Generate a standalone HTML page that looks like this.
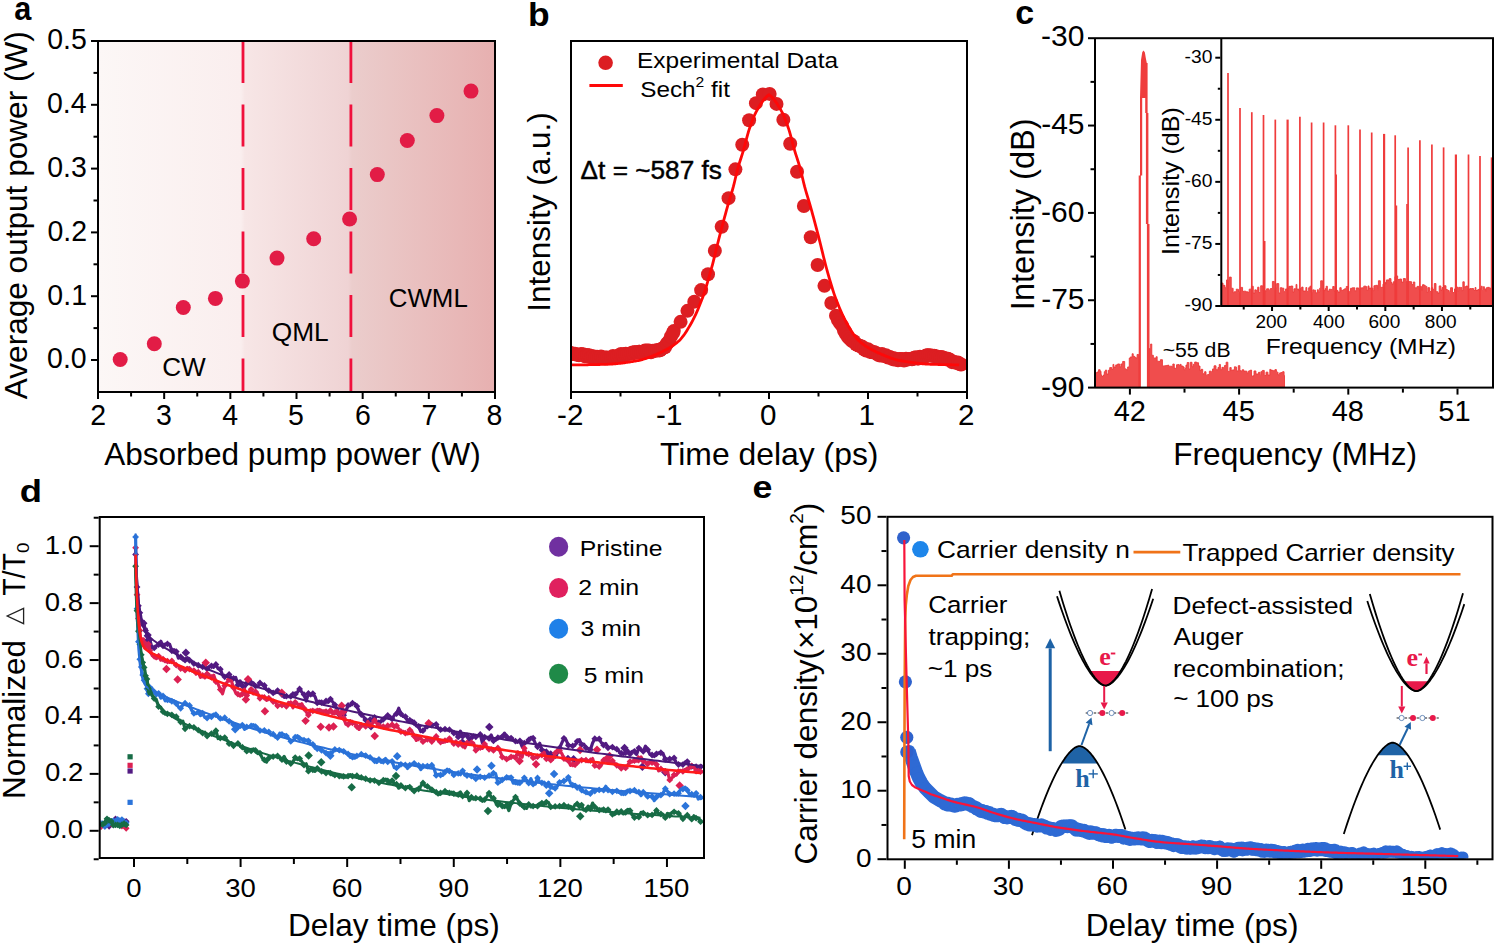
<!DOCTYPE html>
<html><head><meta charset="utf-8"><title>Figure</title>
<style>html,body{margin:0;padding:0;background:#fff;}svg{display:block;}</style></head>
<body><svg width="1495" height="943" viewBox="0 0 1495 943">
<rect width="1495" height="943" fill="#fff"/>
<defs><linearGradient id="ga" x1="98" y1="0" x2="495" y2="0" gradientUnits="userSpaceOnUse"><stop offset="0" stop-color="#fcf7f6"/><stop offset="0.36" stop-color="#faeeee"/><stop offset="0.37" stop-color="#f7e6e6"/><stop offset="0.63" stop-color="#efd3d4"/><stop offset="0.64" stop-color="#ebcdcc"/><stop offset="1" stop-color="#e7b0b0"/></linearGradient></defs>
<rect x="98" y="41" width="397" height="351" fill="url(#ga)"/>
<line x1="243" y1="41" x2="243" y2="392" stroke="#f0103c" stroke-width="2.8" stroke-dasharray="42 21.5"/>
<line x1="350.9" y1="41" x2="350.9" y2="392" stroke="#f0103c" stroke-width="2.8" stroke-dasharray="42 21.5"/>
<circle cx="120.2" cy="359.5" r="7.5" fill="#e21c46"/>
<circle cx="154.3" cy="343.7" r="7.5" fill="#e21c46"/>
<circle cx="183.3" cy="307.5" r="7.5" fill="#e21c46"/>
<circle cx="215.4" cy="298.4" r="7.5" fill="#e21c46"/>
<circle cx="242.4" cy="281.1" r="7.5" fill="#e21c46"/>
<circle cx="277" cy="258.1" r="7.5" fill="#e21c46"/>
<circle cx="313.7" cy="238.8" r="7.5" fill="#e21c46"/>
<circle cx="349.6" cy="219" r="7.5" fill="#e21c46"/>
<circle cx="377.3" cy="174.6" r="7.5" fill="#e21c46"/>
<circle cx="407.3" cy="140.5" r="7.5" fill="#e21c46"/>
<circle cx="436.9" cy="115.6" r="7.5" fill="#e21c46"/>
<circle cx="471" cy="91.1" r="7.5" fill="#e21c46"/>
<rect x="98" y="41" width="397" height="351" fill="none" stroke="#000" stroke-width="2"/>
<line x1="97" y1="360" x2="91" y2="360" stroke="#000" stroke-width="2" />
<line x1="97" y1="296.2" x2="91" y2="296.2" stroke="#000" stroke-width="2" />
<line x1="97" y1="232.4" x2="91" y2="232.4" stroke="#000" stroke-width="2" />
<line x1="97" y1="168.6" x2="91" y2="168.6" stroke="#000" stroke-width="2" />
<line x1="97" y1="104.8" x2="91" y2="104.8" stroke="#000" stroke-width="2" />
<line x1="97" y1="41" x2="91" y2="41" stroke="#000" stroke-width="2" />
<line x1="97" y1="328.1" x2="93.5" y2="328.1" stroke="#000" stroke-width="2" />
<line x1="97" y1="264.3" x2="93.5" y2="264.3" stroke="#000" stroke-width="2" />
<line x1="97" y1="200.5" x2="93.5" y2="200.5" stroke="#000" stroke-width="2" />
<line x1="97" y1="136.7" x2="93.5" y2="136.7" stroke="#000" stroke-width="2" />
<line x1="97" y1="72.9" x2="93.5" y2="72.9" stroke="#000" stroke-width="2" />
<line x1="98" y1="393" x2="98" y2="399" stroke="#000" stroke-width="2" />
<line x1="164.17" y1="393" x2="164.17" y2="399" stroke="#000" stroke-width="2" />
<line x1="230.33" y1="393" x2="230.33" y2="399" stroke="#000" stroke-width="2" />
<line x1="296.5" y1="393" x2="296.5" y2="399" stroke="#000" stroke-width="2" />
<line x1="362.67" y1="393" x2="362.67" y2="399" stroke="#000" stroke-width="2" />
<line x1="428.83" y1="393" x2="428.83" y2="399" stroke="#000" stroke-width="2" />
<line x1="495" y1="393" x2="495" y2="399" stroke="#000" stroke-width="2" />
<line x1="131.08" y1="393" x2="131.08" y2="396.5" stroke="#000" stroke-width="2" />
<line x1="197.25" y1="393" x2="197.25" y2="396.5" stroke="#000" stroke-width="2" />
<line x1="263.42" y1="393" x2="263.42" y2="396.5" stroke="#000" stroke-width="2" />
<line x1="329.58" y1="393" x2="329.58" y2="396.5" stroke="#000" stroke-width="2" />
<line x1="395.75" y1="393" x2="395.75" y2="396.5" stroke="#000" stroke-width="2" />
<line x1="461.92" y1="393" x2="461.92" y2="396.5" stroke="#000" stroke-width="2" />
<text transform="translate(14.28,19.6) scale(0.9432,1)" font-family="Liberation Sans, sans-serif" font-size="32.5" font-weight="bold" fill="#000" >a</text>
<text transform="translate(47.08,368.2) scale(0.9500,1)" font-family="Liberation Sans, sans-serif" font-size="30" fill="#000" >0.0</text>
<text transform="translate(47.37,304.9) scale(0.9500,1)" font-family="Liberation Sans, sans-serif" font-size="30" fill="#000" >0.1</text>
<text transform="translate(47.51,241) scale(0.9500,1)" font-family="Liberation Sans, sans-serif" font-size="30" fill="#000" >0.2</text>
<text transform="translate(47.23,177.1) scale(0.9500,1)" font-family="Liberation Sans, sans-serif" font-size="30" fill="#000" >0.3</text>
<text transform="translate(46.94,113.2) scale(0.9500,1)" font-family="Liberation Sans, sans-serif" font-size="30" fill="#000" >0.4</text>
<text transform="translate(47.23,48.8) scale(0.9500,1)" font-family="Liberation Sans, sans-serif" font-size="30" fill="#000" >0.5</text>
<text transform="translate(90.29,424.6) scale(0.9500,1)" font-family="Liberation Sans, sans-serif" font-size="30" fill="#000" >2</text>
<text transform="translate(156.09,424.6) scale(0.9500,1)" font-family="Liberation Sans, sans-serif" font-size="30" fill="#000" >3</text>
<text transform="translate(222.13,424.6) scale(0.9500,1)" font-family="Liberation Sans, sans-serif" font-size="30" fill="#000" >4</text>
<text transform="translate(287.99,424.6) scale(0.9500,1)" font-family="Liberation Sans, sans-serif" font-size="30" fill="#000" >5</text>
<text transform="translate(354.95,424.6) scale(0.9500,1)" font-family="Liberation Sans, sans-serif" font-size="30" fill="#000" >6</text>
<text transform="translate(421.39,424.6) scale(0.9500,1)" font-family="Liberation Sans, sans-serif" font-size="30" fill="#000" >7</text>
<text transform="translate(486.52,424.6) scale(0.9500,1)" font-family="Liberation Sans, sans-serif" font-size="30" fill="#000" >8</text>
<text transform="translate(104.2,464.6) scale(1.0011,1)" font-family="Liberation Sans, sans-serif" font-size="31.5" fill="#000" >Absorbed pump power (W)</text>
<text transform="translate(27.3,399.2) rotate(-90) scale(1.0028,1)" font-family="Liberation Sans, sans-serif" font-size="31.5" fill="#000" >Average output power (W)</text>
<text transform="translate(162.19,376.3) scale(0.9891,1)" font-family="Liberation Sans, sans-serif" font-size="26.5" fill="#000" >CW</text>
<text transform="translate(271.72,341) scale(0.9930,1)" font-family="Liberation Sans, sans-serif" font-size="26.5" fill="#000" >QML</text>
<text transform="translate(388.71,307.4) scale(0.9767,1)" font-family="Liberation Sans, sans-serif" font-size="26.5" fill="#000" >CWML</text>
<clipPath id="cb"><rect x="572" y="42" width="394" height="349"/></clipPath><g clip-path="url(#cb)">
<circle cx="571" cy="353.5" r="7" fill="#dc1e22"/>
<circle cx="577.85" cy="354.64" r="7" fill="#dc1e22"/>
<circle cx="584.7" cy="355.47" r="7" fill="#dc1e22"/>
<circle cx="591.55" cy="356.19" r="7" fill="#dc1e22"/>
<circle cx="598.4" cy="357.01" r="7" fill="#dc1e22"/>
<circle cx="605.25" cy="357.41" r="7" fill="#dc1e22"/>
<circle cx="612.1" cy="357.18" r="7" fill="#dc1e22"/>
<circle cx="618.95" cy="355.73" r="7" fill="#dc1e22"/>
<circle cx="625.8" cy="353.83" r="7" fill="#dc1e22"/>
<circle cx="632.65" cy="352.44" r="7" fill="#dc1e22"/>
<circle cx="639.5" cy="351.84" r="7" fill="#dc1e22"/>
<circle cx="646.35" cy="351.42" r="7" fill="#dc1e22"/>
<circle cx="653.2" cy="350.91" r="7" fill="#dc1e22"/>
<circle cx="660.05" cy="350.27" r="7" fill="#dc1e22"/>
<circle cx="666.9" cy="343.67" r="7" fill="#dc1e22"/>
<circle cx="673.75" cy="331.12" r="7" fill="#dc1e22"/>
<circle cx="680.6" cy="321.83" r="7" fill="#dc1e22"/>
<circle cx="687.45" cy="310.86" r="7" fill="#dc1e22"/>
<circle cx="694.3" cy="301.65" r="7" fill="#dc1e22"/>
<circle cx="701.15" cy="290.08" r="7" fill="#dc1e22"/>
<circle cx="708" cy="274.25" r="7" fill="#dc1e22"/>
<circle cx="714.85" cy="250.68" r="7" fill="#dc1e22"/>
<circle cx="721.7" cy="226.79" r="7" fill="#dc1e22"/>
<circle cx="728.55" cy="198.17" r="7" fill="#dc1e22"/>
<circle cx="735.4" cy="169.36" r="7" fill="#dc1e22"/>
<circle cx="742.25" cy="144.73" r="7" fill="#dc1e22"/>
<circle cx="749.1" cy="120.31" r="7" fill="#dc1e22"/>
<circle cx="755.95" cy="103.13" r="7" fill="#dc1e22"/>
<circle cx="762.8" cy="94.43" r="7" fill="#dc1e22"/>
<circle cx="769.65" cy="93.9" r="7" fill="#dc1e22"/>
<circle cx="776.5" cy="103.88" r="7" fill="#dc1e22"/>
<circle cx="783.35" cy="119.77" r="7" fill="#dc1e22"/>
<circle cx="790.2" cy="143.81" r="7" fill="#dc1e22"/>
<circle cx="797.05" cy="171.68" r="7" fill="#dc1e22"/>
<circle cx="803.9" cy="206.06" r="7" fill="#dc1e22"/>
<circle cx="810.75" cy="237.32" r="7" fill="#dc1e22"/>
<circle cx="817.6" cy="264.94" r="7" fill="#dc1e22"/>
<circle cx="824.45" cy="285.83" r="7" fill="#dc1e22"/>
<circle cx="831.3" cy="302.99" r="7" fill="#dc1e22"/>
<circle cx="838.15" cy="319.08" r="7" fill="#dc1e22"/>
<circle cx="845" cy="331.5" r="7" fill="#dc1e22"/>
<circle cx="851.85" cy="340.39" r="7" fill="#dc1e22"/>
<circle cx="858.7" cy="345.53" r="7" fill="#dc1e22"/>
<circle cx="865.55" cy="349.09" r="7" fill="#dc1e22"/>
<circle cx="872.4" cy="352.28" r="7" fill="#dc1e22"/>
<circle cx="879.25" cy="354.41" r="7" fill="#dc1e22"/>
<circle cx="886.1" cy="356.38" r="7" fill="#dc1e22"/>
<circle cx="892.95" cy="358.1" r="7" fill="#dc1e22"/>
<circle cx="899.8" cy="359.5" r="7" fill="#dc1e22"/>
<circle cx="906.65" cy="359.83" r="7" fill="#dc1e22"/>
<circle cx="913.5" cy="358.74" r="7" fill="#dc1e22"/>
<circle cx="920.35" cy="357.19" r="7" fill="#dc1e22"/>
<circle cx="927.2" cy="355.51" r="7" fill="#dc1e22"/>
<circle cx="934.05" cy="355.87" r="7" fill="#dc1e22"/>
<circle cx="940.9" cy="357.12" r="7" fill="#dc1e22"/>
<circle cx="947.75" cy="359.35" r="7" fill="#dc1e22"/>
<circle cx="954.6" cy="362.14" r="7" fill="#dc1e22"/>
<circle cx="961.45" cy="364.5" r="7" fill="#dc1e22"/>
<circle cx="571" cy="352.87" r="7" fill="#dc1e22"/>
<circle cx="573" cy="353.94" r="7" fill="#dc1e22"/>
<circle cx="575" cy="353.85" r="7" fill="#dc1e22"/>
<circle cx="577" cy="354.75" r="7" fill="#dc1e22"/>
<circle cx="579" cy="355.14" r="7" fill="#dc1e22"/>
<circle cx="581" cy="354.06" r="7" fill="#dc1e22"/>
<circle cx="583" cy="354.13" r="7" fill="#dc1e22"/>
<circle cx="585" cy="356.31" r="7" fill="#dc1e22"/>
<circle cx="587" cy="355.12" r="7" fill="#dc1e22"/>
<circle cx="589" cy="355.26" r="7" fill="#dc1e22"/>
<circle cx="591" cy="357.31" r="7" fill="#dc1e22"/>
<circle cx="593" cy="356.29" r="7" fill="#dc1e22"/>
<circle cx="595" cy="357.41" r="7" fill="#dc1e22"/>
<circle cx="597" cy="356.78" r="7" fill="#dc1e22"/>
<circle cx="599" cy="357.41" r="7" fill="#dc1e22"/>
<circle cx="601" cy="356.4" r="7" fill="#dc1e22"/>
<circle cx="603" cy="357.64" r="7" fill="#dc1e22"/>
<circle cx="605" cy="358.28" r="7" fill="#dc1e22"/>
<circle cx="607" cy="357.54" r="7" fill="#dc1e22"/>
<circle cx="609" cy="358.14" r="7" fill="#dc1e22"/>
<circle cx="611" cy="357.81" r="7" fill="#dc1e22"/>
<circle cx="613" cy="355.95" r="7" fill="#dc1e22"/>
<circle cx="615" cy="357.22" r="7" fill="#dc1e22"/>
<circle cx="617" cy="356.42" r="7" fill="#dc1e22"/>
<circle cx="619" cy="355.24" r="7" fill="#dc1e22"/>
<circle cx="621" cy="354.02" r="7" fill="#dc1e22"/>
<circle cx="623" cy="355.45" r="7" fill="#dc1e22"/>
<circle cx="625" cy="353.93" r="7" fill="#dc1e22"/>
<circle cx="627" cy="354.1" r="7" fill="#dc1e22"/>
<circle cx="629" cy="354.05" r="7" fill="#dc1e22"/>
<circle cx="631" cy="353.23" r="7" fill="#dc1e22"/>
<circle cx="633" cy="353.42" r="7" fill="#dc1e22"/>
<circle cx="635" cy="351.99" r="7" fill="#dc1e22"/>
<circle cx="637" cy="352.78" r="7" fill="#dc1e22"/>
<circle cx="639" cy="351.75" r="7" fill="#dc1e22"/>
<circle cx="641" cy="352.79" r="7" fill="#dc1e22"/>
<circle cx="643" cy="352.53" r="7" fill="#dc1e22"/>
<circle cx="645" cy="350.53" r="7" fill="#dc1e22"/>
<circle cx="647" cy="350.51" r="7" fill="#dc1e22"/>
<circle cx="649" cy="350.58" r="7" fill="#dc1e22"/>
<circle cx="651" cy="352.23" r="7" fill="#dc1e22"/>
<circle cx="653" cy="350.78" r="7" fill="#dc1e22"/>
<circle cx="655" cy="351.05" r="7" fill="#dc1e22"/>
<circle cx="657" cy="350.09" r="7" fill="#dc1e22"/>
<circle cx="659" cy="350.41" r="7" fill="#dc1e22"/>
<circle cx="661" cy="349.37" r="7" fill="#dc1e22"/>
<circle cx="663" cy="347.96" r="7" fill="#dc1e22"/>
<circle cx="665" cy="347.2" r="7" fill="#dc1e22"/>
<circle cx="667" cy="343.7" r="7" fill="#dc1e22"/>
<circle cx="669" cy="340.97" r="7" fill="#dc1e22"/>
<circle cx="671" cy="336.44" r="7" fill="#dc1e22"/>
<circle cx="673" cy="333.03" r="7" fill="#dc1e22"/>
<circle cx="836" cy="315.76" r="7" fill="#dc1e22"/>
<circle cx="838" cy="319.96" r="7" fill="#dc1e22"/>
<circle cx="840" cy="323.08" r="7" fill="#dc1e22"/>
<circle cx="842" cy="325.75" r="7" fill="#dc1e22"/>
<circle cx="844" cy="330.87" r="7" fill="#dc1e22"/>
<circle cx="846" cy="334.12" r="7" fill="#dc1e22"/>
<circle cx="848" cy="336.97" r="7" fill="#dc1e22"/>
<circle cx="850" cy="339.17" r="7" fill="#dc1e22"/>
<circle cx="852" cy="341.01" r="7" fill="#dc1e22"/>
<circle cx="854" cy="341.31" r="7" fill="#dc1e22"/>
<circle cx="856" cy="344.3" r="7" fill="#dc1e22"/>
<circle cx="858" cy="345.18" r="7" fill="#dc1e22"/>
<circle cx="860" cy="345.98" r="7" fill="#dc1e22"/>
<circle cx="862" cy="346.38" r="7" fill="#dc1e22"/>
<circle cx="864" cy="349.21" r="7" fill="#dc1e22"/>
<circle cx="866" cy="350.47" r="7" fill="#dc1e22"/>
<circle cx="868" cy="349.24" r="7" fill="#dc1e22"/>
<circle cx="870" cy="351.88" r="7" fill="#dc1e22"/>
<circle cx="872" cy="351.88" r="7" fill="#dc1e22"/>
<circle cx="874" cy="352.06" r="7" fill="#dc1e22"/>
<circle cx="876" cy="352.98" r="7" fill="#dc1e22"/>
<circle cx="878" cy="354.7" r="7" fill="#dc1e22"/>
<circle cx="880" cy="355.52" r="7" fill="#dc1e22"/>
<circle cx="882" cy="354.11" r="7" fill="#dc1e22"/>
<circle cx="884" cy="356.05" r="7" fill="#dc1e22"/>
<circle cx="886" cy="355.26" r="7" fill="#dc1e22"/>
<circle cx="888" cy="357.45" r="7" fill="#dc1e22"/>
<circle cx="890" cy="357.09" r="7" fill="#dc1e22"/>
<circle cx="892" cy="358.82" r="7" fill="#dc1e22"/>
<circle cx="894" cy="359.47" r="7" fill="#dc1e22"/>
<circle cx="896" cy="358.74" r="7" fill="#dc1e22"/>
<circle cx="898" cy="360.33" r="7" fill="#dc1e22"/>
<circle cx="900" cy="359.09" r="7" fill="#dc1e22"/>
<circle cx="902" cy="358.94" r="7" fill="#dc1e22"/>
<circle cx="904" cy="360.49" r="7" fill="#dc1e22"/>
<circle cx="906" cy="358.81" r="7" fill="#dc1e22"/>
<circle cx="908" cy="358.89" r="7" fill="#dc1e22"/>
<circle cx="910" cy="359.08" r="7" fill="#dc1e22"/>
<circle cx="912" cy="359.24" r="7" fill="#dc1e22"/>
<circle cx="914" cy="357.83" r="7" fill="#dc1e22"/>
<circle cx="916" cy="357.16" r="7" fill="#dc1e22"/>
<circle cx="918" cy="358.65" r="7" fill="#dc1e22"/>
<circle cx="920" cy="356.83" r="7" fill="#dc1e22"/>
<circle cx="922" cy="357.89" r="7" fill="#dc1e22"/>
<circle cx="924" cy="357.25" r="7" fill="#dc1e22"/>
<circle cx="926" cy="355.51" r="7" fill="#dc1e22"/>
<circle cx="928" cy="355.22" r="7" fill="#dc1e22"/>
<circle cx="930" cy="355.18" r="7" fill="#dc1e22"/>
<circle cx="932" cy="355.84" r="7" fill="#dc1e22"/>
<circle cx="934" cy="356.09" r="7" fill="#dc1e22"/>
<circle cx="936" cy="356.36" r="7" fill="#dc1e22"/>
<circle cx="938" cy="356.88" r="7" fill="#dc1e22"/>
<circle cx="940" cy="358.01" r="7" fill="#dc1e22"/>
<circle cx="942" cy="357.33" r="7" fill="#dc1e22"/>
<circle cx="944" cy="357.72" r="7" fill="#dc1e22"/>
<circle cx="946" cy="359.2" r="7" fill="#dc1e22"/>
<circle cx="948" cy="358.81" r="7" fill="#dc1e22"/>
<circle cx="950" cy="359.74" r="7" fill="#dc1e22"/>
<circle cx="952" cy="362.15" r="7" fill="#dc1e22"/>
<circle cx="954" cy="361.93" r="7" fill="#dc1e22"/>
<circle cx="956" cy="362.87" r="7" fill="#dc1e22"/>
<circle cx="958" cy="362.45" r="7" fill="#dc1e22"/>
<circle cx="960" cy="364.3" r="7" fill="#dc1e22"/>
<path d="M571,364.96 L571.99,364.96 L572.98,364.95 L573.97,364.94 L574.96,364.93 L575.95,364.92 L576.94,364.91 L577.93,364.89 L578.92,364.88 L579.91,364.87 L580.9,364.86 L581.89,364.84 L582.88,364.83 L583.87,364.81 L584.86,364.79 L585.85,364.78 L586.84,364.76 L587.83,364.74 L588.82,364.72 L589.81,364.7 L590.8,364.68 L591.79,364.66 L592.78,364.64 L593.77,364.62 L594.76,364.6 L595.75,364.58 L596.74,364.55 L597.73,364.53 L598.72,364.5 L599.71,364.48 L600.7,364.45 L601.69,364.43 L602.68,364.4 L603.67,364.38 L604.66,364.35 L605.65,364.32 L606.64,364.29 L607.63,364.26 L608.62,364.22 L609.61,364.17 L610.6,364.12 L611.59,364.06 L612.58,363.99 L613.57,363.92 L614.56,363.84 L615.55,363.76 L616.54,363.66 L617.53,363.57 L618.52,363.47 L619.51,363.36 L620.5,363.25 L621.49,363.13 L622.48,363.01 L623.47,362.89 L624.46,362.76 L625.45,362.62 L626.44,362.48 L627.43,362.34 L628.42,362.19 L629.41,362.04 L630.4,361.89 L631.39,361.73 L632.38,361.57 L633.37,361.41 L634.36,361.24 L635.35,361.07 L636.34,360.9 L637.33,360.72 L638.32,360.53 L639.31,360.31 L640.3,360.08 L641.29,359.83 L642.28,359.57 L643.27,359.28 L644.26,358.98 L645.25,358.67 L646.24,358.34 L647.23,358 L648.22,357.65 L649.21,357.29 L650.2,356.91 L651.19,356.52 L652.18,356.13 L653.17,355.72 L654.16,355.31 L655.15,354.89 L656.14,354.46 L657.13,354.03 L658.12,353.59 L659.11,353.15 L660.1,352.71 L661.09,352.25 L662.08,351.79 L663.07,351.32 L664.06,350.83 L665.05,350.33 L666.04,349.82 L667.03,349.28 L668.02,348.73 L669.01,348.15 L670,347.56 L670.99,346.94 L671.98,346.29 L672.97,345.62 L673.96,344.91 L674.95,344.18 L675.94,343.42 L676.93,342.62 L677.92,341.79 L678.91,340.92 L679.9,339.96 L680.89,338.89 L681.88,337.72 L682.87,336.46 L683.86,335.1 L684.85,333.68 L685.84,332.18 L686.83,330.63 L687.82,329.02 L688.81,327.38 L689.8,325.7 L690.79,324 L691.78,322.22 L692.77,320.36 L693.76,318.41 L694.75,316.38 L695.74,314.28 L696.73,312.09 L697.72,309.83 L698.71,307.49 L699.7,305.07 L700.69,302.59 L701.68,300.03 L702.67,297.39 L703.66,294.57 L704.65,291.61 L705.64,288.5 L706.63,285.27 L707.62,281.94 L708.61,278.53 L709.6,275.06 L710.59,271.54 L711.58,267.99 L712.57,264.29 L713.56,260.44 L714.55,256.46 L715.54,252.41 L716.53,248.33 L717.52,244.27 L718.51,240.28 L719.5,236.39 L720.49,232.59 L721.48,228.82 L722.47,225.08 L723.46,221.37 L724.45,217.7 L725.44,214.06 L726.43,210.47 L727.42,206.93 L728.41,203.51 L729.4,200.2 L730.39,196.94 L731.38,193.65 L732.37,190.25 L733.36,186.67 L734.35,182.74 L735.34,178.53 L736.33,174.31 L737.32,170.33 L738.31,166.76 L739.3,163.45 L740.29,160.29 L741.28,157.2 L742.27,154.07 L743.26,150.81 L744.25,147.32 L745.24,143.59 L746.23,139.78 L747.22,136.04 L748.21,132.54 L749.2,129.41 L750.19,126.49 L751.18,123.67 L752.17,120.96 L753.16,118.4 L754.15,116.01 L755.14,113.83 L756.13,111.87 L757.12,110.11 L758.11,108.39 L759.1,106.72 L760.09,105.1 L761.08,103.55 L762.07,102.07 L763.06,100.68 L764.05,99.39 L765.04,98.21 L766.03,97.15 L767.02,96.22 L768.01,95.43 L769,94.8 L769.99,95.43 L770.98,96.22 L771.97,97.15 L772.96,98.21 L773.95,99.39 L774.94,100.68 L775.93,102.07 L776.92,103.55 L777.91,105.1 L778.9,106.72 L779.89,108.39 L780.88,110.11 L781.87,111.87 L782.86,113.83 L783.85,116.01 L784.84,118.4 L785.83,120.96 L786.82,123.67 L787.81,126.49 L788.8,129.41 L789.79,132.54 L790.78,136.04 L791.77,139.78 L792.76,143.59 L793.75,147.32 L794.74,150.81 L795.73,154.07 L796.72,157.2 L797.71,160.29 L798.7,163.45 L799.69,166.76 L800.68,170.33 L801.67,174.31 L802.66,178.53 L803.65,182.74 L804.64,186.67 L805.63,190.25 L806.62,193.65 L807.61,196.94 L808.6,200.2 L809.59,203.51 L810.58,206.93 L811.57,210.47 L812.56,214.06 L813.55,217.7 L814.54,221.37 L815.53,225.08 L816.52,228.82 L817.51,232.59 L818.5,236.39 L819.49,240.28 L820.48,244.27 L821.47,248.33 L822.46,252.41 L823.45,256.46 L824.44,260.44 L825.43,264.29 L826.42,267.99 L827.41,271.54 L828.4,275.06 L829.39,278.53 L830.38,281.94 L831.37,285.27 L832.36,288.5 L833.35,291.61 L834.34,294.57 L835.33,297.39 L836.32,300.03 L837.31,302.59 L838.3,305.07 L839.29,307.49 L840.28,309.83 L841.27,312.09 L842.26,314.28 L843.25,316.38 L844.24,318.41 L845.23,320.36 L846.22,322.22 L847.21,324 L848.2,325.7 L849.19,327.38 L850.18,329.02 L851.17,330.63 L852.16,332.18 L853.15,333.68 L854.14,335.1 L855.13,336.46 L856.12,337.72 L857.11,338.89 L858.1,339.96 L859.09,340.92 L860.08,341.79 L861.07,342.62 L862.06,343.42 L863.05,344.18 L864.04,344.91 L865.03,345.62 L866.02,346.29 L867.01,346.94 L868,347.56 L868.99,348.15 L869.98,348.73 L870.97,349.28 L871.96,349.82 L872.95,350.33 L873.94,350.83 L874.93,351.32 L875.92,351.79 L876.91,352.25 L877.9,352.71 L878.89,353.15 L879.88,353.59 L880.87,354.03 L881.86,354.46 L882.85,354.89 L883.84,355.31 L884.83,355.72 L885.82,356.13 L886.81,356.52 L887.8,356.91 L888.79,357.29 L889.78,357.65 L890.77,358 L891.76,358.34 L892.75,358.67 L893.74,358.98 L894.73,359.28 L895.72,359.57 L896.71,359.83 L897.7,360.08 L898.69,360.31 L899.68,360.53 L900.67,360.72 L901.66,360.9 L902.65,361.07 L903.64,361.24 L904.63,361.41 L905.62,361.57 L906.61,361.73 L907.6,361.89 L908.59,362.04 L909.58,362.19 L910.57,362.34 L911.56,362.48 L912.55,362.62 L913.54,362.76 L914.53,362.89 L915.52,363.01 L916.51,363.13 L917.5,363.25 L918.49,363.36 L919.48,363.47 L920.47,363.57 L921.46,363.66 L922.45,363.76 L923.44,363.84 L924.43,363.92 L925.42,363.99 L926.41,364.06 L927.4,364.12 L928.39,364.17 L929.38,364.22 L930.37,364.26 L931.36,364.29 L932.35,364.32 L933.34,364.35 L934.33,364.38 L935.32,364.4 L936.31,364.43 L937.3,364.45 L938.29,364.48 L939.28,364.5 L940.27,364.53 L941.26,364.55 L942.25,364.58 L943.24,364.6 L944.23,364.62 L945.22,364.64 L946.21,364.66 L947.2,364.68 L948.19,364.7 L949.18,364.72 L950.17,364.74 L951.16,364.76 L952.15,364.78 L953.14,364.79 L954.13,364.81 L955.12,364.83 L956.11,364.84 L957.1,364.86 L958.09,364.87 L959.08,364.88" stroke="#fe0808" stroke-width="2.8" fill="none" stroke-linejoin="round" />
</g>
<rect x="571" y="41" width="396" height="351" fill="none" stroke="#000" stroke-width="2"/>
<line x1="571" y1="393" x2="571" y2="399" stroke="#000" stroke-width="2" />
<line x1="670" y1="393" x2="670" y2="399" stroke="#000" stroke-width="2" />
<line x1="769" y1="393" x2="769" y2="399" stroke="#000" stroke-width="2" />
<line x1="868" y1="393" x2="868" y2="399" stroke="#000" stroke-width="2" />
<line x1="967" y1="393" x2="967" y2="399" stroke="#000" stroke-width="2" />
<line x1="620.5" y1="393" x2="620.5" y2="396.5" stroke="#000" stroke-width="2" />
<line x1="719.5" y1="393" x2="719.5" y2="396.5" stroke="#000" stroke-width="2" />
<line x1="818.5" y1="393" x2="818.5" y2="396.5" stroke="#000" stroke-width="2" />
<line x1="917.5" y1="393" x2="917.5" y2="396.5" stroke="#000" stroke-width="2" />
<circle cx="605.6" cy="62.8" r="7.3" fill="#dc1e22"/>
<text transform="translate(637.04,68.2) scale(1.0870,1)" font-family="Liberation Sans, sans-serif" font-size="22.5" fill="#000" >Experimental Data</text>
<line x1="589.4" y1="85.5" x2="622.8" y2="85.5" stroke="#fe0808" stroke-width="3" />
<text transform="translate(640.2,97.1) scale(1.08,1)" font-family="Liberation Sans, sans-serif" font-size="22.5" fill="#000">Sech<tspan font-size="14.5" dy="-10.5">2</tspan><tspan dy="10.5"> fit</tspan></text>
<text transform="translate(580.61,178.9) scale(1.0198,1)" font-family="Liberation Sans, sans-serif" font-size="25.7" fill="#000" stroke="#000" stroke-width="0.45">Δt = ~587 fs</text>
<text transform="translate(528,25.6) scale(1.0906,1)" font-family="Liberation Sans, sans-serif" font-size="32.5" font-weight="bold" fill="#000" >b</text>
<text transform="translate(557.1,424.8) scale(1.0000,1)" font-family="Liberation Sans, sans-serif" font-size="29.6" fill="#000" >-2</text>
<text transform="translate(656.03,424.8) scale(1.0000,1)" font-family="Liberation Sans, sans-serif" font-size="29.6" fill="#000" >-1</text>
<text transform="translate(759.91,424.8) scale(1.0000,1)" font-family="Liberation Sans, sans-serif" font-size="29.6" fill="#000" >0</text>
<text transform="translate(858.54,424.8) scale(1.0000,1)" font-family="Liberation Sans, sans-serif" font-size="29.6" fill="#000" >1</text>
<text transform="translate(957.99,424.8) scale(1.0000,1)" font-family="Liberation Sans, sans-serif" font-size="29.6" fill="#000" >2</text>
<text transform="translate(659.96,464.6) scale(1.0124,1)" font-family="Liberation Sans, sans-serif" font-size="31.5" fill="#000" >Time delay (ps)</text>
<text transform="translate(549.5,311.83) rotate(-90) scale(0.9999,1)" font-family="Liberation Sans, sans-serif" font-size="31.5" fill="#000" >Intensity (a.u.)</text>
<path d="M1095,387.6 L1095,372.8 L1096.98,372.8 L1096.98,372.06 L1098.53,372.06 L1098.53,369.74 L1100.12,369.74 L1100.12,371.3 L1101.02,371.3 L1101.02,374.99 L1101.86,374.99 L1101.86,376.51 L1103.49,376.51 L1103.49,374.98 L1104.29,374.98 L1104.29,371.69 L1105.38,371.69 L1105.38,370.14 L1106.73,370.14 L1106.73,374.02 L1108.35,374.02 L1108.35,370.26 L1109.72,370.26 L1109.72,367.62 L1111.79,367.62 L1111.79,369.37 L1112.98,369.37 L1112.98,364.41 L1113.86,364.41 L1113.86,367.07 L1115.74,367.07 L1115.74,364.91 L1117.62,364.91 L1117.62,363.99 L1119.58,363.99 L1119.58,366.87 L1120.88,366.87 L1120.88,363.96 L1122.67,363.96 L1122.67,361.47 L1124.7,361.47 L1124.7,368.72 L1125.61,368.72 L1125.61,369.26 L1126.63,369.26 L1126.63,369.76 L1127.65,369.76 L1127.65,366.97 L1129.27,366.97 L1129.27,358.11 L1130.33,358.11 L1130.33,356.97 L1132.15,356.97 L1132.15,353.75 L1133.21,353.75 L1133.21,356.36 L1134.82,356.36 L1134.82,357.59 L1135.88,357.59 L1135.88,357.95 L1137.08,357.95 L1137.08,354.48 L1138.62,354.48 L1138.62,354.73 L1139.2,354.73 L1139.2,387.6 Z" stroke="#ec3838" stroke-width="0.9" fill="#f04d4d" stroke-linejoin="round" />
<path d="M1149,387.6 L1149,348.69 L1150.65,348.69 L1150.65,344.06 L1151.78,344.06 L1151.78,355.28 L1153.34,355.28 L1153.34,358.16 L1154.31,358.16 L1154.31,357.97 L1156.27,357.97 L1156.27,356.67 L1157.15,356.67 L1157.15,361.2 L1158.45,361.2 L1158.45,361.37 L1160.42,361.37 L1160.42,359.69 L1162.43,359.69 L1162.43,365.77 L1163.39,365.77 L1163.39,366.51 L1164.38,366.51 L1164.38,365.76 L1166.22,365.76 L1166.22,365.47 L1167.78,365.47 L1167.78,365.07 L1168.6,365.07 L1168.6,366.21 L1170.65,366.21 L1170.65,366.23 L1171.9,366.23 L1171.9,366.72 L1172.83,366.72 L1172.83,364.04 L1174.27,364.04 L1174.27,368.08 L1175.09,368.08 L1175.09,368.32 L1176.54,368.32 L1176.54,364.77 L1177.83,364.77 L1177.83,364.48 L1178.84,364.48 L1178.84,365.22 L1180.07,365.22 L1180.07,364.4 L1181.12,364.4 L1181.12,366.07 L1183.14,366.07 L1183.14,367.01 L1184.14,367.01 L1184.14,369.65 L1185.17,369.65 L1185.17,368.32 L1185.96,368.32 L1185.96,365.09 L1187.18,365.09 L1187.18,362.52 L1188.77,362.52 L1188.77,369.01 L1190.2,369.01 L1190.2,362.3 L1192,362.3 L1192,366.76 L1193.08,366.76 L1193.08,364.39 L1194.68,364.39 L1194.68,362.07 L1196.62,362.07 L1196.62,362.74 L1198.54,362.74 L1198.54,366 L1199.98,366 L1199.98,370.58 L1201.04,370.58 L1201.04,369.34 L1202.71,369.34 L1202.71,373.71 L1204.64,373.71 L1204.64,371.73 L1205.99,371.73 L1205.99,375.16 L1207.58,375.16 L1207.58,374.6 L1209.35,374.6 L1209.35,371.18 L1211.3,371.18 L1211.3,372.41 L1212.53,372.41 L1212.53,368.98 L1214.05,368.98 L1214.05,365.82 L1216,365.82 L1216,369.65 L1217.96,369.65 L1217.96,367.47 L1219.24,367.47 L1219.24,364.46 L1220.42,364.46 L1220.42,369.62 L1221.91,369.62 L1221.91,367.37 L1223.38,367.37 L1223.38,367.63 L1224.48,367.63 L1224.48,365.57 L1226.15,365.57 L1226.15,362.2 L1227.84,362.2 L1227.84,371.43 L1229.83,371.43 L1229.83,367.57 L1231.19,367.57 L1231.19,370.5 L1232.41,370.5 L1232.41,369.9 L1234.42,369.9 L1234.42,366.81 L1235.56,366.81 L1235.56,367.14 L1236.63,367.14 L1236.63,370.88 L1238.32,370.88 L1238.32,365.67 L1239.89,365.67 L1239.89,370.65 L1241.26,370.65 L1241.26,371.28 L1242.34,371.28 L1242.34,369.68 L1243.63,369.68 L1243.63,371.06 L1245.68,371.06 L1245.68,371.18 L1246.91,371.18 L1246.91,372.89 L1248.34,372.89 L1248.34,371.17 L1249.3,371.17 L1249.3,370.74 L1250.41,370.74 L1250.41,370.09 L1251.56,370.09 L1251.56,376.29 L1252.84,376.29 L1252.84,375.81 L1254.04,375.81 L1254.04,370.96 L1255.92,370.96 L1255.92,373.95 L1257.23,373.95 L1257.23,373.93 L1258.54,373.93 L1258.54,372.33 L1259.84,372.33 L1259.84,375.14 L1260.89,375.14 L1260.89,371.66 L1262.35,371.66 L1262.35,370.45 L1264.26,370.45 L1264.26,375.48 L1266,375.48 L1266,372.15 L1267.9,372.15 L1267.9,375.04 L1269.83,375.04 L1269.83,369.37 L1270.62,369.37 L1270.62,370.1 L1272.33,370.1 L1272.33,370.47 L1273.35,370.47 L1273.35,370.65 L1274.92,370.65 L1274.92,369.62 L1276.4,369.62 L1276.4,372.13 L1278.03,372.13 L1278.03,374.71 L1279.63,374.71 L1279.63,372.89 L1280.92,372.89 L1280.92,372.56 L1282.63,372.56 L1282.63,371.68 L1284.05,371.68 L1284.05,375.38 L1284.5,375.38 L1284.5,387.6 Z" stroke="#ec3838" stroke-width="0.9" fill="#f04d4d" stroke-linejoin="round" />
<path d="M1138.7,387.6 L1138.7,175.5 L1140,175.5 L1140,97 L1142.2,97 L1142.2,175.5 L1140.9,175.5 L1140.9,387.6 Z" stroke="none" stroke-width="0" fill="#ef3d3d" stroke-linejoin="round" />
<path d="M1146.9,387.6 L1146.9,224 L1145.9,224 L1145.9,113 L1145.2,113 L1145.2,63 L1147.6,63 L1147.6,113 L1148.4,113 L1148.4,224 L1149.5,224 L1149.5,387.6 Z" stroke="none" stroke-width="0" fill="#ef3d3d" stroke-linejoin="round" />
<path d="M1140,98 L1141,60 L1142.3,52 L1143.6,50.4 L1144.9,52.5 L1145.8,58 L1146.8,63 L1146.4,98 Z" stroke="none" stroke-width="0" fill="#ef3d3d" stroke-linejoin="round" />
<path d="M1221.3,306 L1221.3,283.09 L1223.03,283.09 L1223.03,285.35 L1224.98,285.35 L1224.98,287.72 L1226.53,287.72 L1226.53,279.94 L1228.19,279.94 L1228.19,282.4 L1229.35,282.4 L1229.35,277.11 L1231.22,277.11 L1231.22,288.2 L1232.11,288.2 L1232.11,288.27 L1233.11,288.27 L1233.11,292.75 L1234.17,292.75 L1234.17,291.79 L1236.31,291.79 L1236.31,289.16 L1237.63,289.16 L1237.63,289.39 L1238.52,289.39 L1238.52,292.13 L1240.45,292.13 L1240.45,287.4 L1242.55,287.4 L1242.55,291.33 L1244.2,291.33 L1244.2,291.15 L1245.71,291.15 L1245.71,291.85 L1247.84,291.85 L1247.84,292.29 L1249.19,292.29 L1249.19,289.15 L1251.42,289.15 L1251.42,286.27 L1253.27,286.27 L1253.27,293.05 L1254.8,293.05 L1254.8,289.86 L1255.95,289.86 L1255.95,290.28 L1257.66,290.28 L1257.66,287.2 L1258.99,287.2 L1258.99,292.57 L1260.66,292.57 L1260.66,285.81 L1262.64,285.81 L1262.64,291.49 L1264.44,291.49 L1264.44,290.77 L1266.62,290.77 L1266.62,288.83 L1268.81,288.83 L1268.81,290.15 L1270.33,290.15 L1270.33,288.6 L1272.4,288.6 L1272.4,281.46 L1274.32,281.46 L1274.32,289.38 L1275.24,289.38 L1275.24,287.76 L1276.66,287.76 L1276.66,283.61 L1278.76,283.61 L1278.76,292.98 L1280.27,292.98 L1280.27,287.72 L1281.85,287.72 L1281.85,288.2 L1283.86,288.2 L1283.86,291.63 L1285.54,291.63 L1285.54,288.97 L1287.57,288.97 L1287.57,288.12 L1288.8,288.12 L1288.8,286.36 L1290.98,286.36 L1290.98,286.07 L1292.72,286.07 L1292.72,292.03 L1293.92,292.03 L1293.92,288.82 L1296.02,288.82 L1296.02,284.44 L1296.9,284.44 L1296.9,289.12 L1298.95,289.12 L1298.95,290.62 L1300.55,290.62 L1300.55,288.23 L1301.7,288.23 L1301.7,287.1 L1303.06,287.1 L1303.06,291.01 L1303.97,291.01 L1303.97,291.02 L1305.89,291.02 L1305.89,287.52 L1306.82,287.52 L1306.82,291.4 L1308.66,291.4 L1308.66,287.72 L1309.94,287.72 L1309.94,286.2 L1311.21,286.2 L1311.21,292.39 L1312.76,292.39 L1312.76,289.86 L1313.73,289.86 L1313.73,290.23 L1315.6,290.23 L1315.6,292.86 L1317.42,292.86 L1317.42,289.69 L1318.35,289.69 L1318.35,291.77 L1319.69,291.77 L1319.69,288.19 L1320.68,288.19 L1320.68,280.8 L1322.58,280.8 L1322.58,289.13 L1323.45,289.13 L1323.45,290.54 L1325.01,290.54 L1325.01,288.7 L1326.17,288.7 L1326.17,286.25 L1327.36,286.25 L1327.36,290.97 L1329.21,290.97 L1329.21,289.18 L1330.59,289.18 L1330.59,289.4 L1332.78,289.4 L1332.78,286.51 L1334.31,286.51 L1334.31,291.06 L1336.24,291.06 L1336.24,290.41 L1338.01,290.41 L1338.01,292.08 L1339.81,292.08 L1339.81,287.67 L1341.19,287.67 L1341.19,290.33 L1343.38,290.33 L1343.38,289.62 L1344.65,289.62 L1344.65,288.72 L1346.27,288.72 L1346.27,286.47 L1348.43,286.47 L1348.43,291.24 L1349.42,291.24 L1349.42,292.78 L1350.55,292.78 L1350.55,288.31 L1352.34,288.31 L1352.34,287.78 L1353.63,287.78 L1353.63,287.73 L1354.69,287.73 L1354.69,290.8 L1356.37,290.8 L1356.37,287.9 L1358.52,287.9 L1358.52,289.26 L1360.23,289.26 L1360.23,287.92 L1361.61,287.92 L1361.61,287.86 L1363.79,287.86 L1363.79,286.15 L1365.94,286.15 L1365.94,286.73 L1366.83,286.73 L1366.83,290.28 L1368.01,290.28 L1368.01,285.95 L1368.98,285.95 L1368.98,288.12 L1371.08,288.12 L1371.08,288.14 L1373.02,288.14 L1373.02,290.63 L1373.93,290.63 L1373.93,285.71 L1375.55,285.71 L1375.55,285.34 L1377.57,285.34 L1377.57,289.59 L1378.43,289.59 L1378.43,280.75 L1380.32,280.75 L1380.32,287.31 L1381.24,287.31 L1381.24,287.35 L1382.95,287.35 L1382.95,284.21 L1384.26,284.21 L1384.26,282.24 L1385.52,282.24 L1385.52,284.32 L1386.46,284.32 L1386.46,279.92 L1388.25,279.92 L1388.25,280.1 L1389.17,280.1 L1389.17,278.64 L1390.96,278.64 L1390.96,282.37 L1391.95,282.37 L1391.95,283.98 L1393.36,283.98 L1393.36,281.7 L1394.93,281.7 L1394.93,276.67 L1396.07,276.67 L1396.07,275.95 L1397.66,275.95 L1397.66,279.56 L1399.49,279.56 L1399.49,279.04 L1401.52,279.04 L1401.52,282.09 L1403.32,282.09 L1403.32,278.55 L1405.42,278.55 L1405.42,281.65 L1407.62,281.65 L1407.62,281.49 L1409.77,281.49 L1409.77,281.66 L1411.47,281.66 L1411.47,284.56 L1413.21,284.56 L1413.21,282.04 L1414.8,282.04 L1414.8,287.85 L1417.04,287.85 L1417.04,286.38 L1418.92,286.38 L1418.92,289.47 L1419.87,289.47 L1419.87,286.41 L1421.47,286.41 L1421.47,289.99 L1422.49,289.99 L1422.49,284.72 L1424.15,284.72 L1424.15,285.36 L1425.28,285.36 L1425.28,286.39 L1426.85,286.39 L1426.85,292.34 L1427.86,292.34 L1427.86,287.63 L1429.6,287.63 L1429.6,291.45 L1431.35,291.45 L1431.35,287.72 L1432.72,287.72 L1432.72,289.42 L1434.32,289.42 L1434.32,283.52 L1435.98,283.52 L1435.98,291.68 L1437.84,291.68 L1437.84,293.05 L1439.23,293.05 L1439.23,285.93 L1440.88,285.93 L1440.88,290.05 L1442,290.05 L1442,287.54 L1443.98,287.54 L1443.98,285.72 L1445.97,285.72 L1445.97,289.5 L1447.36,289.5 L1447.36,290.43 L1449.17,290.43 L1449.17,292.13 L1450.54,292.13 L1450.54,287.7 L1452.49,287.7 L1452.49,292.58 L1454.51,292.58 L1454.51,288.93 L1456.24,288.93 L1456.24,286.95 L1457.45,286.95 L1457.45,290.81 L1458.6,290.81 L1458.6,287.39 L1460.43,287.39 L1460.43,287.47 L1461.74,287.47 L1461.74,290.57 L1462.85,290.57 L1462.85,281.8 L1464.27,281.8 L1464.27,286.79 L1466.03,286.79 L1466.03,286.05 L1467.7,286.05 L1467.7,289.1 L1469.89,289.1 L1469.89,288.59 L1471.62,288.59 L1471.62,288.53 L1473.52,288.53 L1473.52,290.48 L1475.07,290.48 L1475.07,287.51 L1475.94,287.51 L1475.94,290.53 L1477.09,290.53 L1477.09,290.12 L1478.05,290.12 L1478.05,289.43 L1480.01,289.43 L1480.01,288.25 L1481.15,288.25 L1481.15,286.25 L1482.21,286.25 L1482.21,290.39 L1483.36,290.39 L1483.36,286.7 L1484.36,286.7 L1484.36,288.82 L1485.48,288.82 L1485.48,290.94 L1486.44,290.94 L1486.44,287.65 L1487.42,287.65 L1487.42,287.37 L1489.4,287.37 L1489.4,289.65 L1490.25,289.65 L1490.25,288.08 L1492,288.08 L1492,306 Z" stroke="#ec3838" stroke-width="0.9" fill="#f04d4d" stroke-linejoin="round" />
<line x1="1228" y1="72.9" x2="1228" y2="306" stroke="#ef3b3b" stroke-width="1.7" />
<line x1="1240" y1="107.9" x2="1240" y2="306" stroke="#ef3b3b" stroke-width="1.7" />
<line x1="1251.8" y1="112.2" x2="1251.8" y2="306" stroke="#ef3b3b" stroke-width="1.7" />
<line x1="1263.5" y1="115" x2="1263.5" y2="306" stroke="#ef3b3b" stroke-width="1.7" />
<line x1="1275.3" y1="119.6" x2="1275.3" y2="306" stroke="#ef3b3b" stroke-width="1.7" />
<line x1="1287.6" y1="119.6" x2="1287.6" y2="306" stroke="#ef3b3b" stroke-width="2.2" />
<line x1="1299.9" y1="116.7" x2="1299.9" y2="306" stroke="#ef3b3b" stroke-width="1.7" />
<line x1="1311.6" y1="122.5" x2="1311.6" y2="306" stroke="#ef3b3b" stroke-width="1.7" />
<line x1="1323.6" y1="122.5" x2="1323.6" y2="306" stroke="#ef3b3b" stroke-width="1.7" />
<line x1="1335.4" y1="125.3" x2="1335.4" y2="306" stroke="#ef3b3b" stroke-width="1.7" />
<line x1="1348.3" y1="125.3" x2="1348.3" y2="306" stroke="#ef3b3b" stroke-width="1.7" />
<line x1="1360" y1="129.6" x2="1360" y2="306" stroke="#ef3b3b" stroke-width="1.7" />
<line x1="1371.7" y1="132.5" x2="1371.7" y2="306" stroke="#ef3b3b" stroke-width="1.7" />
<line x1="1384.1" y1="133.9" x2="1384.1" y2="306" stroke="#ef3b3b" stroke-width="2.2" />
<line x1="1395.2" y1="135.3" x2="1395.2" y2="306" stroke="#ef3b3b" stroke-width="1.7" />
<line x1="1408.1" y1="147.4" x2="1408.1" y2="306" stroke="#ef3b3b" stroke-width="1.7" />
<line x1="1419.9" y1="140.2" x2="1419.9" y2="306" stroke="#ef3b3b" stroke-width="1.7" />
<line x1="1431.9" y1="144.5" x2="1431.9" y2="306" stroke="#ef3b3b" stroke-width="1.7" />
<line x1="1443.6" y1="147.4" x2="1443.6" y2="306" stroke="#ef3b3b" stroke-width="1.7" />
<line x1="1455.9" y1="154.5" x2="1455.9" y2="306" stroke="#ef3b3b" stroke-width="2.2" />
<line x1="1468.5" y1="154.5" x2="1468.5" y2="306" stroke="#ef3b3b" stroke-width="1.7" />
<line x1="1480" y1="156" x2="1480" y2="306" stroke="#ef3b3b" stroke-width="1.7" />
<line x1="1491.6" y1="157.4" x2="1491.6" y2="306" stroke="#ef3b3b" stroke-width="1.7" />
<line x1="1264.7" y1="241" x2="1264.7" y2="306" stroke="#ef3b3b" stroke-width="1.6" />
<line x1="1336.2" y1="174.6" x2="1336.2" y2="306" stroke="#ef3b3b" stroke-width="1.6" />
<line x1="1396.4" y1="205.5" x2="1396.4" y2="306" stroke="#ef3b3b" stroke-width="1.6" />
<line x1="1407" y1="204" x2="1407" y2="306" stroke="#ef3b3b" stroke-width="1.6" />
<rect x="1095" y="38.2" width="398" height="349.4" fill="none" stroke="#000" stroke-width="2"/>
<line x1="1221.3" y1="38.2" x2="1221.3" y2="307" stroke="#000" stroke-width="2" />
<line x1="1220.3" y1="306" x2="1493" y2="306" stroke="#000" stroke-width="2" />
<line x1="1094" y1="38.2" x2="1088" y2="38.2" stroke="#000" stroke-width="2" />
<line x1="1094" y1="125.55" x2="1088" y2="125.55" stroke="#000" stroke-width="2" />
<line x1="1094" y1="212.9" x2="1088" y2="212.9" stroke="#000" stroke-width="2" />
<line x1="1094" y1="300.25" x2="1088" y2="300.25" stroke="#000" stroke-width="2" />
<line x1="1094" y1="387.6" x2="1088" y2="387.6" stroke="#000" stroke-width="2" />
<line x1="1094" y1="81.88" x2="1090.5" y2="81.88" stroke="#000" stroke-width="2" />
<line x1="1094" y1="169.23" x2="1090.5" y2="169.23" stroke="#000" stroke-width="2" />
<line x1="1094" y1="256.58" x2="1090.5" y2="256.58" stroke="#000" stroke-width="2" />
<line x1="1094" y1="343.93" x2="1090.5" y2="343.93" stroke="#000" stroke-width="2" />
<line x1="1129.9" y1="388.6" x2="1129.9" y2="394.6" stroke="#000" stroke-width="2" />
<line x1="1239.1" y1="388.6" x2="1239.1" y2="394.6" stroke="#000" stroke-width="2" />
<line x1="1348.3" y1="388.6" x2="1348.3" y2="394.6" stroke="#000" stroke-width="2" />
<line x1="1457.5" y1="388.6" x2="1457.5" y2="394.6" stroke="#000" stroke-width="2" />
<line x1="1184.5" y1="388.6" x2="1184.5" y2="392.6" stroke="#000" stroke-width="2" />
<line x1="1293.7" y1="388.6" x2="1293.7" y2="392.6" stroke="#000" stroke-width="2" />
<line x1="1402.9" y1="388.6" x2="1402.9" y2="392.6" stroke="#000" stroke-width="2" />
<line x1="1220.3" y1="57.7" x2="1215.3" y2="57.7" stroke="#000" stroke-width="2" />
<line x1="1220.3" y1="119.78" x2="1215.3" y2="119.78" stroke="#000" stroke-width="2" />
<line x1="1220.3" y1="181.85" x2="1215.3" y2="181.85" stroke="#000" stroke-width="2" />
<line x1="1220.3" y1="243.93" x2="1215.3" y2="243.93" stroke="#000" stroke-width="2" />
<line x1="1220.3" y1="306" x2="1215.3" y2="306" stroke="#000" stroke-width="2" />
<line x1="1220.3" y1="88.74" x2="1217.8" y2="88.74" stroke="#000" stroke-width="2" />
<line x1="1220.3" y1="150.81" x2="1217.8" y2="150.81" stroke="#000" stroke-width="2" />
<line x1="1220.3" y1="212.89" x2="1217.8" y2="212.89" stroke="#000" stroke-width="2" />
<line x1="1220.3" y1="274.96" x2="1217.8" y2="274.96" stroke="#000" stroke-width="2" />
<line x1="1272.04" y1="307" x2="1272.04" y2="311" stroke="#000" stroke-width="2" />
<line x1="1328.68" y1="307" x2="1328.68" y2="311" stroke="#000" stroke-width="2" />
<line x1="1385.32" y1="307" x2="1385.32" y2="311" stroke="#000" stroke-width="2" />
<line x1="1441.96" y1="307" x2="1441.96" y2="311" stroke="#000" stroke-width="2" />
<line x1="1243.72" y1="307" x2="1243.72" y2="309.5" stroke="#000" stroke-width="2" />
<line x1="1300.36" y1="307" x2="1300.36" y2="309.5" stroke="#000" stroke-width="2" />
<line x1="1357" y1="307" x2="1357" y2="309.5" stroke="#000" stroke-width="2" />
<line x1="1413.64" y1="307" x2="1413.64" y2="309.5" stroke="#000" stroke-width="2" />
<line x1="1470.28" y1="307" x2="1470.28" y2="309.5" stroke="#000" stroke-width="2" />
<text transform="translate(1015.24,24) scale(1.0309,1)" font-family="Liberation Sans, sans-serif" font-size="33" font-weight="bold" fill="#000" >c</text>
<text transform="translate(1041,45.8) scale(1.0000,1)" font-family="Liberation Sans, sans-serif" font-size="30" fill="#000" >-30</text>
<text transform="translate(1041.15,134.1) scale(1.0000,1)" font-family="Liberation Sans, sans-serif" font-size="30" fill="#000" >-45</text>
<text transform="translate(1041,221.7) scale(1.0000,1)" font-family="Liberation Sans, sans-serif" font-size="30" fill="#000" >-60</text>
<text transform="translate(1041.15,309.3) scale(1.0000,1)" font-family="Liberation Sans, sans-serif" font-size="30" fill="#000" >-75</text>
<text transform="translate(1041,396.8) scale(1.0000,1)" font-family="Liberation Sans, sans-serif" font-size="30" fill="#000" >-90</text>
<text transform="translate(1113.64,420.7) scale(1.0000,1)" font-family="Liberation Sans, sans-serif" font-size="29" fill="#000" >42</text>
<text transform="translate(1222.5,420.7) scale(1.0000,1)" font-family="Liberation Sans, sans-serif" font-size="29" fill="#000" >45</text>
<text transform="translate(1331.7,420.7) scale(1.0000,1)" font-family="Liberation Sans, sans-serif" font-size="29" fill="#000" >48</text>
<text transform="translate(1438.28,420.7) scale(1.0000,1)" font-family="Liberation Sans, sans-serif" font-size="29" fill="#000" >51</text>
<text transform="translate(1173.27,464.5) scale(1.0026,1)" font-family="Liberation Sans, sans-serif" font-size="31.5" fill="#000" >Frequency (MHz)</text>
<text transform="translate(1034,310.13) rotate(-90) scale(1.0019,1)" font-family="Liberation Sans, sans-serif" font-size="32.5" fill="#000" >Intensity (dB)</text>
<text transform="translate(1184.56,62.8) scale(1.1000,1)" font-family="Liberation Sans, sans-serif" font-size="17.5" fill="#000" >-30</text>
<text transform="translate(1184.65,124.88) scale(1.1000,1)" font-family="Liberation Sans, sans-serif" font-size="17.5" fill="#000" >-45</text>
<text transform="translate(1184.56,186.95) scale(1.1000,1)" font-family="Liberation Sans, sans-serif" font-size="17.5" fill="#000" >-60</text>
<text transform="translate(1184.65,249.03) scale(1.1000,1)" font-family="Liberation Sans, sans-serif" font-size="17.5" fill="#000" >-75</text>
<text transform="translate(1184.56,311.1) scale(1.1000,1)" font-family="Liberation Sans, sans-serif" font-size="17.5" fill="#000" >-90</text>
<text transform="translate(1255.39,328.2) scale(1.0300,1)" font-family="Liberation Sans, sans-serif" font-size="18.5" fill="#000" >200</text>
<text transform="translate(1312.98,328.2) scale(1.0300,1)" font-family="Liberation Sans, sans-serif" font-size="18.5" fill="#000" >400</text>
<text transform="translate(1368.49,328.2) scale(1.0300,1)" font-family="Liberation Sans, sans-serif" font-size="18.5" fill="#000" >600</text>
<text transform="translate(1424.84,328.2) scale(1.0300,1)" font-family="Liberation Sans, sans-serif" font-size="18.5" fill="#000" >800</text>
<text transform="translate(1265.73,354) scale(1.1462,1)" font-family="Liberation Sans, sans-serif" font-size="21.5" fill="#000" >Frequency (MHz)</text>
<text transform="translate(1179,254.96) rotate(-90) scale(1.0915,1)" font-family="Liberation Sans, sans-serif" font-size="23" fill="#000" >Intensity (dB)</text>
<text transform="translate(1162.64,357.4) scale(1.0791,1)" font-family="Liberation Sans, sans-serif" font-size="19.7" fill="#000" >~55 dB</text>
<clipPath id="cd"><rect x="100.7" y="518" width="602.3" height="339"/></clipPath><g clip-path="url(#cd)">
<path d="M98.47,822.76 L100.6,826.66 L102.73,824.25 L104.87,823.72 L107,820.88 L109.13,826.26 L111.26,822.65 L113.39,824.53 L115.52,818.89 L117.66,822.69 L119.79,823.32 L121.92,823.8 L124.05,821.66 L126.18,821.27" stroke="#521a82" stroke-width="3.5" fill="none" stroke-linejoin="round" />
<rect x="96.07" y="820.36" width="4.8" height="4.8" fill="#521a82" transform="rotate(45 98.47 822.76)"/>
<rect x="98.2" y="824.26" width="4.8" height="4.8" fill="#521a82" transform="rotate(45 100.6 826.66)"/>
<rect x="100.33" y="821.85" width="4.8" height="4.8" fill="#521a82" transform="rotate(45 102.73 824.25)"/>
<rect x="102.47" y="821.32" width="4.8" height="4.8" fill="#521a82" transform="rotate(45 104.87 823.72)"/>
<rect x="104.6" y="818.48" width="4.8" height="4.8" fill="#521a82" transform="rotate(45 107 820.88)"/>
<rect x="106.73" y="823.86" width="4.8" height="4.8" fill="#521a82" transform="rotate(45 109.13 826.26)"/>
<rect x="108.86" y="820.25" width="4.8" height="4.8" fill="#521a82" transform="rotate(45 111.26 822.65)"/>
<rect x="110.99" y="822.13" width="4.8" height="4.8" fill="#521a82" transform="rotate(45 113.39 824.53)"/>
<rect x="113.12" y="816.49" width="4.8" height="4.8" fill="#521a82" transform="rotate(45 115.52 818.89)"/>
<rect x="115.26" y="820.29" width="4.8" height="4.8" fill="#521a82" transform="rotate(45 117.66 822.69)"/>
<rect x="117.39" y="820.92" width="4.8" height="4.8" fill="#521a82" transform="rotate(45 119.79 823.32)"/>
<rect x="119.52" y="821.4" width="4.8" height="4.8" fill="#521a82" transform="rotate(45 121.92 823.8)"/>
<rect x="121.65" y="819.26" width="4.8" height="4.8" fill="#521a82" transform="rotate(45 124.05 821.66)"/>
<rect x="123.78" y="818.87" width="4.8" height="4.8" fill="#521a82" transform="rotate(45 126.18 821.27)"/>
<rect x="127.49" y="768.43" width="5.2" height="5.2" fill="#521a82"/>
<path d="M135.6,554.48 L136.31,574.38 L137.02,587.06 L137.73,593.31 L138.44,605.87 L139.15,608.34 L139.86,612.85 L140.57,615.42 L141.28,620.79 L141.99,623.51 L142.7,624.39 L143.42,624.56 L144.13,623.18 L144.84,629.22 L145.55,630.57 L146.26,629.01 L146.97,635.8 L147.68,634.29 L148.39,635.06 L149.1,637.83 L149.81,639.67 L152.01,648.01 L154.22,647.9 L156.42,645.99 L158.62,644.49 L160.83,641.29 L163.03,645.89 L165.23,644.02 L167.43,643.9 L169.64,644.32 L171.84,650.74 L174.04,649.59 L176.25,651.53 L178.45,658.15 L180.65,656.78 L182.85,659.88 L185.06,660.2 L187.26,657.58 L189.46,660.24 L191.67,661.12 L193.87,663.59 L196.07,663.78 L198.27,665.26 L200.48,666.75 L202.68,666.76 L204.88,666.83 L207.09,668.81 L209.29,666.72 L211.49,665.85 L213.69,667.29 L215.9,664.39 L218.1,668.7 L220.3,669.13 L222.51,674.79 L224.71,676.79 L226.91,675.62 L229.11,674.45 L231.32,678.4 L233.52,678.35 L235.72,677.5 L237.93,685.09 L240.13,680.8 L242.33,685.87 L244.53,687.63 L246.74,683.43 L248.94,679.14 L251.14,682.73 L253.35,682.82 L255.55,686.12 L257.75,686.76 L259.95,682.94 L262.16,684.57 L264.36,685.5 L266.56,689.64 L268.77,690.58 L270.97,691.42 L273.17,692.97 L275.37,692.9 L277.58,690.52 L279.78,692.08 L281.98,694.59 L284.19,697.27 L286.39,696.19 L288.59,696.73 L290.79,696.42 L293,693.02 L295.2,694.3 L297.4,692.25 L299.61,688.88 L301.81,692.24 L304.01,694.61 L306.21,701.09 L308.42,693.39 L310.62,695.7 L312.82,693.53 L315.03,696.57 L317.23,702.92 L319.43,701.09 L321.63,702.53 L323.84,703.93 L326.04,700.89 L328.24,702.31 L330.45,699.06 L332.65,701.87 L334.85,704.81 L337.05,708.93 L339.26,714.55 L341.46,711.73 L343.66,715.14 L345.87,710.98 L348.07,705.42 L350.27,705.53 L352.47,703.03 L354.68,703.5 L356.88,706.18 L359.08,711.07 L361.29,714.5 L363.49,716.6 L365.69,720.07 L367.89,722.08 L370.1,719.65 L372.3,720.23 L374.5,717.34 L376.71,722.09 L378.91,722.57 L381.11,721.51 L383.31,719.36 L385.52,716.66 L387.72,715.49 L389.92,716.2 L392.13,718.96 L394.33,715.28 L396.53,713.67 L398.73,708.24 L400.94,713.91 L403.14,716.51 L405.34,716.53 L407.55,720.98 L409.75,720.13 L411.95,720.37 L414.15,722.76 L416.36,725.92 L418.56,726.28 L420.76,731.59 L422.97,730.63 L425.17,728.33 L427.37,726.16 L429.57,723.12 L431.78,725.22 L433.98,724.39 L436.18,724.47 L438.39,728.3 L440.59,729.57 L442.79,729.99 L444.99,729.1 L447.2,730.2 L449.4,729.63 L451.6,730.8 L453.81,733 L456.01,732.79 L458.21,736.96 L460.41,731.17 L462.62,736.32 L464.82,735.27 L467.02,735.71 L469.23,740.46 L471.43,737.71 L473.63,735.02 L475.83,736.85 L478.04,735.8 L480.24,734.43 L482.44,743.06 L484.65,737.14 L486.85,737.73 L489.05,738.44 L491.25,734.98 L493.46,740.78 L495.66,740.17 L497.86,737.64 L500.07,737.05 L502.27,736.63 L504.47,733.15 L506.67,736.76 L508.88,739.26 L511.08,738.12 L513.28,740.08 L515.49,741.13 L517.69,742.27 L519.89,740.83 L522.09,746.62 L524.3,743.12 L526.5,742.75 L528.7,739.88 L530.91,737.35 L533.11,738.13 L535.31,743.41 L537.51,746.86 L539.72,743.25 L541.92,750.03 L544.12,750.28 L546.33,751.75 L548.53,755.08 L550.73,753.71 L552.93,757.19 L555.14,755.94 L557.34,753.16 L559.54,748.08 L561.75,743.08 L563.95,738.31 L566.15,740.21 L568.35,745.29 L570.56,745.54 L572.76,745.94 L574.96,745.22 L577.17,741.29 L579.37,739.59 L581.57,744.72 L583.77,744.02 L585.98,747.87 L588.18,749.02 L590.38,749.7 L592.59,742.91 L594.79,738.7 L596.99,739.9 L599.19,738.87 L601.4,742.74 L603.6,745.19 L605.8,743.49 L608.01,747.8 L610.21,747.36 L612.41,747.06 L614.61,748.67 L616.82,749.13 L619.02,751.44 L621.22,753.21 L623.43,754.27 L625.63,752.59 L627.83,750.41 L630.03,753.92 L632.24,751.38 L634.44,751.33 L636.64,754.51 L638.85,748.08 L641.05,749.86 L643.25,751.3 L645.45,746.22 L647.66,749.66 L649.86,754.42 L652.06,754.99 L654.27,756.5 L656.47,753.87 L658.67,752.95 L660.87,752.75 L663.08,753.55 L665.28,759.25 L667.48,758.99 L669.69,758.92 L671.89,759 L674.09,757.94 L676.29,762.99 L678.5,764.49 L680.7,764.76 L682.9,764.58 L685.11,762.13 L687.31,761.55 L689.51,766.25 L691.71,766.46 L693.92,767.14 L696.12,766.68 L698.32,770.06 L700.53,766.79 L702.73,765.07" stroke="#521a82" stroke-width="3.2" fill="none" stroke-linejoin="round" />
<rect x="133.2" y="552.08" width="4.8" height="4.8" fill="#521a82" transform="rotate(45 135.6 554.48)"/>
<rect x="134.62" y="584.66" width="4.8" height="4.8" fill="#521a82" transform="rotate(45 137.02 587.06)"/>
<rect x="136.04" y="603.47" width="4.8" height="4.8" fill="#521a82" transform="rotate(45 138.44 605.87)"/>
<rect x="137.46" y="610.45" width="4.8" height="4.8" fill="#521a82" transform="rotate(45 139.86 612.85)"/>
<rect x="138.88" y="618.39" width="4.8" height="4.8" fill="#521a82" transform="rotate(45 141.28 620.79)"/>
<rect x="140.3" y="621.99" width="4.8" height="4.8" fill="#521a82" transform="rotate(45 142.7 624.39)"/>
<rect x="141.73" y="620.78" width="4.8" height="4.8" fill="#521a82" transform="rotate(45 144.13 623.18)"/>
<rect x="143.15" y="628.17" width="4.8" height="4.8" fill="#521a82" transform="rotate(45 145.55 630.57)"/>
<rect x="144.57" y="633.4" width="4.8" height="4.8" fill="#521a82" transform="rotate(45 146.97 635.8)"/>
<rect x="145.99" y="632.66" width="4.8" height="4.8" fill="#521a82" transform="rotate(45 148.39 635.06)"/>
<rect x="147.41" y="637.27" width="4.8" height="4.8" fill="#521a82" transform="rotate(45 149.81 639.67)"/>
<rect x="151.82" y="645.5" width="4.8" height="4.8" fill="#521a82" transform="rotate(45 154.22 647.9)"/>
<rect x="156.22" y="642.09" width="4.8" height="4.8" fill="#521a82" transform="rotate(45 158.62 644.49)"/>
<rect x="160.63" y="643.49" width="4.8" height="4.8" fill="#521a82" transform="rotate(45 163.03 645.89)"/>
<rect x="165.03" y="641.5" width="4.8" height="4.8" fill="#521a82" transform="rotate(45 167.43 643.9)"/>
<rect x="169.44" y="648.34" width="4.8" height="4.8" fill="#521a82" transform="rotate(45 171.84 650.74)"/>
<rect x="173.85" y="649.13" width="4.8" height="4.8" fill="#521a82" transform="rotate(45 176.25 651.53)"/>
<rect x="178.25" y="654.38" width="4.8" height="4.8" fill="#521a82" transform="rotate(45 180.65 656.78)"/>
<rect x="182.66" y="657.8" width="4.8" height="4.8" fill="#521a82" transform="rotate(45 185.06 660.2)"/>
<rect x="187.06" y="657.84" width="4.8" height="4.8" fill="#521a82" transform="rotate(45 189.46 660.24)"/>
<rect x="191.47" y="661.19" width="4.8" height="4.8" fill="#521a82" transform="rotate(45 193.87 663.59)"/>
<rect x="195.87" y="662.86" width="4.8" height="4.8" fill="#521a82" transform="rotate(45 198.27 665.26)"/>
<rect x="200.28" y="664.36" width="4.8" height="4.8" fill="#521a82" transform="rotate(45 202.68 666.76)"/>
<rect x="204.69" y="666.41" width="4.8" height="4.8" fill="#521a82" transform="rotate(45 207.09 668.81)"/>
<rect x="209.09" y="663.45" width="4.8" height="4.8" fill="#521a82" transform="rotate(45 211.49 665.85)"/>
<rect x="213.5" y="661.99" width="4.8" height="4.8" fill="#521a82" transform="rotate(45 215.9 664.39)"/>
<rect x="217.9" y="666.73" width="4.8" height="4.8" fill="#521a82" transform="rotate(45 220.3 669.13)"/>
<rect x="222.31" y="674.39" width="4.8" height="4.8" fill="#521a82" transform="rotate(45 224.71 676.79)"/>
<rect x="226.71" y="672.05" width="4.8" height="4.8" fill="#521a82" transform="rotate(45 229.11 674.45)"/>
<rect x="231.12" y="675.95" width="4.8" height="4.8" fill="#521a82" transform="rotate(45 233.52 678.35)"/>
<rect x="235.53" y="682.69" width="4.8" height="4.8" fill="#521a82" transform="rotate(45 237.93 685.09)"/>
<rect x="239.93" y="683.47" width="4.8" height="4.8" fill="#521a82" transform="rotate(45 242.33 685.87)"/>
<rect x="244.34" y="681.03" width="4.8" height="4.8" fill="#521a82" transform="rotate(45 246.74 683.43)"/>
<rect x="248.74" y="680.33" width="4.8" height="4.8" fill="#521a82" transform="rotate(45 251.14 682.73)"/>
<rect x="253.15" y="683.72" width="4.8" height="4.8" fill="#521a82" transform="rotate(45 255.55 686.12)"/>
<rect x="257.55" y="680.54" width="4.8" height="4.8" fill="#521a82" transform="rotate(45 259.95 682.94)"/>
<rect x="261.96" y="683.1" width="4.8" height="4.8" fill="#521a82" transform="rotate(45 264.36 685.5)"/>
<rect x="266.37" y="688.18" width="4.8" height="4.8" fill="#521a82" transform="rotate(45 268.77 690.58)"/>
<rect x="270.77" y="690.57" width="4.8" height="4.8" fill="#521a82" transform="rotate(45 273.17 692.97)"/>
<rect x="275.18" y="688.12" width="4.8" height="4.8" fill="#521a82" transform="rotate(45 277.58 690.52)"/>
<rect x="279.58" y="692.19" width="4.8" height="4.8" fill="#521a82" transform="rotate(45 281.98 694.59)"/>
<rect x="283.99" y="693.79" width="4.8" height="4.8" fill="#521a82" transform="rotate(45 286.39 696.19)"/>
<rect x="288.39" y="694.02" width="4.8" height="4.8" fill="#521a82" transform="rotate(45 290.79 696.42)"/>
<rect x="292.8" y="691.9" width="4.8" height="4.8" fill="#521a82" transform="rotate(45 295.2 694.3)"/>
<rect x="297.21" y="686.48" width="4.8" height="4.8" fill="#521a82" transform="rotate(45 299.61 688.88)"/>
<rect x="301.61" y="692.21" width="4.8" height="4.8" fill="#521a82" transform="rotate(45 304.01 694.61)"/>
<rect x="306.02" y="690.99" width="4.8" height="4.8" fill="#521a82" transform="rotate(45 308.42 693.39)"/>
<rect x="310.42" y="691.13" width="4.8" height="4.8" fill="#521a82" transform="rotate(45 312.82 693.53)"/>
<rect x="314.83" y="700.52" width="4.8" height="4.8" fill="#521a82" transform="rotate(45 317.23 702.92)"/>
<rect x="319.23" y="700.13" width="4.8" height="4.8" fill="#521a82" transform="rotate(45 321.63 702.53)"/>
<rect x="323.64" y="698.49" width="4.8" height="4.8" fill="#521a82" transform="rotate(45 326.04 700.89)"/>
<rect x="328.05" y="696.66" width="4.8" height="4.8" fill="#521a82" transform="rotate(45 330.45 699.06)"/>
<rect x="332.45" y="702.41" width="4.8" height="4.8" fill="#521a82" transform="rotate(45 334.85 704.81)"/>
<rect x="336.86" y="712.15" width="4.8" height="4.8" fill="#521a82" transform="rotate(45 339.26 714.55)"/>
<rect x="341.26" y="712.74" width="4.8" height="4.8" fill="#521a82" transform="rotate(45 343.66 715.14)"/>
<rect x="345.67" y="703.02" width="4.8" height="4.8" fill="#521a82" transform="rotate(45 348.07 705.42)"/>
<rect x="350.07" y="700.63" width="4.8" height="4.8" fill="#521a82" transform="rotate(45 352.47 703.03)"/>
<rect x="354.48" y="703.78" width="4.8" height="4.8" fill="#521a82" transform="rotate(45 356.88 706.18)"/>
<rect x="358.89" y="712.1" width="4.8" height="4.8" fill="#521a82" transform="rotate(45 361.29 714.5)"/>
<rect x="363.29" y="717.67" width="4.8" height="4.8" fill="#521a82" transform="rotate(45 365.69 720.07)"/>
<rect x="367.7" y="717.25" width="4.8" height="4.8" fill="#521a82" transform="rotate(45 370.1 719.65)"/>
<rect x="372.1" y="714.94" width="4.8" height="4.8" fill="#521a82" transform="rotate(45 374.5 717.34)"/>
<rect x="376.51" y="720.17" width="4.8" height="4.8" fill="#521a82" transform="rotate(45 378.91 722.57)"/>
<rect x="380.91" y="716.96" width="4.8" height="4.8" fill="#521a82" transform="rotate(45 383.31 719.36)"/>
<rect x="385.32" y="713.09" width="4.8" height="4.8" fill="#521a82" transform="rotate(45 387.72 715.49)"/>
<rect x="389.73" y="716.56" width="4.8" height="4.8" fill="#521a82" transform="rotate(45 392.13 718.96)"/>
<rect x="394.13" y="711.27" width="4.8" height="4.8" fill="#521a82" transform="rotate(45 396.53 713.67)"/>
<rect x="398.54" y="711.51" width="4.8" height="4.8" fill="#521a82" transform="rotate(45 400.94 713.91)"/>
<rect x="402.94" y="714.13" width="4.8" height="4.8" fill="#521a82" transform="rotate(45 405.34 716.53)"/>
<rect x="407.35" y="717.73" width="4.8" height="4.8" fill="#521a82" transform="rotate(45 409.75 720.13)"/>
<rect x="411.75" y="720.36" width="4.8" height="4.8" fill="#521a82" transform="rotate(45 414.15 722.76)"/>
<rect x="416.16" y="723.88" width="4.8" height="4.8" fill="#521a82" transform="rotate(45 418.56 726.28)"/>
<rect x="420.57" y="728.23" width="4.8" height="4.8" fill="#521a82" transform="rotate(45 422.97 730.63)"/>
<rect x="424.97" y="723.76" width="4.8" height="4.8" fill="#521a82" transform="rotate(45 427.37 726.16)"/>
<rect x="429.38" y="722.82" width="4.8" height="4.8" fill="#521a82" transform="rotate(45 431.78 725.22)"/>
<rect x="433.78" y="722.07" width="4.8" height="4.8" fill="#521a82" transform="rotate(45 436.18 724.47)"/>
<rect x="438.19" y="727.17" width="4.8" height="4.8" fill="#521a82" transform="rotate(45 440.59 729.57)"/>
<rect x="442.59" y="726.7" width="4.8" height="4.8" fill="#521a82" transform="rotate(45 444.99 729.1)"/>
<rect x="447" y="727.23" width="4.8" height="4.8" fill="#521a82" transform="rotate(45 449.4 729.63)"/>
<rect x="451.41" y="730.6" width="4.8" height="4.8" fill="#521a82" transform="rotate(45 453.81 733)"/>
<rect x="455.81" y="734.56" width="4.8" height="4.8" fill="#521a82" transform="rotate(45 458.21 736.96)"/>
<rect x="460.22" y="733.92" width="4.8" height="4.8" fill="#521a82" transform="rotate(45 462.62 736.32)"/>
<rect x="464.62" y="733.31" width="4.8" height="4.8" fill="#521a82" transform="rotate(45 467.02 735.71)"/>
<rect x="469.03" y="735.31" width="4.8" height="4.8" fill="#521a82" transform="rotate(45 471.43 737.71)"/>
<rect x="473.43" y="734.45" width="4.8" height="4.8" fill="#521a82" transform="rotate(45 475.83 736.85)"/>
<rect x="477.84" y="732.03" width="4.8" height="4.8" fill="#521a82" transform="rotate(45 480.24 734.43)"/>
<rect x="482.25" y="734.74" width="4.8" height="4.8" fill="#521a82" transform="rotate(45 484.65 737.14)"/>
<rect x="486.65" y="736.04" width="4.8" height="4.8" fill="#521a82" transform="rotate(45 489.05 738.44)"/>
<rect x="491.06" y="738.38" width="4.8" height="4.8" fill="#521a82" transform="rotate(45 493.46 740.78)"/>
<rect x="495.46" y="735.24" width="4.8" height="4.8" fill="#521a82" transform="rotate(45 497.86 737.64)"/>
<rect x="499.87" y="734.23" width="4.8" height="4.8" fill="#521a82" transform="rotate(45 502.27 736.63)"/>
<rect x="504.27" y="734.36" width="4.8" height="4.8" fill="#521a82" transform="rotate(45 506.67 736.76)"/>
<rect x="508.68" y="735.72" width="4.8" height="4.8" fill="#521a82" transform="rotate(45 511.08 738.12)"/>
<rect x="513.09" y="738.73" width="4.8" height="4.8" fill="#521a82" transform="rotate(45 515.49 741.13)"/>
<rect x="517.49" y="738.43" width="4.8" height="4.8" fill="#521a82" transform="rotate(45 519.89 740.83)"/>
<rect x="521.9" y="740.72" width="4.8" height="4.8" fill="#521a82" transform="rotate(45 524.3 743.12)"/>
<rect x="526.3" y="737.48" width="4.8" height="4.8" fill="#521a82" transform="rotate(45 528.7 739.88)"/>
<rect x="530.71" y="735.73" width="4.8" height="4.8" fill="#521a82" transform="rotate(45 533.11 738.13)"/>
<rect x="535.11" y="744.46" width="4.8" height="4.8" fill="#521a82" transform="rotate(45 537.51 746.86)"/>
<rect x="539.52" y="747.63" width="4.8" height="4.8" fill="#521a82" transform="rotate(45 541.92 750.03)"/>
<rect x="543.93" y="749.35" width="4.8" height="4.8" fill="#521a82" transform="rotate(45 546.33 751.75)"/>
<rect x="548.33" y="751.31" width="4.8" height="4.8" fill="#521a82" transform="rotate(45 550.73 753.71)"/>
<rect x="552.74" y="753.54" width="4.8" height="4.8" fill="#521a82" transform="rotate(45 555.14 755.94)"/>
<rect x="557.14" y="745.68" width="4.8" height="4.8" fill="#521a82" transform="rotate(45 559.54 748.08)"/>
<rect x="561.55" y="735.91" width="4.8" height="4.8" fill="#521a82" transform="rotate(45 563.95 738.31)"/>
<rect x="565.95" y="742.89" width="4.8" height="4.8" fill="#521a82" transform="rotate(45 568.35 745.29)"/>
<rect x="570.36" y="743.54" width="4.8" height="4.8" fill="#521a82" transform="rotate(45 572.76 745.94)"/>
<rect x="574.77" y="738.89" width="4.8" height="4.8" fill="#521a82" transform="rotate(45 577.17 741.29)"/>
<rect x="579.17" y="742.32" width="4.8" height="4.8" fill="#521a82" transform="rotate(45 581.57 744.72)"/>
<rect x="583.58" y="745.47" width="4.8" height="4.8" fill="#521a82" transform="rotate(45 585.98 747.87)"/>
<rect x="587.98" y="747.3" width="4.8" height="4.8" fill="#521a82" transform="rotate(45 590.38 749.7)"/>
<rect x="592.39" y="736.3" width="4.8" height="4.8" fill="#521a82" transform="rotate(45 594.79 738.7)"/>
<rect x="596.79" y="736.47" width="4.8" height="4.8" fill="#521a82" transform="rotate(45 599.19 738.87)"/>
<rect x="601.2" y="742.79" width="4.8" height="4.8" fill="#521a82" transform="rotate(45 603.6 745.19)"/>
<rect x="605.61" y="745.4" width="4.8" height="4.8" fill="#521a82" transform="rotate(45 608.01 747.8)"/>
<rect x="610.01" y="744.66" width="4.8" height="4.8" fill="#521a82" transform="rotate(45 612.41 747.06)"/>
<rect x="614.42" y="746.73" width="4.8" height="4.8" fill="#521a82" transform="rotate(45 616.82 749.13)"/>
<rect x="618.82" y="750.81" width="4.8" height="4.8" fill="#521a82" transform="rotate(45 621.22 753.21)"/>
<rect x="623.23" y="750.19" width="4.8" height="4.8" fill="#521a82" transform="rotate(45 625.63 752.59)"/>
<rect x="627.63" y="751.52" width="4.8" height="4.8" fill="#521a82" transform="rotate(45 630.03 753.92)"/>
<rect x="632.04" y="748.93" width="4.8" height="4.8" fill="#521a82" transform="rotate(45 634.44 751.33)"/>
<rect x="636.45" y="745.68" width="4.8" height="4.8" fill="#521a82" transform="rotate(45 638.85 748.08)"/>
<rect x="640.85" y="748.9" width="4.8" height="4.8" fill="#521a82" transform="rotate(45 643.25 751.3)"/>
<rect x="645.26" y="747.26" width="4.8" height="4.8" fill="#521a82" transform="rotate(45 647.66 749.66)"/>
<rect x="649.66" y="752.59" width="4.8" height="4.8" fill="#521a82" transform="rotate(45 652.06 754.99)"/>
<rect x="654.07" y="751.47" width="4.8" height="4.8" fill="#521a82" transform="rotate(45 656.47 753.87)"/>
<rect x="658.47" y="750.35" width="4.8" height="4.8" fill="#521a82" transform="rotate(45 660.87 752.75)"/>
<rect x="662.88" y="756.85" width="4.8" height="4.8" fill="#521a82" transform="rotate(45 665.28 759.25)"/>
<rect x="667.29" y="756.52" width="4.8" height="4.8" fill="#521a82" transform="rotate(45 669.69 758.92)"/>
<rect x="671.69" y="755.54" width="4.8" height="4.8" fill="#521a82" transform="rotate(45 674.09 757.94)"/>
<rect x="676.1" y="762.09" width="4.8" height="4.8" fill="#521a82" transform="rotate(45 678.5 764.49)"/>
<rect x="680.5" y="762.18" width="4.8" height="4.8" fill="#521a82" transform="rotate(45 682.9 764.58)"/>
<rect x="684.91" y="759.15" width="4.8" height="4.8" fill="#521a82" transform="rotate(45 687.31 761.55)"/>
<rect x="689.31" y="764.06" width="4.8" height="4.8" fill="#521a82" transform="rotate(45 691.71 766.46)"/>
<rect x="693.72" y="764.28" width="4.8" height="4.8" fill="#521a82" transform="rotate(45 696.12 766.68)"/>
<rect x="698.13" y="764.39" width="4.8" height="4.8" fill="#521a82" transform="rotate(45 700.53 766.79)"/>
<rect x="486.3" y="723.92" width="6" height="6" fill="#521a82" transform="rotate(45 489.3 726.92)"/>
<rect x="662.28" y="769.2" width="6" height="6" fill="#521a82" transform="rotate(45 665.28 772.2)"/>
<rect x="570.59" y="756.25" width="6" height="6" fill="#521a82" transform="rotate(45 573.59 759.25)"/>
<rect x="639.4" y="763.75" width="6" height="6" fill="#521a82" transform="rotate(45 642.4 766.75)"/>
<rect x="621.52" y="744.9" width="6" height="6" fill="#521a82" transform="rotate(45 624.52 747.9)"/>
<rect x="459.34" y="739.48" width="6" height="6" fill="#521a82" transform="rotate(45 462.34 742.48)"/>
<rect x="368.03" y="723.31" width="6" height="6" fill="#521a82" transform="rotate(45 371.03 726.31)"/>
<rect x="564.95" y="756.1" width="6" height="6" fill="#521a82" transform="rotate(45 567.95 759.1)"/>
<rect x="182.87" y="649.82" width="6" height="6" fill="#521a82" transform="rotate(45 185.87 652.82)"/>
<rect x="144.24" y="638.32" width="6" height="6" fill="#521a82" transform="rotate(45 147.24 641.32)"/>
<path d="M98.47,825.25 L100.6,827.08 L102.73,824.36 L104.87,825.66 L107,822.33 L109.13,822.61 L111.26,823.86 L113.39,824.64 L115.52,823.23 L117.66,821.46 L119.79,821.17 L121.92,826 L124.05,824.49 L126.18,828.31" stroke="#dc2052" stroke-width="3.5" fill="none" stroke-linejoin="round" />
<rect x="96.07" y="822.85" width="4.8" height="4.8" fill="#dc2052" transform="rotate(45 98.47 825.25)"/>
<rect x="98.2" y="824.68" width="4.8" height="4.8" fill="#dc2052" transform="rotate(45 100.6 827.08)"/>
<rect x="100.33" y="821.96" width="4.8" height="4.8" fill="#dc2052" transform="rotate(45 102.73 824.36)"/>
<rect x="102.47" y="823.26" width="4.8" height="4.8" fill="#dc2052" transform="rotate(45 104.87 825.66)"/>
<rect x="104.6" y="819.93" width="4.8" height="4.8" fill="#dc2052" transform="rotate(45 107 822.33)"/>
<rect x="106.73" y="820.21" width="4.8" height="4.8" fill="#dc2052" transform="rotate(45 109.13 822.61)"/>
<rect x="108.86" y="821.46" width="4.8" height="4.8" fill="#dc2052" transform="rotate(45 111.26 823.86)"/>
<rect x="110.99" y="822.24" width="4.8" height="4.8" fill="#dc2052" transform="rotate(45 113.39 824.64)"/>
<rect x="113.12" y="820.83" width="4.8" height="4.8" fill="#dc2052" transform="rotate(45 115.52 823.23)"/>
<rect x="115.26" y="819.06" width="4.8" height="4.8" fill="#dc2052" transform="rotate(45 117.66 821.46)"/>
<rect x="117.39" y="818.77" width="4.8" height="4.8" fill="#dc2052" transform="rotate(45 119.79 821.17)"/>
<rect x="119.52" y="823.6" width="4.8" height="4.8" fill="#dc2052" transform="rotate(45 121.92 826)"/>
<rect x="121.65" y="822.09" width="4.8" height="4.8" fill="#dc2052" transform="rotate(45 124.05 824.49)"/>
<rect x="123.78" y="825.91" width="4.8" height="4.8" fill="#dc2052" transform="rotate(45 126.18 828.31)"/>
<rect x="127.49" y="762.74" width="5.2" height="5.2" fill="#dc2052"/>
<path d="M135.6,547.73 L136.31,579.69 L137.02,594.75 L137.73,606.76 L138.44,618.5 L139.15,624.6 L139.86,630.58 L140.57,639.11 L141.28,640.4 L141.99,638.79 L142.7,644.18 L143.42,638.78 L144.13,644.1 L144.84,648.25 L145.55,643.98 L146.26,645.46 L146.97,646.54 L147.68,644.62 L148.39,644.18 L149.1,646.2 L149.81,650.74 L152.01,655.08 L154.22,656.27 L156.42,658.58 L158.62,656.05 L160.83,660.2 L163.03,659.03 L165.23,661.65 L167.43,661.04 L169.64,662.47 L171.84,661 L174.04,662.86 L176.25,665.15 L178.45,666.06 L180.65,668.58 L182.85,667.46 L185.06,670.16 L187.26,667.48 L189.46,669.07 L191.67,670.86 L193.87,670.54 L196.07,674.1 L198.27,672.23 L200.48,677.4 L202.68,675.47 L204.88,677.87 L207.09,673.86 L209.29,675.23 L211.49,677.28 L213.69,675.1 L215.9,681.71 L218.1,683.96 L220.3,689.61 L222.51,693.76 L224.71,685.73 L226.91,682.28 L229.11,679.62 L231.32,680.79 L233.52,687.72 L235.72,692.81 L237.93,694.14 L240.13,696.15 L242.33,693.84 L244.53,689.28 L246.74,695.62 L248.94,692.18 L251.14,689.31 L253.35,693.78 L255.55,691.63 L257.75,693.57 L259.95,698.35 L262.16,696 L264.36,697.39 L266.56,700.41 L268.77,698.15 L270.97,699.38 L273.17,701.59 L275.37,702.28 L277.58,705.8 L279.78,705.02 L281.98,705.02 L284.19,705.41 L286.39,706.25 L288.59,702.38 L290.79,703.32 L293,707.72 L295.2,702.3 L297.4,703.99 L299.61,705.83 L301.81,703.74 L304.01,708.34 L306.21,711.84 L308.42,715.06 L310.62,709.93 L312.82,710.96 L315.03,710.21 L317.23,710.79 L319.43,709.41 L321.63,711.86 L323.84,710.79 L326.04,711.54 L328.24,713.24 L330.45,710.5 L332.65,713.94 L334.85,712.42 L337.05,710.47 L339.26,713.92 L341.46,717.32 L343.66,718.23 L345.87,724.13 L348.07,724.54 L350.27,720.73 L352.47,722.93 L354.68,723.25 L356.88,726.61 L359.08,729.39 L361.29,725.43 L363.49,725.53 L365.69,726.38 L367.89,721.47 L370.1,725.38 L372.3,723.4 L374.5,720.44 L376.71,723.36 L378.91,725.34 L381.11,727.68 L383.31,726.54 L385.52,728.05 L387.72,725.64 L389.92,726.14 L392.13,724.7 L394.33,727.47 L396.53,725.65 L398.73,728.61 L400.94,731.64 L403.14,731.27 L405.34,733.18 L407.55,733.88 L409.75,729.96 L411.95,731.42 L414.15,736.17 L416.36,740.41 L418.56,738.22 L420.76,738.17 L422.97,741.66 L425.17,740.53 L427.37,739.35 L429.57,739.18 L431.78,741.5 L433.98,740.15 L436.18,736.45 L438.39,740.86 L440.59,741.99 L442.79,742.51 L444.99,740.63 L447.2,741.4 L449.4,738.6 L451.6,740.55 L453.81,743.68 L456.01,740.97 L458.21,744.56 L460.41,741.79 L462.62,745.28 L464.82,747.75 L467.02,742.92 L469.23,744.49 L471.43,742.57 L473.63,743.04 L475.83,750.36 L478.04,748.93 L480.24,747.59 L482.44,748.38 L484.65,744.06 L486.85,746.76 L489.05,749.37 L491.25,747.93 L493.46,750.4 L495.66,748.8 L497.86,747.91 L500.07,751.35 L502.27,757.02 L504.47,757.49 L506.67,759.22 L508.88,758.84 L511.08,756.84 L513.28,756.2 L515.49,757.66 L517.69,751.82 L519.89,754.51 L522.09,757.33 L524.3,748.2 L526.5,754.57 L528.7,753.99 L530.91,753.52 L533.11,757.81 L535.31,757.96 L537.51,756.65 L539.72,755.3 L541.92,755.1 L544.12,752.31 L546.33,758.83 L548.53,757.01 L550.73,760.2 L552.93,759.11 L555.14,753.19 L557.34,749.95 L559.54,750.65 L561.75,753.42 L563.95,758.49 L566.15,760.08 L568.35,760.72 L570.56,765.31 L572.76,764.2 L574.96,766.14 L577.17,762.66 L579.37,760.05 L581.57,760.09 L583.77,759.76 L585.98,760.07 L588.18,761.75 L590.38,760.73 L592.59,758.53 L594.79,765.56 L596.99,766.13 L599.19,766.55 L601.4,765 L603.6,760.2 L605.8,757.62 L608.01,761.25 L610.21,761.33 L612.41,760.79 L614.61,763.12 L616.82,765.32 L619.02,766.74 L621.22,768.24 L623.43,767.42 L625.63,767.94 L627.83,764.93 L630.03,761.53 L632.24,761.93 L634.44,760.58 L636.64,761.11 L638.85,759.6 L641.05,757.04 L643.25,761.02 L645.45,762.36 L647.66,763.92 L649.86,761.46 L652.06,762.55 L654.27,762.49 L656.47,764.39 L658.67,770.88 L660.87,768.96 L663.08,769.54 L665.28,771.84 L667.48,771.42 L669.69,779.92 L671.89,778.09 L674.09,774.78 L676.29,775.18 L678.5,771.46 L680.7,770.4 L682.9,771.42 L685.11,769.28 L687.31,769.31 L689.51,768.23 L691.71,765.95 L693.92,767.21 L696.12,771.19 L698.32,769.76 L700.53,771.61 L702.73,772.1" stroke="#dc2052" stroke-width="3.2" fill="none" stroke-linejoin="round" />
<rect x="133.2" y="545.33" width="4.8" height="4.8" fill="#dc2052" transform="rotate(45 135.6 547.73)"/>
<rect x="134.62" y="592.35" width="4.8" height="4.8" fill="#dc2052" transform="rotate(45 137.02 594.75)"/>
<rect x="136.04" y="616.1" width="4.8" height="4.8" fill="#dc2052" transform="rotate(45 138.44 618.5)"/>
<rect x="137.46" y="628.18" width="4.8" height="4.8" fill="#dc2052" transform="rotate(45 139.86 630.58)"/>
<rect x="138.88" y="638" width="4.8" height="4.8" fill="#dc2052" transform="rotate(45 141.28 640.4)"/>
<rect x="140.3" y="641.78" width="4.8" height="4.8" fill="#dc2052" transform="rotate(45 142.7 644.18)"/>
<rect x="141.73" y="641.7" width="4.8" height="4.8" fill="#dc2052" transform="rotate(45 144.13 644.1)"/>
<rect x="143.15" y="641.58" width="4.8" height="4.8" fill="#dc2052" transform="rotate(45 145.55 643.98)"/>
<rect x="144.57" y="644.14" width="4.8" height="4.8" fill="#dc2052" transform="rotate(45 146.97 646.54)"/>
<rect x="145.99" y="641.78" width="4.8" height="4.8" fill="#dc2052" transform="rotate(45 148.39 644.18)"/>
<rect x="147.41" y="648.34" width="4.8" height="4.8" fill="#dc2052" transform="rotate(45 149.81 650.74)"/>
<rect x="151.82" y="653.87" width="4.8" height="4.8" fill="#dc2052" transform="rotate(45 154.22 656.27)"/>
<rect x="156.22" y="653.65" width="4.8" height="4.8" fill="#dc2052" transform="rotate(45 158.62 656.05)"/>
<rect x="160.63" y="656.63" width="4.8" height="4.8" fill="#dc2052" transform="rotate(45 163.03 659.03)"/>
<rect x="165.03" y="658.64" width="4.8" height="4.8" fill="#dc2052" transform="rotate(45 167.43 661.04)"/>
<rect x="169.44" y="658.6" width="4.8" height="4.8" fill="#dc2052" transform="rotate(45 171.84 661)"/>
<rect x="173.85" y="662.75" width="4.8" height="4.8" fill="#dc2052" transform="rotate(45 176.25 665.15)"/>
<rect x="178.25" y="666.18" width="4.8" height="4.8" fill="#dc2052" transform="rotate(45 180.65 668.58)"/>
<rect x="182.66" y="667.76" width="4.8" height="4.8" fill="#dc2052" transform="rotate(45 185.06 670.16)"/>
<rect x="187.06" y="666.67" width="4.8" height="4.8" fill="#dc2052" transform="rotate(45 189.46 669.07)"/>
<rect x="191.47" y="668.14" width="4.8" height="4.8" fill="#dc2052" transform="rotate(45 193.87 670.54)"/>
<rect x="195.87" y="669.83" width="4.8" height="4.8" fill="#dc2052" transform="rotate(45 198.27 672.23)"/>
<rect x="200.28" y="673.07" width="4.8" height="4.8" fill="#dc2052" transform="rotate(45 202.68 675.47)"/>
<rect x="204.69" y="671.46" width="4.8" height="4.8" fill="#dc2052" transform="rotate(45 207.09 673.86)"/>
<rect x="209.09" y="674.88" width="4.8" height="4.8" fill="#dc2052" transform="rotate(45 211.49 677.28)"/>
<rect x="213.5" y="679.31" width="4.8" height="4.8" fill="#dc2052" transform="rotate(45 215.9 681.71)"/>
<rect x="217.9" y="687.21" width="4.8" height="4.8" fill="#dc2052" transform="rotate(45 220.3 689.61)"/>
<rect x="222.31" y="683.33" width="4.8" height="4.8" fill="#dc2052" transform="rotate(45 224.71 685.73)"/>
<rect x="226.71" y="677.22" width="4.8" height="4.8" fill="#dc2052" transform="rotate(45 229.11 679.62)"/>
<rect x="231.12" y="685.32" width="4.8" height="4.8" fill="#dc2052" transform="rotate(45 233.52 687.72)"/>
<rect x="235.53" y="691.74" width="4.8" height="4.8" fill="#dc2052" transform="rotate(45 237.93 694.14)"/>
<rect x="239.93" y="691.44" width="4.8" height="4.8" fill="#dc2052" transform="rotate(45 242.33 693.84)"/>
<rect x="244.34" y="693.22" width="4.8" height="4.8" fill="#dc2052" transform="rotate(45 246.74 695.62)"/>
<rect x="248.74" y="686.91" width="4.8" height="4.8" fill="#dc2052" transform="rotate(45 251.14 689.31)"/>
<rect x="253.15" y="689.23" width="4.8" height="4.8" fill="#dc2052" transform="rotate(45 255.55 691.63)"/>
<rect x="257.55" y="695.95" width="4.8" height="4.8" fill="#dc2052" transform="rotate(45 259.95 698.35)"/>
<rect x="261.96" y="694.99" width="4.8" height="4.8" fill="#dc2052" transform="rotate(45 264.36 697.39)"/>
<rect x="266.37" y="695.75" width="4.8" height="4.8" fill="#dc2052" transform="rotate(45 268.77 698.15)"/>
<rect x="270.77" y="699.19" width="4.8" height="4.8" fill="#dc2052" transform="rotate(45 273.17 701.59)"/>
<rect x="275.18" y="703.4" width="4.8" height="4.8" fill="#dc2052" transform="rotate(45 277.58 705.8)"/>
<rect x="279.58" y="702.62" width="4.8" height="4.8" fill="#dc2052" transform="rotate(45 281.98 705.02)"/>
<rect x="283.99" y="703.85" width="4.8" height="4.8" fill="#dc2052" transform="rotate(45 286.39 706.25)"/>
<rect x="288.39" y="700.92" width="4.8" height="4.8" fill="#dc2052" transform="rotate(45 290.79 703.32)"/>
<rect x="292.8" y="699.9" width="4.8" height="4.8" fill="#dc2052" transform="rotate(45 295.2 702.3)"/>
<rect x="297.21" y="703.43" width="4.8" height="4.8" fill="#dc2052" transform="rotate(45 299.61 705.83)"/>
<rect x="301.61" y="705.94" width="4.8" height="4.8" fill="#dc2052" transform="rotate(45 304.01 708.34)"/>
<rect x="306.02" y="712.66" width="4.8" height="4.8" fill="#dc2052" transform="rotate(45 308.42 715.06)"/>
<rect x="310.42" y="708.56" width="4.8" height="4.8" fill="#dc2052" transform="rotate(45 312.82 710.96)"/>
<rect x="314.83" y="708.39" width="4.8" height="4.8" fill="#dc2052" transform="rotate(45 317.23 710.79)"/>
<rect x="319.23" y="709.46" width="4.8" height="4.8" fill="#dc2052" transform="rotate(45 321.63 711.86)"/>
<rect x="323.64" y="709.14" width="4.8" height="4.8" fill="#dc2052" transform="rotate(45 326.04 711.54)"/>
<rect x="328.05" y="708.1" width="4.8" height="4.8" fill="#dc2052" transform="rotate(45 330.45 710.5)"/>
<rect x="332.45" y="710.02" width="4.8" height="4.8" fill="#dc2052" transform="rotate(45 334.85 712.42)"/>
<rect x="336.86" y="711.52" width="4.8" height="4.8" fill="#dc2052" transform="rotate(45 339.26 713.92)"/>
<rect x="341.26" y="715.83" width="4.8" height="4.8" fill="#dc2052" transform="rotate(45 343.66 718.23)"/>
<rect x="345.67" y="722.14" width="4.8" height="4.8" fill="#dc2052" transform="rotate(45 348.07 724.54)"/>
<rect x="350.07" y="720.53" width="4.8" height="4.8" fill="#dc2052" transform="rotate(45 352.47 722.93)"/>
<rect x="354.48" y="724.21" width="4.8" height="4.8" fill="#dc2052" transform="rotate(45 356.88 726.61)"/>
<rect x="358.89" y="723.03" width="4.8" height="4.8" fill="#dc2052" transform="rotate(45 361.29 725.43)"/>
<rect x="363.29" y="723.98" width="4.8" height="4.8" fill="#dc2052" transform="rotate(45 365.69 726.38)"/>
<rect x="367.7" y="722.98" width="4.8" height="4.8" fill="#dc2052" transform="rotate(45 370.1 725.38)"/>
<rect x="372.1" y="718.04" width="4.8" height="4.8" fill="#dc2052" transform="rotate(45 374.5 720.44)"/>
<rect x="376.51" y="722.94" width="4.8" height="4.8" fill="#dc2052" transform="rotate(45 378.91 725.34)"/>
<rect x="380.91" y="724.14" width="4.8" height="4.8" fill="#dc2052" transform="rotate(45 383.31 726.54)"/>
<rect x="385.32" y="723.24" width="4.8" height="4.8" fill="#dc2052" transform="rotate(45 387.72 725.64)"/>
<rect x="389.73" y="722.3" width="4.8" height="4.8" fill="#dc2052" transform="rotate(45 392.13 724.7)"/>
<rect x="394.13" y="723.25" width="4.8" height="4.8" fill="#dc2052" transform="rotate(45 396.53 725.65)"/>
<rect x="398.54" y="729.24" width="4.8" height="4.8" fill="#dc2052" transform="rotate(45 400.94 731.64)"/>
<rect x="402.94" y="730.78" width="4.8" height="4.8" fill="#dc2052" transform="rotate(45 405.34 733.18)"/>
<rect x="407.35" y="727.56" width="4.8" height="4.8" fill="#dc2052" transform="rotate(45 409.75 729.96)"/>
<rect x="411.75" y="733.77" width="4.8" height="4.8" fill="#dc2052" transform="rotate(45 414.15 736.17)"/>
<rect x="416.16" y="735.82" width="4.8" height="4.8" fill="#dc2052" transform="rotate(45 418.56 738.22)"/>
<rect x="420.57" y="739.26" width="4.8" height="4.8" fill="#dc2052" transform="rotate(45 422.97 741.66)"/>
<rect x="424.97" y="736.95" width="4.8" height="4.8" fill="#dc2052" transform="rotate(45 427.37 739.35)"/>
<rect x="429.38" y="739.1" width="4.8" height="4.8" fill="#dc2052" transform="rotate(45 431.78 741.5)"/>
<rect x="433.78" y="734.05" width="4.8" height="4.8" fill="#dc2052" transform="rotate(45 436.18 736.45)"/>
<rect x="438.19" y="739.59" width="4.8" height="4.8" fill="#dc2052" transform="rotate(45 440.59 741.99)"/>
<rect x="442.59" y="738.23" width="4.8" height="4.8" fill="#dc2052" transform="rotate(45 444.99 740.63)"/>
<rect x="447" y="736.2" width="4.8" height="4.8" fill="#dc2052" transform="rotate(45 449.4 738.6)"/>
<rect x="451.41" y="741.28" width="4.8" height="4.8" fill="#dc2052" transform="rotate(45 453.81 743.68)"/>
<rect x="455.81" y="742.16" width="4.8" height="4.8" fill="#dc2052" transform="rotate(45 458.21 744.56)"/>
<rect x="460.22" y="742.88" width="4.8" height="4.8" fill="#dc2052" transform="rotate(45 462.62 745.28)"/>
<rect x="464.62" y="740.52" width="4.8" height="4.8" fill="#dc2052" transform="rotate(45 467.02 742.92)"/>
<rect x="469.03" y="740.17" width="4.8" height="4.8" fill="#dc2052" transform="rotate(45 471.43 742.57)"/>
<rect x="473.43" y="747.96" width="4.8" height="4.8" fill="#dc2052" transform="rotate(45 475.83 750.36)"/>
<rect x="477.84" y="745.19" width="4.8" height="4.8" fill="#dc2052" transform="rotate(45 480.24 747.59)"/>
<rect x="482.25" y="741.66" width="4.8" height="4.8" fill="#dc2052" transform="rotate(45 484.65 744.06)"/>
<rect x="486.65" y="746.97" width="4.8" height="4.8" fill="#dc2052" transform="rotate(45 489.05 749.37)"/>
<rect x="491.06" y="748" width="4.8" height="4.8" fill="#dc2052" transform="rotate(45 493.46 750.4)"/>
<rect x="495.46" y="745.51" width="4.8" height="4.8" fill="#dc2052" transform="rotate(45 497.86 747.91)"/>
<rect x="499.87" y="754.62" width="4.8" height="4.8" fill="#dc2052" transform="rotate(45 502.27 757.02)"/>
<rect x="504.27" y="756.82" width="4.8" height="4.8" fill="#dc2052" transform="rotate(45 506.67 759.22)"/>
<rect x="508.68" y="754.44" width="4.8" height="4.8" fill="#dc2052" transform="rotate(45 511.08 756.84)"/>
<rect x="513.09" y="755.26" width="4.8" height="4.8" fill="#dc2052" transform="rotate(45 515.49 757.66)"/>
<rect x="517.49" y="752.11" width="4.8" height="4.8" fill="#dc2052" transform="rotate(45 519.89 754.51)"/>
<rect x="521.9" y="745.8" width="4.8" height="4.8" fill="#dc2052" transform="rotate(45 524.3 748.2)"/>
<rect x="526.3" y="751.59" width="4.8" height="4.8" fill="#dc2052" transform="rotate(45 528.7 753.99)"/>
<rect x="530.71" y="755.41" width="4.8" height="4.8" fill="#dc2052" transform="rotate(45 533.11 757.81)"/>
<rect x="535.11" y="754.25" width="4.8" height="4.8" fill="#dc2052" transform="rotate(45 537.51 756.65)"/>
<rect x="539.52" y="752.7" width="4.8" height="4.8" fill="#dc2052" transform="rotate(45 541.92 755.1)"/>
<rect x="543.93" y="756.43" width="4.8" height="4.8" fill="#dc2052" transform="rotate(45 546.33 758.83)"/>
<rect x="548.33" y="757.8" width="4.8" height="4.8" fill="#dc2052" transform="rotate(45 550.73 760.2)"/>
<rect x="552.74" y="750.79" width="4.8" height="4.8" fill="#dc2052" transform="rotate(45 555.14 753.19)"/>
<rect x="557.14" y="748.25" width="4.8" height="4.8" fill="#dc2052" transform="rotate(45 559.54 750.65)"/>
<rect x="561.55" y="756.09" width="4.8" height="4.8" fill="#dc2052" transform="rotate(45 563.95 758.49)"/>
<rect x="565.95" y="758.32" width="4.8" height="4.8" fill="#dc2052" transform="rotate(45 568.35 760.72)"/>
<rect x="570.36" y="761.8" width="4.8" height="4.8" fill="#dc2052" transform="rotate(45 572.76 764.2)"/>
<rect x="574.77" y="760.26" width="4.8" height="4.8" fill="#dc2052" transform="rotate(45 577.17 762.66)"/>
<rect x="579.17" y="757.69" width="4.8" height="4.8" fill="#dc2052" transform="rotate(45 581.57 760.09)"/>
<rect x="583.58" y="757.67" width="4.8" height="4.8" fill="#dc2052" transform="rotate(45 585.98 760.07)"/>
<rect x="587.98" y="758.33" width="4.8" height="4.8" fill="#dc2052" transform="rotate(45 590.38 760.73)"/>
<rect x="592.39" y="763.16" width="4.8" height="4.8" fill="#dc2052" transform="rotate(45 594.79 765.56)"/>
<rect x="596.79" y="764.15" width="4.8" height="4.8" fill="#dc2052" transform="rotate(45 599.19 766.55)"/>
<rect x="601.2" y="757.8" width="4.8" height="4.8" fill="#dc2052" transform="rotate(45 603.6 760.2)"/>
<rect x="605.61" y="758.85" width="4.8" height="4.8" fill="#dc2052" transform="rotate(45 608.01 761.25)"/>
<rect x="610.01" y="758.39" width="4.8" height="4.8" fill="#dc2052" transform="rotate(45 612.41 760.79)"/>
<rect x="614.42" y="762.92" width="4.8" height="4.8" fill="#dc2052" transform="rotate(45 616.82 765.32)"/>
<rect x="618.82" y="765.84" width="4.8" height="4.8" fill="#dc2052" transform="rotate(45 621.22 768.24)"/>
<rect x="623.23" y="765.54" width="4.8" height="4.8" fill="#dc2052" transform="rotate(45 625.63 767.94)"/>
<rect x="627.63" y="759.13" width="4.8" height="4.8" fill="#dc2052" transform="rotate(45 630.03 761.53)"/>
<rect x="632.04" y="758.18" width="4.8" height="4.8" fill="#dc2052" transform="rotate(45 634.44 760.58)"/>
<rect x="636.45" y="757.2" width="4.8" height="4.8" fill="#dc2052" transform="rotate(45 638.85 759.6)"/>
<rect x="640.85" y="758.62" width="4.8" height="4.8" fill="#dc2052" transform="rotate(45 643.25 761.02)"/>
<rect x="645.26" y="761.52" width="4.8" height="4.8" fill="#dc2052" transform="rotate(45 647.66 763.92)"/>
<rect x="649.66" y="760.15" width="4.8" height="4.8" fill="#dc2052" transform="rotate(45 652.06 762.55)"/>
<rect x="654.07" y="761.99" width="4.8" height="4.8" fill="#dc2052" transform="rotate(45 656.47 764.39)"/>
<rect x="658.47" y="766.56" width="4.8" height="4.8" fill="#dc2052" transform="rotate(45 660.87 768.96)"/>
<rect x="662.88" y="769.44" width="4.8" height="4.8" fill="#dc2052" transform="rotate(45 665.28 771.84)"/>
<rect x="667.29" y="777.52" width="4.8" height="4.8" fill="#dc2052" transform="rotate(45 669.69 779.92)"/>
<rect x="671.69" y="772.38" width="4.8" height="4.8" fill="#dc2052" transform="rotate(45 674.09 774.78)"/>
<rect x="676.1" y="769.06" width="4.8" height="4.8" fill="#dc2052" transform="rotate(45 678.5 771.46)"/>
<rect x="680.5" y="769.02" width="4.8" height="4.8" fill="#dc2052" transform="rotate(45 682.9 771.42)"/>
<rect x="684.91" y="766.91" width="4.8" height="4.8" fill="#dc2052" transform="rotate(45 687.31 769.31)"/>
<rect x="689.31" y="763.55" width="4.8" height="4.8" fill="#dc2052" transform="rotate(45 691.71 765.95)"/>
<rect x="693.72" y="768.79" width="4.8" height="4.8" fill="#dc2052" transform="rotate(45 696.12 771.19)"/>
<rect x="698.13" y="769.21" width="4.8" height="4.8" fill="#dc2052" transform="rotate(45 700.53 771.61)"/>
<rect x="261.93" y="708.31" width="6" height="6" fill="#dc2052" transform="rotate(45 264.93 711.31)"/>
<rect x="302.58" y="717.87" width="6" height="6" fill="#dc2052" transform="rotate(45 305.58 720.87)"/>
<rect x="516.55" y="758.05" width="6" height="6" fill="#dc2052" transform="rotate(45 519.55 761.05)"/>
<rect x="676.66" y="782.58" width="6" height="6" fill="#dc2052" transform="rotate(45 679.66 785.58)"/>
<rect x="635.45" y="756.35" width="6" height="6" fill="#dc2052" transform="rotate(45 638.45 759.35)"/>
<rect x="371.75" y="732.89" width="6" height="6" fill="#dc2052" transform="rotate(45 374.75 735.89)"/>
<rect x="326.02" y="724.51" width="6" height="6" fill="#dc2052" transform="rotate(45 329.02 727.51)"/>
<rect x="532.99" y="761.3" width="6" height="6" fill="#dc2052" transform="rotate(45 535.99 764.3)"/>
<rect x="594.03" y="746.76" width="6" height="6" fill="#dc2052" transform="rotate(45 597.03 749.76)"/>
<rect x="245.02" y="676.32" width="6" height="6" fill="#dc2052" transform="rotate(45 248.02 679.32)"/>
<rect x="174.65" y="676.45" width="6" height="6" fill="#dc2052" transform="rotate(45 177.65 679.45)"/>
<rect x="340.22" y="708.7" width="6" height="6" fill="#dc2052" transform="rotate(45 343.22 711.7)"/>
<rect x="577.08" y="747.11" width="6" height="6" fill="#dc2052" transform="rotate(45 580.08 750.11)"/>
<rect x="606.54" y="753.01" width="6" height="6" fill="#dc2052" transform="rotate(45 609.54 756.01)"/>
<rect x="242.89" y="696.49" width="6" height="6" fill="#dc2052" transform="rotate(45 245.89 699.49)"/>
<rect x="278.78" y="689.69" width="6" height="6" fill="#dc2052" transform="rotate(45 281.78 692.69)"/>
<rect x="338.65" y="702.71" width="6" height="6" fill="#dc2052" transform="rotate(45 341.65 705.71)"/>
<rect x="202.76" y="659.84" width="6" height="6" fill="#dc2052" transform="rotate(45 205.76 662.84)"/>
<rect x="163.43" y="666.01" width="6" height="6" fill="#dc2052" transform="rotate(45 166.43 669.01)"/>
<rect x="425.71" y="720.27" width="6" height="6" fill="#dc2052" transform="rotate(45 428.71 723.27)"/>
<rect x="330.48" y="723.54" width="6" height="6" fill="#dc2052" transform="rotate(45 333.48 726.54)"/>
<rect x="317.72" y="723.86" width="6" height="6" fill="#dc2052" transform="rotate(45 320.72 726.86)"/>
<path d="M98.47,820.94 L100.6,823.79 L102.73,823.6 L104.87,826.56 L107,824.66 L109.13,823.6 L111.26,821.33 L113.39,820.84 L115.52,821.44 L117.66,819.38 L119.79,820.7 L121.92,819.61 L124.05,823.71 L126.18,822.86" stroke="#2b74da" stroke-width="3.5" fill="none" stroke-linejoin="round" />
<rect x="96.07" y="818.54" width="4.8" height="4.8" fill="#2b74da" transform="rotate(45 98.47 820.94)"/>
<rect x="98.2" y="821.39" width="4.8" height="4.8" fill="#2b74da" transform="rotate(45 100.6 823.79)"/>
<rect x="100.33" y="821.2" width="4.8" height="4.8" fill="#2b74da" transform="rotate(45 102.73 823.6)"/>
<rect x="102.47" y="824.16" width="4.8" height="4.8" fill="#2b74da" transform="rotate(45 104.87 826.56)"/>
<rect x="104.6" y="822.26" width="4.8" height="4.8" fill="#2b74da" transform="rotate(45 107 824.66)"/>
<rect x="106.73" y="821.2" width="4.8" height="4.8" fill="#2b74da" transform="rotate(45 109.13 823.6)"/>
<rect x="108.86" y="818.93" width="4.8" height="4.8" fill="#2b74da" transform="rotate(45 111.26 821.33)"/>
<rect x="110.99" y="818.44" width="4.8" height="4.8" fill="#2b74da" transform="rotate(45 113.39 820.84)"/>
<rect x="113.12" y="819.04" width="4.8" height="4.8" fill="#2b74da" transform="rotate(45 115.52 821.44)"/>
<rect x="115.26" y="816.98" width="4.8" height="4.8" fill="#2b74da" transform="rotate(45 117.66 819.38)"/>
<rect x="117.39" y="818.3" width="4.8" height="4.8" fill="#2b74da" transform="rotate(45 119.79 820.7)"/>
<rect x="119.52" y="817.21" width="4.8" height="4.8" fill="#2b74da" transform="rotate(45 121.92 819.61)"/>
<rect x="121.65" y="821.31" width="4.8" height="4.8" fill="#2b74da" transform="rotate(45 124.05 823.71)"/>
<rect x="123.78" y="820.46" width="4.8" height="4.8" fill="#2b74da" transform="rotate(45 126.18 822.86)"/>
<rect x="127.49" y="799.74" width="5.2" height="5.2" fill="#2b74da"/>
<path d="M135.6,536.97 L136.31,576.77 L137.02,608.64 L137.73,625.74 L138.44,641.66 L139.15,651.72 L139.86,659.32 L140.57,666.5 L141.28,666.9 L141.99,673.89 L142.7,674.88 L143.42,678.22 L144.13,680.25 L144.84,680.3 L145.55,681.11 L146.26,684.34 L146.97,688.75 L147.68,692.88 L148.39,693.85 L149.1,690.55 L149.81,687.34 L152.01,688.29 L154.22,691.79 L156.42,695.37 L158.62,693.33 L160.83,698.15 L163.03,696.01 L165.23,700.81 L167.43,699.76 L169.64,701.13 L171.84,701.24 L174.04,700.91 L176.25,703.69 L178.45,706.79 L180.65,708.29 L182.85,704.95 L185.06,703.22 L187.26,704.97 L189.46,705.43 L191.67,710.32 L193.87,713.29 L196.07,713.58 L198.27,712.23 L200.48,715.56 L202.68,713.18 L204.88,717.48 L207.09,718.1 L209.29,715.98 L211.49,716.77 L213.69,714.01 L215.9,714.66 L218.1,716.5 L220.3,718.44 L222.51,719.34 L224.71,717.7 L226.91,720.63 L229.11,721.26 L231.32,721.83 L233.52,724.68 L235.72,725.63 L237.93,726.97 L240.13,727.28 L242.33,725.02 L244.53,729.39 L246.74,726.95 L248.94,727.03 L251.14,725.97 L253.35,724.65 L255.55,726.52 L257.75,728.09 L259.95,730.53 L262.16,730.27 L264.36,730.44 L266.56,732.33 L268.77,731.85 L270.97,735.1 L273.17,734.19 L275.37,737.07 L277.58,737.55 L279.78,733.13 L281.98,734.42 L284.19,734.5 L286.39,736.11 L288.59,738.21 L290.79,741.32 L293,740.52 L295.2,737.17 L297.4,735.73 L299.61,738.48 L301.81,738.73 L304.01,740.13 L306.21,740.04 L308.42,740.86 L310.62,744.29 L312.82,744.3 L315.03,748.11 L317.23,748.8 L319.43,748.21 L321.63,750.43 L323.84,751 L326.04,753.1 L328.24,752.66 L330.45,753.74 L332.65,751.9 L334.85,749.48 L337.05,749.72 L339.26,750.08 L341.46,750.11 L343.66,751.28 L345.87,753 L348.07,753.89 L350.27,757.46 L352.47,757.13 L354.68,758.23 L356.88,755.84 L359.08,755.7 L361.29,754.19 L363.49,754.56 L365.69,755.58 L367.89,757.05 L370.1,757.41 L372.3,759.33 L374.5,760.78 L376.71,762.52 L378.91,759.43 L381.11,762.29 L383.31,761.28 L385.52,758.52 L387.72,761.95 L389.92,761.14 L392.13,761.44 L394.33,767.75 L396.53,767.83 L398.73,766.6 L400.94,764.33 L403.14,764.76 L405.34,764.92 L407.55,768.5 L409.75,765.08 L411.95,764.36 L414.15,763.36 L416.36,765.16 L418.56,765.36 L420.76,769.62 L422.97,766.13 L425.17,766.16 L427.37,766.05 L429.57,766.32 L431.78,765.15 L433.98,768.17 L436.18,775.41 L438.39,774.27 L440.59,775 L442.79,775.42 L444.99,772.02 L447.2,769.25 L449.4,771.17 L451.6,771.53 L453.81,774.91 L456.01,773.29 L458.21,773.4 L460.41,774.76 L462.62,770.77 L464.82,775.23 L467.02,775.51 L469.23,775.47 L471.43,776.22 L473.63,777.61 L475.83,778.8 L478.04,777.73 L480.24,776.78 L482.44,777.12 L484.65,777.65 L486.85,777 L489.05,775.72 L491.25,775.08 L493.46,773.02 L495.66,773.82 L497.86,782.68 L500.07,782.26 L502.27,779.78 L504.47,778.88 L506.67,777.28 L508.88,776.89 L511.08,777.56 L513.28,783.22 L515.49,782.13 L517.69,784.05 L519.89,782.75 L522.09,781.59 L524.3,777.84 L526.5,779.86 L528.7,783.12 L530.91,778.79 L533.11,784.19 L535.31,784.13 L537.51,777.91 L539.72,782.06 L541.92,782.78 L544.12,782.18 L546.33,785.64 L548.53,782.27 L550.73,786.76 L552.93,788.07 L555.14,788.36 L557.34,786.33 L559.54,782.29 L561.75,781.81 L563.95,781.01 L566.15,780.42 L568.35,777.34 L570.56,783.31 L572.76,785.19 L574.96,784.42 L577.17,787.55 L579.37,786.03 L581.57,790.11 L583.77,791.89 L585.98,792.12 L588.18,793.62 L590.38,793.59 L592.59,790.39 L594.79,791.04 L596.99,789.72 L599.19,789.98 L601.4,789.65 L603.6,790.17 L605.8,786.27 L608.01,790.03 L610.21,790.95 L612.41,791.85 L614.61,791.48 L616.82,790.79 L619.02,792.42 L621.22,792.94 L623.43,794.53 L625.63,792.87 L627.83,790.11 L630.03,790.99 L632.24,790.4 L634.44,790.23 L636.64,792.69 L638.85,792.07 L641.05,795.67 L643.25,792.15 L645.45,794.67 L647.66,796.4 L649.86,796.34 L652.06,796.54 L654.27,800.66 L656.47,797.03 L658.67,795.72 L660.87,795.21 L663.08,792.93 L665.28,788.74 L667.48,791.27 L669.69,794.2 L671.89,793.84 L674.09,793.72 L676.29,794.87 L678.5,793.25 L680.7,789.15 L682.9,789.23 L685.11,787.14 L687.31,790.22 L689.51,794.41 L691.71,794.21 L693.92,796.16 L696.12,793.34 L698.32,799.08 L700.53,797.08 L702.73,799.03" stroke="#2b74da" stroke-width="3.2" fill="none" stroke-linejoin="round" />
<rect x="133.2" y="534.57" width="4.8" height="4.8" fill="#2b74da" transform="rotate(45 135.6 536.97)"/>
<rect x="134.62" y="606.24" width="4.8" height="4.8" fill="#2b74da" transform="rotate(45 137.02 608.64)"/>
<rect x="136.04" y="639.26" width="4.8" height="4.8" fill="#2b74da" transform="rotate(45 138.44 641.66)"/>
<rect x="137.46" y="656.92" width="4.8" height="4.8" fill="#2b74da" transform="rotate(45 139.86 659.32)"/>
<rect x="138.88" y="664.5" width="4.8" height="4.8" fill="#2b74da" transform="rotate(45 141.28 666.9)"/>
<rect x="140.3" y="672.48" width="4.8" height="4.8" fill="#2b74da" transform="rotate(45 142.7 674.88)"/>
<rect x="141.73" y="677.85" width="4.8" height="4.8" fill="#2b74da" transform="rotate(45 144.13 680.25)"/>
<rect x="143.15" y="678.71" width="4.8" height="4.8" fill="#2b74da" transform="rotate(45 145.55 681.11)"/>
<rect x="144.57" y="686.35" width="4.8" height="4.8" fill="#2b74da" transform="rotate(45 146.97 688.75)"/>
<rect x="145.99" y="691.45" width="4.8" height="4.8" fill="#2b74da" transform="rotate(45 148.39 693.85)"/>
<rect x="147.41" y="684.94" width="4.8" height="4.8" fill="#2b74da" transform="rotate(45 149.81 687.34)"/>
<rect x="151.82" y="689.39" width="4.8" height="4.8" fill="#2b74da" transform="rotate(45 154.22 691.79)"/>
<rect x="156.22" y="690.93" width="4.8" height="4.8" fill="#2b74da" transform="rotate(45 158.62 693.33)"/>
<rect x="160.63" y="693.61" width="4.8" height="4.8" fill="#2b74da" transform="rotate(45 163.03 696.01)"/>
<rect x="165.03" y="697.36" width="4.8" height="4.8" fill="#2b74da" transform="rotate(45 167.43 699.76)"/>
<rect x="169.44" y="698.84" width="4.8" height="4.8" fill="#2b74da" transform="rotate(45 171.84 701.24)"/>
<rect x="173.85" y="701.29" width="4.8" height="4.8" fill="#2b74da" transform="rotate(45 176.25 703.69)"/>
<rect x="178.25" y="705.89" width="4.8" height="4.8" fill="#2b74da" transform="rotate(45 180.65 708.29)"/>
<rect x="182.66" y="700.82" width="4.8" height="4.8" fill="#2b74da" transform="rotate(45 185.06 703.22)"/>
<rect x="187.06" y="703.03" width="4.8" height="4.8" fill="#2b74da" transform="rotate(45 189.46 705.43)"/>
<rect x="191.47" y="710.89" width="4.8" height="4.8" fill="#2b74da" transform="rotate(45 193.87 713.29)"/>
<rect x="195.87" y="709.83" width="4.8" height="4.8" fill="#2b74da" transform="rotate(45 198.27 712.23)"/>
<rect x="200.28" y="710.78" width="4.8" height="4.8" fill="#2b74da" transform="rotate(45 202.68 713.18)"/>
<rect x="204.69" y="715.7" width="4.8" height="4.8" fill="#2b74da" transform="rotate(45 207.09 718.1)"/>
<rect x="209.09" y="714.37" width="4.8" height="4.8" fill="#2b74da" transform="rotate(45 211.49 716.77)"/>
<rect x="213.5" y="712.26" width="4.8" height="4.8" fill="#2b74da" transform="rotate(45 215.9 714.66)"/>
<rect x="217.9" y="716.04" width="4.8" height="4.8" fill="#2b74da" transform="rotate(45 220.3 718.44)"/>
<rect x="222.31" y="715.3" width="4.8" height="4.8" fill="#2b74da" transform="rotate(45 224.71 717.7)"/>
<rect x="226.71" y="718.86" width="4.8" height="4.8" fill="#2b74da" transform="rotate(45 229.11 721.26)"/>
<rect x="231.12" y="722.28" width="4.8" height="4.8" fill="#2b74da" transform="rotate(45 233.52 724.68)"/>
<rect x="235.53" y="724.57" width="4.8" height="4.8" fill="#2b74da" transform="rotate(45 237.93 726.97)"/>
<rect x="239.93" y="722.62" width="4.8" height="4.8" fill="#2b74da" transform="rotate(45 242.33 725.02)"/>
<rect x="244.34" y="724.55" width="4.8" height="4.8" fill="#2b74da" transform="rotate(45 246.74 726.95)"/>
<rect x="248.74" y="723.57" width="4.8" height="4.8" fill="#2b74da" transform="rotate(45 251.14 725.97)"/>
<rect x="253.15" y="724.12" width="4.8" height="4.8" fill="#2b74da" transform="rotate(45 255.55 726.52)"/>
<rect x="257.55" y="728.13" width="4.8" height="4.8" fill="#2b74da" transform="rotate(45 259.95 730.53)"/>
<rect x="261.96" y="728.04" width="4.8" height="4.8" fill="#2b74da" transform="rotate(45 264.36 730.44)"/>
<rect x="266.37" y="729.45" width="4.8" height="4.8" fill="#2b74da" transform="rotate(45 268.77 731.85)"/>
<rect x="270.77" y="731.79" width="4.8" height="4.8" fill="#2b74da" transform="rotate(45 273.17 734.19)"/>
<rect x="275.18" y="735.15" width="4.8" height="4.8" fill="#2b74da" transform="rotate(45 277.58 737.55)"/>
<rect x="279.58" y="732.02" width="4.8" height="4.8" fill="#2b74da" transform="rotate(45 281.98 734.42)"/>
<rect x="283.99" y="733.71" width="4.8" height="4.8" fill="#2b74da" transform="rotate(45 286.39 736.11)"/>
<rect x="288.39" y="738.92" width="4.8" height="4.8" fill="#2b74da" transform="rotate(45 290.79 741.32)"/>
<rect x="292.8" y="734.77" width="4.8" height="4.8" fill="#2b74da" transform="rotate(45 295.2 737.17)"/>
<rect x="297.21" y="736.08" width="4.8" height="4.8" fill="#2b74da" transform="rotate(45 299.61 738.48)"/>
<rect x="301.61" y="737.73" width="4.8" height="4.8" fill="#2b74da" transform="rotate(45 304.01 740.13)"/>
<rect x="306.02" y="738.46" width="4.8" height="4.8" fill="#2b74da" transform="rotate(45 308.42 740.86)"/>
<rect x="310.42" y="741.9" width="4.8" height="4.8" fill="#2b74da" transform="rotate(45 312.82 744.3)"/>
<rect x="314.83" y="746.4" width="4.8" height="4.8" fill="#2b74da" transform="rotate(45 317.23 748.8)"/>
<rect x="319.23" y="748.03" width="4.8" height="4.8" fill="#2b74da" transform="rotate(45 321.63 750.43)"/>
<rect x="323.64" y="750.7" width="4.8" height="4.8" fill="#2b74da" transform="rotate(45 326.04 753.1)"/>
<rect x="328.05" y="751.34" width="4.8" height="4.8" fill="#2b74da" transform="rotate(45 330.45 753.74)"/>
<rect x="332.45" y="747.08" width="4.8" height="4.8" fill="#2b74da" transform="rotate(45 334.85 749.48)"/>
<rect x="336.86" y="747.68" width="4.8" height="4.8" fill="#2b74da" transform="rotate(45 339.26 750.08)"/>
<rect x="341.26" y="748.88" width="4.8" height="4.8" fill="#2b74da" transform="rotate(45 343.66 751.28)"/>
<rect x="345.67" y="751.49" width="4.8" height="4.8" fill="#2b74da" transform="rotate(45 348.07 753.89)"/>
<rect x="350.07" y="754.73" width="4.8" height="4.8" fill="#2b74da" transform="rotate(45 352.47 757.13)"/>
<rect x="354.48" y="753.44" width="4.8" height="4.8" fill="#2b74da" transform="rotate(45 356.88 755.84)"/>
<rect x="358.89" y="751.79" width="4.8" height="4.8" fill="#2b74da" transform="rotate(45 361.29 754.19)"/>
<rect x="363.29" y="753.18" width="4.8" height="4.8" fill="#2b74da" transform="rotate(45 365.69 755.58)"/>
<rect x="367.7" y="755.01" width="4.8" height="4.8" fill="#2b74da" transform="rotate(45 370.1 757.41)"/>
<rect x="372.1" y="758.38" width="4.8" height="4.8" fill="#2b74da" transform="rotate(45 374.5 760.78)"/>
<rect x="376.51" y="757.03" width="4.8" height="4.8" fill="#2b74da" transform="rotate(45 378.91 759.43)"/>
<rect x="380.91" y="758.88" width="4.8" height="4.8" fill="#2b74da" transform="rotate(45 383.31 761.28)"/>
<rect x="385.32" y="759.55" width="4.8" height="4.8" fill="#2b74da" transform="rotate(45 387.72 761.95)"/>
<rect x="389.73" y="759.04" width="4.8" height="4.8" fill="#2b74da" transform="rotate(45 392.13 761.44)"/>
<rect x="394.13" y="765.43" width="4.8" height="4.8" fill="#2b74da" transform="rotate(45 396.53 767.83)"/>
<rect x="398.54" y="761.93" width="4.8" height="4.8" fill="#2b74da" transform="rotate(45 400.94 764.33)"/>
<rect x="402.94" y="762.52" width="4.8" height="4.8" fill="#2b74da" transform="rotate(45 405.34 764.92)"/>
<rect x="407.35" y="762.68" width="4.8" height="4.8" fill="#2b74da" transform="rotate(45 409.75 765.08)"/>
<rect x="411.75" y="760.96" width="4.8" height="4.8" fill="#2b74da" transform="rotate(45 414.15 763.36)"/>
<rect x="416.16" y="762.96" width="4.8" height="4.8" fill="#2b74da" transform="rotate(45 418.56 765.36)"/>
<rect x="420.57" y="763.73" width="4.8" height="4.8" fill="#2b74da" transform="rotate(45 422.97 766.13)"/>
<rect x="424.97" y="763.65" width="4.8" height="4.8" fill="#2b74da" transform="rotate(45 427.37 766.05)"/>
<rect x="429.38" y="762.75" width="4.8" height="4.8" fill="#2b74da" transform="rotate(45 431.78 765.15)"/>
<rect x="433.78" y="773.01" width="4.8" height="4.8" fill="#2b74da" transform="rotate(45 436.18 775.41)"/>
<rect x="438.19" y="772.6" width="4.8" height="4.8" fill="#2b74da" transform="rotate(45 440.59 775)"/>
<rect x="442.59" y="769.62" width="4.8" height="4.8" fill="#2b74da" transform="rotate(45 444.99 772.02)"/>
<rect x="447" y="768.77" width="4.8" height="4.8" fill="#2b74da" transform="rotate(45 449.4 771.17)"/>
<rect x="451.41" y="772.51" width="4.8" height="4.8" fill="#2b74da" transform="rotate(45 453.81 774.91)"/>
<rect x="455.81" y="771" width="4.8" height="4.8" fill="#2b74da" transform="rotate(45 458.21 773.4)"/>
<rect x="460.22" y="768.37" width="4.8" height="4.8" fill="#2b74da" transform="rotate(45 462.62 770.77)"/>
<rect x="464.62" y="773.11" width="4.8" height="4.8" fill="#2b74da" transform="rotate(45 467.02 775.51)"/>
<rect x="469.03" y="773.82" width="4.8" height="4.8" fill="#2b74da" transform="rotate(45 471.43 776.22)"/>
<rect x="473.43" y="776.4" width="4.8" height="4.8" fill="#2b74da" transform="rotate(45 475.83 778.8)"/>
<rect x="477.84" y="774.38" width="4.8" height="4.8" fill="#2b74da" transform="rotate(45 480.24 776.78)"/>
<rect x="482.25" y="775.25" width="4.8" height="4.8" fill="#2b74da" transform="rotate(45 484.65 777.65)"/>
<rect x="486.65" y="773.32" width="4.8" height="4.8" fill="#2b74da" transform="rotate(45 489.05 775.72)"/>
<rect x="491.06" y="770.62" width="4.8" height="4.8" fill="#2b74da" transform="rotate(45 493.46 773.02)"/>
<rect x="495.46" y="780.28" width="4.8" height="4.8" fill="#2b74da" transform="rotate(45 497.86 782.68)"/>
<rect x="499.87" y="777.38" width="4.8" height="4.8" fill="#2b74da" transform="rotate(45 502.27 779.78)"/>
<rect x="504.27" y="774.88" width="4.8" height="4.8" fill="#2b74da" transform="rotate(45 506.67 777.28)"/>
<rect x="508.68" y="775.16" width="4.8" height="4.8" fill="#2b74da" transform="rotate(45 511.08 777.56)"/>
<rect x="513.09" y="779.73" width="4.8" height="4.8" fill="#2b74da" transform="rotate(45 515.49 782.13)"/>
<rect x="517.49" y="780.35" width="4.8" height="4.8" fill="#2b74da" transform="rotate(45 519.89 782.75)"/>
<rect x="521.9" y="775.44" width="4.8" height="4.8" fill="#2b74da" transform="rotate(45 524.3 777.84)"/>
<rect x="526.3" y="780.72" width="4.8" height="4.8" fill="#2b74da" transform="rotate(45 528.7 783.12)"/>
<rect x="530.71" y="781.79" width="4.8" height="4.8" fill="#2b74da" transform="rotate(45 533.11 784.19)"/>
<rect x="535.11" y="775.51" width="4.8" height="4.8" fill="#2b74da" transform="rotate(45 537.51 777.91)"/>
<rect x="539.52" y="780.38" width="4.8" height="4.8" fill="#2b74da" transform="rotate(45 541.92 782.78)"/>
<rect x="543.93" y="783.24" width="4.8" height="4.8" fill="#2b74da" transform="rotate(45 546.33 785.64)"/>
<rect x="548.33" y="784.36" width="4.8" height="4.8" fill="#2b74da" transform="rotate(45 550.73 786.76)"/>
<rect x="552.74" y="785.96" width="4.8" height="4.8" fill="#2b74da" transform="rotate(45 555.14 788.36)"/>
<rect x="557.14" y="779.89" width="4.8" height="4.8" fill="#2b74da" transform="rotate(45 559.54 782.29)"/>
<rect x="561.55" y="778.61" width="4.8" height="4.8" fill="#2b74da" transform="rotate(45 563.95 781.01)"/>
<rect x="565.95" y="774.94" width="4.8" height="4.8" fill="#2b74da" transform="rotate(45 568.35 777.34)"/>
<rect x="570.36" y="782.79" width="4.8" height="4.8" fill="#2b74da" transform="rotate(45 572.76 785.19)"/>
<rect x="574.77" y="785.15" width="4.8" height="4.8" fill="#2b74da" transform="rotate(45 577.17 787.55)"/>
<rect x="579.17" y="787.71" width="4.8" height="4.8" fill="#2b74da" transform="rotate(45 581.57 790.11)"/>
<rect x="583.58" y="789.72" width="4.8" height="4.8" fill="#2b74da" transform="rotate(45 585.98 792.12)"/>
<rect x="587.98" y="791.19" width="4.8" height="4.8" fill="#2b74da" transform="rotate(45 590.38 793.59)"/>
<rect x="592.39" y="788.64" width="4.8" height="4.8" fill="#2b74da" transform="rotate(45 594.79 791.04)"/>
<rect x="596.79" y="787.58" width="4.8" height="4.8" fill="#2b74da" transform="rotate(45 599.19 789.98)"/>
<rect x="601.2" y="787.77" width="4.8" height="4.8" fill="#2b74da" transform="rotate(45 603.6 790.17)"/>
<rect x="605.61" y="787.63" width="4.8" height="4.8" fill="#2b74da" transform="rotate(45 608.01 790.03)"/>
<rect x="610.01" y="789.45" width="4.8" height="4.8" fill="#2b74da" transform="rotate(45 612.41 791.85)"/>
<rect x="614.42" y="788.39" width="4.8" height="4.8" fill="#2b74da" transform="rotate(45 616.82 790.79)"/>
<rect x="618.82" y="790.54" width="4.8" height="4.8" fill="#2b74da" transform="rotate(45 621.22 792.94)"/>
<rect x="623.23" y="790.47" width="4.8" height="4.8" fill="#2b74da" transform="rotate(45 625.63 792.87)"/>
<rect x="627.63" y="788.59" width="4.8" height="4.8" fill="#2b74da" transform="rotate(45 630.03 790.99)"/>
<rect x="632.04" y="787.83" width="4.8" height="4.8" fill="#2b74da" transform="rotate(45 634.44 790.23)"/>
<rect x="636.45" y="789.67" width="4.8" height="4.8" fill="#2b74da" transform="rotate(45 638.85 792.07)"/>
<rect x="640.85" y="789.75" width="4.8" height="4.8" fill="#2b74da" transform="rotate(45 643.25 792.15)"/>
<rect x="645.26" y="794" width="4.8" height="4.8" fill="#2b74da" transform="rotate(45 647.66 796.4)"/>
<rect x="649.66" y="794.14" width="4.8" height="4.8" fill="#2b74da" transform="rotate(45 652.06 796.54)"/>
<rect x="654.07" y="794.63" width="4.8" height="4.8" fill="#2b74da" transform="rotate(45 656.47 797.03)"/>
<rect x="658.47" y="792.81" width="4.8" height="4.8" fill="#2b74da" transform="rotate(45 660.87 795.21)"/>
<rect x="662.88" y="786.34" width="4.8" height="4.8" fill="#2b74da" transform="rotate(45 665.28 788.74)"/>
<rect x="667.29" y="791.8" width="4.8" height="4.8" fill="#2b74da" transform="rotate(45 669.69 794.2)"/>
<rect x="671.69" y="791.32" width="4.8" height="4.8" fill="#2b74da" transform="rotate(45 674.09 793.72)"/>
<rect x="676.1" y="790.85" width="4.8" height="4.8" fill="#2b74da" transform="rotate(45 678.5 793.25)"/>
<rect x="680.5" y="786.83" width="4.8" height="4.8" fill="#2b74da" transform="rotate(45 682.9 789.23)"/>
<rect x="684.91" y="787.82" width="4.8" height="4.8" fill="#2b74da" transform="rotate(45 687.31 790.22)"/>
<rect x="689.31" y="791.81" width="4.8" height="4.8" fill="#2b74da" transform="rotate(45 691.71 794.21)"/>
<rect x="693.72" y="790.94" width="4.8" height="4.8" fill="#2b74da" transform="rotate(45 696.12 793.34)"/>
<rect x="698.13" y="794.68" width="4.8" height="4.8" fill="#2b74da" transform="rotate(45 700.53 797.08)"/>
<rect x="488.45" y="762.84" width="6" height="6" fill="#2b74da" transform="rotate(45 491.45 765.84)"/>
<rect x="232.21" y="726.27" width="6" height="6" fill="#2b74da" transform="rotate(45 235.21 729.27)"/>
<rect x="474.04" y="766.43" width="6" height="6" fill="#2b74da" transform="rotate(45 477.04 769.43)"/>
<rect x="551.09" y="771.11" width="6" height="6" fill="#2b74da" transform="rotate(45 554.09 774.11)"/>
<rect x="394.2" y="753.34" width="6" height="6" fill="#2b74da" transform="rotate(45 397.2 756.34)"/>
<rect x="682.44" y="803.1" width="6" height="6" fill="#2b74da" transform="rotate(45 685.44 806.1)"/>
<rect x="327.3" y="752.74" width="6" height="6" fill="#2b74da" transform="rotate(45 330.3 755.74)"/>
<rect x="546.2" y="790.26" width="6" height="6" fill="#2b74da" transform="rotate(45 549.2 793.26)"/>
<path d="M98.47,824.61 L100.6,824.35 L102.73,824.29 L104.87,822.89 L107,818.77 L109.13,820.35 L111.26,821.28 L113.39,825.22 L115.52,824.89 L117.66,824.9 L119.79,825.75 L121.92,824.75 L124.05,823.6 L126.18,824.97" stroke="#176c46" stroke-width="3.5" fill="none" stroke-linejoin="round" />
<rect x="96.07" y="822.21" width="4.8" height="4.8" fill="#176c46" transform="rotate(45 98.47 824.61)"/>
<rect x="98.2" y="821.95" width="4.8" height="4.8" fill="#176c46" transform="rotate(45 100.6 824.35)"/>
<rect x="100.33" y="821.89" width="4.8" height="4.8" fill="#176c46" transform="rotate(45 102.73 824.29)"/>
<rect x="102.47" y="820.49" width="4.8" height="4.8" fill="#176c46" transform="rotate(45 104.87 822.89)"/>
<rect x="104.6" y="816.37" width="4.8" height="4.8" fill="#176c46" transform="rotate(45 107 818.77)"/>
<rect x="106.73" y="817.95" width="4.8" height="4.8" fill="#176c46" transform="rotate(45 109.13 820.35)"/>
<rect x="108.86" y="818.88" width="4.8" height="4.8" fill="#176c46" transform="rotate(45 111.26 821.28)"/>
<rect x="110.99" y="822.82" width="4.8" height="4.8" fill="#176c46" transform="rotate(45 113.39 825.22)"/>
<rect x="113.12" y="822.49" width="4.8" height="4.8" fill="#176c46" transform="rotate(45 115.52 824.89)"/>
<rect x="115.26" y="822.5" width="4.8" height="4.8" fill="#176c46" transform="rotate(45 117.66 824.9)"/>
<rect x="117.39" y="823.35" width="4.8" height="4.8" fill="#176c46" transform="rotate(45 119.79 825.75)"/>
<rect x="119.52" y="822.35" width="4.8" height="4.8" fill="#176c46" transform="rotate(45 121.92 824.75)"/>
<rect x="121.65" y="821.2" width="4.8" height="4.8" fill="#176c46" transform="rotate(45 124.05 823.6)"/>
<rect x="123.78" y="822.57" width="4.8" height="4.8" fill="#176c46" transform="rotate(45 126.18 824.97)"/>
<rect x="127.49" y="754.2" width="5.2" height="5.2" fill="#176c46"/>
<path d="M135.6,566.15 L136.31,594.96 L137.02,610.67 L137.73,625.37 L138.44,631.23 L139.15,639.59 L139.86,644.36 L140.57,648.48 L141.28,654.85 L141.99,658.25 L142.7,662.4 L143.42,664.89 L144.13,667.44 L144.84,670.27 L145.55,675.79 L146.26,677.49 L146.97,679.06 L147.68,685.49 L148.39,688.3 L149.1,693.85 L149.81,691.69 L152.01,695.56 L154.22,698.55 L156.42,699.95 L158.62,706.66 L160.83,707.39 L163.03,711.73 L165.23,714.08 L167.43,713.83 L169.64,713.95 L171.84,714.79 L174.04,716.34 L176.25,716.7 L178.45,719.5 L180.65,722 L182.85,721.12 L185.06,728.78 L187.26,726.81 L189.46,726.14 L191.67,727.25 L193.87,727.28 L196.07,728.77 L198.27,730.09 L200.48,731.84 L202.68,733.16 L204.88,732.23 L207.09,736.02 L209.29,734.84 L211.49,733.56 L213.69,733.82 L215.9,730.74 L218.1,738.53 L220.3,738 L222.51,738.02 L224.71,737.61 L226.91,739.81 L229.11,743.66 L231.32,742.58 L233.52,745.82 L235.72,744.43 L237.93,743.48 L240.13,746.01 L242.33,747.22 L244.53,748.96 L246.74,751.15 L248.94,750.15 L251.14,750.94 L253.35,748.83 L255.55,750.5 L257.75,753.54 L259.95,753.18 L262.16,757.91 L264.36,759.89 L266.56,762.06 L268.77,758.19 L270.97,756.2 L273.17,756.6 L275.37,756.15 L277.58,755.99 L279.78,757.26 L281.98,759.68 L284.19,756.46 L286.39,761.49 L288.59,762.18 L290.79,763.57 L293,761.7 L295.2,757.56 L297.4,759.62 L299.61,758.61 L301.81,761.44 L304.01,765.18 L306.21,763.78 L308.42,771.15 L310.62,769.05 L312.82,769.85 L315.03,771.35 L317.23,768.31 L319.43,770.62 L321.63,771.3 L323.84,772.01 L326.04,773.12 L328.24,771.62 L330.45,773.18 L332.65,775.05 L334.85,775.12 L337.05,774.82 L339.26,776.12 L341.46,777.15 L343.66,776.42 L345.87,777.21 L348.07,776.19 L350.27,774.68 L352.47,776.23 L354.68,775.9 L356.88,775.64 L359.08,778.14 L361.29,777.41 L363.49,778.02 L365.69,778.76 L367.89,779.93 L370.1,780.38 L372.3,779.77 L374.5,780.58 L376.71,780.76 L378.91,782.85 L381.11,781.01 L383.31,780.16 L385.52,779.07 L387.72,780.86 L389.92,783.32 L392.13,780.52 L394.33,783.73 L396.53,784.16 L398.73,788.14 L400.94,785.49 L403.14,787.38 L405.34,788.11 L407.55,786.66 L409.75,787.12 L411.95,789.98 L414.15,791.02 L416.36,788.82 L418.56,789 L420.76,786.2 L422.97,782.88 L425.17,786.3 L427.37,786.31 L429.57,787.6 L431.78,789.55 L433.98,791.05 L436.18,792.17 L438.39,794.86 L440.59,792.77 L442.79,792.56 L444.99,791.19 L447.2,791.52 L449.4,792.95 L451.6,792.16 L453.81,793.7 L456.01,793.6 L458.21,794.71 L460.41,792.05 L462.62,796.07 L464.82,795.43 L467.02,792.89 L469.23,800.64 L471.43,797.17 L473.63,799.2 L475.83,798.14 L478.04,798.29 L480.24,798.63 L482.44,801.28 L484.65,799.54 L486.85,796.65 L489.05,793.06 L491.25,797.29 L493.46,798.15 L495.66,802.58 L497.86,804.75 L500.07,803.38 L502.27,805.99 L504.47,807.54 L506.67,805.09 L508.88,810.56 L511.08,803.23 L513.28,800.39 L515.49,797.12 L517.69,799.67 L519.89,803.63 L522.09,806.19 L524.3,807.13 L526.5,808.41 L528.7,804.42 L530.91,806.94 L533.11,806.12 L535.31,806.44 L537.51,806.13 L539.72,803.36 L541.92,803.02 L544.12,804.25 L546.33,802.09 L548.53,802.67 L550.73,806.89 L552.93,807.2 L555.14,806.41 L557.34,806.85 L559.54,806.09 L561.75,806.29 L563.95,805.21 L566.15,805.97 L568.35,806.71 L570.56,806.34 L572.76,808.96 L574.96,804.74 L577.17,803.94 L579.37,807.34 L581.57,805.11 L583.77,810.21 L585.98,809.84 L588.18,806.08 L590.38,808.76 L592.59,803.1 L594.79,806.95 L596.99,808.4 L599.19,810.11 L601.4,809.01 L603.6,809.57 L605.8,811.6 L608.01,809.54 L610.21,811.8 L612.41,814.37 L614.61,814.56 L616.82,811.74 L619.02,813.74 L621.22,811.41 L623.43,813.91 L625.63,812.34 L627.83,809.3 L630.03,810.69 L632.24,814.95 L634.44,817.55 L636.64,817.12 L638.85,817 L641.05,812.32 L643.25,813.08 L645.45,814.16 L647.66,815.2 L649.86,814.94 L652.06,814.94 L654.27,814.42 L656.47,810.4 L658.67,813.89 L660.87,814.01 L663.08,814.42 L665.28,817.7 L667.48,813.31 L669.69,815.27 L671.89,812.54 L674.09,811.82 L676.29,812.24 L678.5,813.27 L680.7,815.9 L682.9,818.74 L685.11,816.46 L687.31,815.25 L689.51,817.78 L691.71,819.22 L693.92,815.76 L696.12,818.18 L698.32,818.11 L700.53,821.71 L702.73,820.96" stroke="#176c46" stroke-width="3.2" fill="none" stroke-linejoin="round" />
<rect x="133.2" y="563.75" width="4.8" height="4.8" fill="#176c46" transform="rotate(45 135.6 566.15)"/>
<rect x="134.62" y="608.27" width="4.8" height="4.8" fill="#176c46" transform="rotate(45 137.02 610.67)"/>
<rect x="136.04" y="628.83" width="4.8" height="4.8" fill="#176c46" transform="rotate(45 138.44 631.23)"/>
<rect x="137.46" y="641.96" width="4.8" height="4.8" fill="#176c46" transform="rotate(45 139.86 644.36)"/>
<rect x="138.88" y="652.45" width="4.8" height="4.8" fill="#176c46" transform="rotate(45 141.28 654.85)"/>
<rect x="140.3" y="660" width="4.8" height="4.8" fill="#176c46" transform="rotate(45 142.7 662.4)"/>
<rect x="141.73" y="665.04" width="4.8" height="4.8" fill="#176c46" transform="rotate(45 144.13 667.44)"/>
<rect x="143.15" y="673.39" width="4.8" height="4.8" fill="#176c46" transform="rotate(45 145.55 675.79)"/>
<rect x="144.57" y="676.66" width="4.8" height="4.8" fill="#176c46" transform="rotate(45 146.97 679.06)"/>
<rect x="145.99" y="685.9" width="4.8" height="4.8" fill="#176c46" transform="rotate(45 148.39 688.3)"/>
<rect x="147.41" y="689.29" width="4.8" height="4.8" fill="#176c46" transform="rotate(45 149.81 691.69)"/>
<rect x="151.82" y="696.15" width="4.8" height="4.8" fill="#176c46" transform="rotate(45 154.22 698.55)"/>
<rect x="156.22" y="704.26" width="4.8" height="4.8" fill="#176c46" transform="rotate(45 158.62 706.66)"/>
<rect x="160.63" y="709.33" width="4.8" height="4.8" fill="#176c46" transform="rotate(45 163.03 711.73)"/>
<rect x="165.03" y="711.43" width="4.8" height="4.8" fill="#176c46" transform="rotate(45 167.43 713.83)"/>
<rect x="169.44" y="712.39" width="4.8" height="4.8" fill="#176c46" transform="rotate(45 171.84 714.79)"/>
<rect x="173.85" y="714.3" width="4.8" height="4.8" fill="#176c46" transform="rotate(45 176.25 716.7)"/>
<rect x="178.25" y="719.6" width="4.8" height="4.8" fill="#176c46" transform="rotate(45 180.65 722)"/>
<rect x="182.66" y="726.38" width="4.8" height="4.8" fill="#176c46" transform="rotate(45 185.06 728.78)"/>
<rect x="187.06" y="723.74" width="4.8" height="4.8" fill="#176c46" transform="rotate(45 189.46 726.14)"/>
<rect x="191.47" y="724.88" width="4.8" height="4.8" fill="#176c46" transform="rotate(45 193.87 727.28)"/>
<rect x="195.87" y="727.69" width="4.8" height="4.8" fill="#176c46" transform="rotate(45 198.27 730.09)"/>
<rect x="200.28" y="730.76" width="4.8" height="4.8" fill="#176c46" transform="rotate(45 202.68 733.16)"/>
<rect x="204.69" y="733.62" width="4.8" height="4.8" fill="#176c46" transform="rotate(45 207.09 736.02)"/>
<rect x="209.09" y="731.16" width="4.8" height="4.8" fill="#176c46" transform="rotate(45 211.49 733.56)"/>
<rect x="213.5" y="728.34" width="4.8" height="4.8" fill="#176c46" transform="rotate(45 215.9 730.74)"/>
<rect x="217.9" y="735.6" width="4.8" height="4.8" fill="#176c46" transform="rotate(45 220.3 738)"/>
<rect x="222.31" y="735.21" width="4.8" height="4.8" fill="#176c46" transform="rotate(45 224.71 737.61)"/>
<rect x="226.71" y="741.26" width="4.8" height="4.8" fill="#176c46" transform="rotate(45 229.11 743.66)"/>
<rect x="231.12" y="743.42" width="4.8" height="4.8" fill="#176c46" transform="rotate(45 233.52 745.82)"/>
<rect x="235.53" y="741.08" width="4.8" height="4.8" fill="#176c46" transform="rotate(45 237.93 743.48)"/>
<rect x="239.93" y="744.82" width="4.8" height="4.8" fill="#176c46" transform="rotate(45 242.33 747.22)"/>
<rect x="244.34" y="748.75" width="4.8" height="4.8" fill="#176c46" transform="rotate(45 246.74 751.15)"/>
<rect x="248.74" y="748.54" width="4.8" height="4.8" fill="#176c46" transform="rotate(45 251.14 750.94)"/>
<rect x="253.15" y="748.1" width="4.8" height="4.8" fill="#176c46" transform="rotate(45 255.55 750.5)"/>
<rect x="257.55" y="750.78" width="4.8" height="4.8" fill="#176c46" transform="rotate(45 259.95 753.18)"/>
<rect x="261.96" y="757.49" width="4.8" height="4.8" fill="#176c46" transform="rotate(45 264.36 759.89)"/>
<rect x="266.37" y="755.79" width="4.8" height="4.8" fill="#176c46" transform="rotate(45 268.77 758.19)"/>
<rect x="270.77" y="754.2" width="4.8" height="4.8" fill="#176c46" transform="rotate(45 273.17 756.6)"/>
<rect x="275.18" y="753.59" width="4.8" height="4.8" fill="#176c46" transform="rotate(45 277.58 755.99)"/>
<rect x="279.58" y="757.28" width="4.8" height="4.8" fill="#176c46" transform="rotate(45 281.98 759.68)"/>
<rect x="283.99" y="759.09" width="4.8" height="4.8" fill="#176c46" transform="rotate(45 286.39 761.49)"/>
<rect x="288.39" y="761.17" width="4.8" height="4.8" fill="#176c46" transform="rotate(45 290.79 763.57)"/>
<rect x="292.8" y="755.16" width="4.8" height="4.8" fill="#176c46" transform="rotate(45 295.2 757.56)"/>
<rect x="297.21" y="756.21" width="4.8" height="4.8" fill="#176c46" transform="rotate(45 299.61 758.61)"/>
<rect x="301.61" y="762.78" width="4.8" height="4.8" fill="#176c46" transform="rotate(45 304.01 765.18)"/>
<rect x="306.02" y="768.75" width="4.8" height="4.8" fill="#176c46" transform="rotate(45 308.42 771.15)"/>
<rect x="310.42" y="767.45" width="4.8" height="4.8" fill="#176c46" transform="rotate(45 312.82 769.85)"/>
<rect x="314.83" y="765.91" width="4.8" height="4.8" fill="#176c46" transform="rotate(45 317.23 768.31)"/>
<rect x="319.23" y="768.9" width="4.8" height="4.8" fill="#176c46" transform="rotate(45 321.63 771.3)"/>
<rect x="323.64" y="770.72" width="4.8" height="4.8" fill="#176c46" transform="rotate(45 326.04 773.12)"/>
<rect x="328.05" y="770.78" width="4.8" height="4.8" fill="#176c46" transform="rotate(45 330.45 773.18)"/>
<rect x="332.45" y="772.72" width="4.8" height="4.8" fill="#176c46" transform="rotate(45 334.85 775.12)"/>
<rect x="336.86" y="773.72" width="4.8" height="4.8" fill="#176c46" transform="rotate(45 339.26 776.12)"/>
<rect x="341.26" y="774.02" width="4.8" height="4.8" fill="#176c46" transform="rotate(45 343.66 776.42)"/>
<rect x="345.67" y="773.79" width="4.8" height="4.8" fill="#176c46" transform="rotate(45 348.07 776.19)"/>
<rect x="350.07" y="773.83" width="4.8" height="4.8" fill="#176c46" transform="rotate(45 352.47 776.23)"/>
<rect x="354.48" y="773.24" width="4.8" height="4.8" fill="#176c46" transform="rotate(45 356.88 775.64)"/>
<rect x="358.89" y="775.01" width="4.8" height="4.8" fill="#176c46" transform="rotate(45 361.29 777.41)"/>
<rect x="363.29" y="776.36" width="4.8" height="4.8" fill="#176c46" transform="rotate(45 365.69 778.76)"/>
<rect x="367.7" y="777.98" width="4.8" height="4.8" fill="#176c46" transform="rotate(45 370.1 780.38)"/>
<rect x="372.1" y="778.18" width="4.8" height="4.8" fill="#176c46" transform="rotate(45 374.5 780.58)"/>
<rect x="376.51" y="780.45" width="4.8" height="4.8" fill="#176c46" transform="rotate(45 378.91 782.85)"/>
<rect x="380.91" y="777.76" width="4.8" height="4.8" fill="#176c46" transform="rotate(45 383.31 780.16)"/>
<rect x="385.32" y="778.46" width="4.8" height="4.8" fill="#176c46" transform="rotate(45 387.72 780.86)"/>
<rect x="389.73" y="778.12" width="4.8" height="4.8" fill="#176c46" transform="rotate(45 392.13 780.52)"/>
<rect x="394.13" y="781.76" width="4.8" height="4.8" fill="#176c46" transform="rotate(45 396.53 784.16)"/>
<rect x="398.54" y="783.09" width="4.8" height="4.8" fill="#176c46" transform="rotate(45 400.94 785.49)"/>
<rect x="402.94" y="785.71" width="4.8" height="4.8" fill="#176c46" transform="rotate(45 405.34 788.11)"/>
<rect x="407.35" y="784.72" width="4.8" height="4.8" fill="#176c46" transform="rotate(45 409.75 787.12)"/>
<rect x="411.75" y="788.62" width="4.8" height="4.8" fill="#176c46" transform="rotate(45 414.15 791.02)"/>
<rect x="416.16" y="786.6" width="4.8" height="4.8" fill="#176c46" transform="rotate(45 418.56 789)"/>
<rect x="420.57" y="780.48" width="4.8" height="4.8" fill="#176c46" transform="rotate(45 422.97 782.88)"/>
<rect x="424.97" y="783.91" width="4.8" height="4.8" fill="#176c46" transform="rotate(45 427.37 786.31)"/>
<rect x="429.38" y="787.15" width="4.8" height="4.8" fill="#176c46" transform="rotate(45 431.78 789.55)"/>
<rect x="433.78" y="789.77" width="4.8" height="4.8" fill="#176c46" transform="rotate(45 436.18 792.17)"/>
<rect x="438.19" y="790.37" width="4.8" height="4.8" fill="#176c46" transform="rotate(45 440.59 792.77)"/>
<rect x="442.59" y="788.79" width="4.8" height="4.8" fill="#176c46" transform="rotate(45 444.99 791.19)"/>
<rect x="447" y="790.55" width="4.8" height="4.8" fill="#176c46" transform="rotate(45 449.4 792.95)"/>
<rect x="451.41" y="791.3" width="4.8" height="4.8" fill="#176c46" transform="rotate(45 453.81 793.7)"/>
<rect x="455.81" y="792.31" width="4.8" height="4.8" fill="#176c46" transform="rotate(45 458.21 794.71)"/>
<rect x="460.22" y="793.67" width="4.8" height="4.8" fill="#176c46" transform="rotate(45 462.62 796.07)"/>
<rect x="464.62" y="790.49" width="4.8" height="4.8" fill="#176c46" transform="rotate(45 467.02 792.89)"/>
<rect x="469.03" y="794.77" width="4.8" height="4.8" fill="#176c46" transform="rotate(45 471.43 797.17)"/>
<rect x="473.43" y="795.74" width="4.8" height="4.8" fill="#176c46" transform="rotate(45 475.83 798.14)"/>
<rect x="477.84" y="796.23" width="4.8" height="4.8" fill="#176c46" transform="rotate(45 480.24 798.63)"/>
<rect x="482.25" y="797.14" width="4.8" height="4.8" fill="#176c46" transform="rotate(45 484.65 799.54)"/>
<rect x="486.65" y="790.66" width="4.8" height="4.8" fill="#176c46" transform="rotate(45 489.05 793.06)"/>
<rect x="491.06" y="795.75" width="4.8" height="4.8" fill="#176c46" transform="rotate(45 493.46 798.15)"/>
<rect x="495.46" y="802.35" width="4.8" height="4.8" fill="#176c46" transform="rotate(45 497.86 804.75)"/>
<rect x="499.87" y="803.59" width="4.8" height="4.8" fill="#176c46" transform="rotate(45 502.27 805.99)"/>
<rect x="504.27" y="802.69" width="4.8" height="4.8" fill="#176c46" transform="rotate(45 506.67 805.09)"/>
<rect x="508.68" y="800.83" width="4.8" height="4.8" fill="#176c46" transform="rotate(45 511.08 803.23)"/>
<rect x="513.09" y="794.72" width="4.8" height="4.8" fill="#176c46" transform="rotate(45 515.49 797.12)"/>
<rect x="517.49" y="801.23" width="4.8" height="4.8" fill="#176c46" transform="rotate(45 519.89 803.63)"/>
<rect x="521.9" y="804.73" width="4.8" height="4.8" fill="#176c46" transform="rotate(45 524.3 807.13)"/>
<rect x="526.3" y="802.02" width="4.8" height="4.8" fill="#176c46" transform="rotate(45 528.7 804.42)"/>
<rect x="530.71" y="803.72" width="4.8" height="4.8" fill="#176c46" transform="rotate(45 533.11 806.12)"/>
<rect x="535.11" y="803.73" width="4.8" height="4.8" fill="#176c46" transform="rotate(45 537.51 806.13)"/>
<rect x="539.52" y="800.62" width="4.8" height="4.8" fill="#176c46" transform="rotate(45 541.92 803.02)"/>
<rect x="543.93" y="799.69" width="4.8" height="4.8" fill="#176c46" transform="rotate(45 546.33 802.09)"/>
<rect x="548.33" y="804.49" width="4.8" height="4.8" fill="#176c46" transform="rotate(45 550.73 806.89)"/>
<rect x="552.74" y="804.01" width="4.8" height="4.8" fill="#176c46" transform="rotate(45 555.14 806.41)"/>
<rect x="557.14" y="803.69" width="4.8" height="4.8" fill="#176c46" transform="rotate(45 559.54 806.09)"/>
<rect x="561.55" y="802.81" width="4.8" height="4.8" fill="#176c46" transform="rotate(45 563.95 805.21)"/>
<rect x="565.95" y="804.31" width="4.8" height="4.8" fill="#176c46" transform="rotate(45 568.35 806.71)"/>
<rect x="570.36" y="806.56" width="4.8" height="4.8" fill="#176c46" transform="rotate(45 572.76 808.96)"/>
<rect x="574.77" y="801.54" width="4.8" height="4.8" fill="#176c46" transform="rotate(45 577.17 803.94)"/>
<rect x="579.17" y="802.71" width="4.8" height="4.8" fill="#176c46" transform="rotate(45 581.57 805.11)"/>
<rect x="583.58" y="807.44" width="4.8" height="4.8" fill="#176c46" transform="rotate(45 585.98 809.84)"/>
<rect x="587.98" y="806.36" width="4.8" height="4.8" fill="#176c46" transform="rotate(45 590.38 808.76)"/>
<rect x="592.39" y="804.55" width="4.8" height="4.8" fill="#176c46" transform="rotate(45 594.79 806.95)"/>
<rect x="596.79" y="807.71" width="4.8" height="4.8" fill="#176c46" transform="rotate(45 599.19 810.11)"/>
<rect x="601.2" y="807.17" width="4.8" height="4.8" fill="#176c46" transform="rotate(45 603.6 809.57)"/>
<rect x="605.61" y="807.14" width="4.8" height="4.8" fill="#176c46" transform="rotate(45 608.01 809.54)"/>
<rect x="610.01" y="811.97" width="4.8" height="4.8" fill="#176c46" transform="rotate(45 612.41 814.37)"/>
<rect x="614.42" y="809.34" width="4.8" height="4.8" fill="#176c46" transform="rotate(45 616.82 811.74)"/>
<rect x="618.82" y="809.01" width="4.8" height="4.8" fill="#176c46" transform="rotate(45 621.22 811.41)"/>
<rect x="623.23" y="809.94" width="4.8" height="4.8" fill="#176c46" transform="rotate(45 625.63 812.34)"/>
<rect x="627.63" y="808.29" width="4.8" height="4.8" fill="#176c46" transform="rotate(45 630.03 810.69)"/>
<rect x="632.04" y="815.15" width="4.8" height="4.8" fill="#176c46" transform="rotate(45 634.44 817.55)"/>
<rect x="636.45" y="814.6" width="4.8" height="4.8" fill="#176c46" transform="rotate(45 638.85 817)"/>
<rect x="640.85" y="810.68" width="4.8" height="4.8" fill="#176c46" transform="rotate(45 643.25 813.08)"/>
<rect x="645.26" y="812.8" width="4.8" height="4.8" fill="#176c46" transform="rotate(45 647.66 815.2)"/>
<rect x="649.66" y="812.54" width="4.8" height="4.8" fill="#176c46" transform="rotate(45 652.06 814.94)"/>
<rect x="654.07" y="808" width="4.8" height="4.8" fill="#176c46" transform="rotate(45 656.47 810.4)"/>
<rect x="658.47" y="811.61" width="4.8" height="4.8" fill="#176c46" transform="rotate(45 660.87 814.01)"/>
<rect x="662.88" y="815.3" width="4.8" height="4.8" fill="#176c46" transform="rotate(45 665.28 817.7)"/>
<rect x="667.29" y="812.87" width="4.8" height="4.8" fill="#176c46" transform="rotate(45 669.69 815.27)"/>
<rect x="671.69" y="809.42" width="4.8" height="4.8" fill="#176c46" transform="rotate(45 674.09 811.82)"/>
<rect x="676.1" y="810.87" width="4.8" height="4.8" fill="#176c46" transform="rotate(45 678.5 813.27)"/>
<rect x="680.5" y="816.34" width="4.8" height="4.8" fill="#176c46" transform="rotate(45 682.9 818.74)"/>
<rect x="684.91" y="812.85" width="4.8" height="4.8" fill="#176c46" transform="rotate(45 687.31 815.25)"/>
<rect x="689.31" y="816.82" width="4.8" height="4.8" fill="#176c46" transform="rotate(45 691.71 819.22)"/>
<rect x="693.72" y="815.78" width="4.8" height="4.8" fill="#176c46" transform="rotate(45 696.12 818.18)"/>
<rect x="698.13" y="819.31" width="4.8" height="4.8" fill="#176c46" transform="rotate(45 700.53 821.71)"/>
<rect x="577.23" y="813.17" width="6" height="6" fill="#176c46" transform="rotate(45 580.23 816.17)"/>
<rect x="348.67" y="784.26" width="6" height="6" fill="#176c46" transform="rotate(45 351.67 787.26)"/>
<rect x="305.62" y="752.45" width="6" height="6" fill="#176c46" transform="rotate(45 308.62 755.45)"/>
<rect x="484.92" y="808.04" width="6" height="6" fill="#176c46" transform="rotate(45 487.92 811.04)"/>
<rect x="393.03" y="773.09" width="6" height="6" fill="#176c46" transform="rotate(45 396.03 776.09)"/>
<rect x="318.22" y="759.27" width="6" height="6" fill="#176c46" transform="rotate(45 321.22 762.27)"/>
<path d="M135.6,548.7 L135.78,553.23 L135.95,557.52 L136.13,561.57 L136.31,565.41 L136.49,569.04 L136.66,572.48 L136.84,575.73 L137.02,578.81 L137.2,581.73 L137.38,584.49 L137.55,587.1 L137.73,589.58 L137.91,591.92 L138.09,594.15 L138.26,596.25 L138.44,598.25 L138.62,600.14 L138.8,601.94 L138.97,603.64 L139.15,605.25 L139.33,606.78 L139.51,608.24 L139.68,609.62 L139.86,610.93 L140.04,612.17 L140.22,613.36 L140.4,614.48 L140.57,615.55 L140.75,616.57 L140.93,617.54 L141.11,618.46 L141.28,619.33 L141.46,620.17 L141.64,620.96 L141.82,621.72 L141.99,622.45 L142.17,623.14 L142.35,623.8 L142.53,624.43 L142.7,625.03 L142.88,625.6 L143.06,626.15 L143.24,626.68 L143.42,627.19 L143.59,627.67 L143.77,628.13 L143.95,628.58 L144.13,629.01 L144.3,629.42 L144.48,629.81 L144.66,630.19 L144.84,630.56 L145.01,630.91 L145.19,631.25 L145.37,631.58 L145.55,631.89 L145.72,632.2 L145.9,632.49 L146.08,632.78 L146.26,633.06 L149.81,637.29 L153.36,640.26 L156.92,642.77 L160.47,645.08 L164.02,647.28 L167.58,649.39 L171.13,651.43 L174.68,653.41 L178.23,655.32 L181.79,657.17 L185.34,658.97 L188.89,660.72 L192.45,662.41 L196,664.06 L199.55,665.66 L203.11,667.22 L206.66,668.74 L210.21,670.22 L213.76,671.66 L217.32,673.07 L220.87,674.45 L224.42,675.79 L227.98,677.1 L231.53,678.39 L235.08,679.64 L238.64,680.88 L242.19,682.08 L245.74,683.26 L249.29,684.42 L252.85,685.56 L256.4,686.68 L259.95,687.78 L263.51,688.85 L267.06,689.91 L270.61,690.96 L274.17,691.98 L277.72,692.99 L281.27,693.99 L284.82,694.97 L288.38,695.93 L291.93,696.88 L295.48,697.82 L299.04,698.75 L302.59,699.66 L306.14,700.57 L309.7,701.46 L313.25,702.34 L316.8,703.21 L320.35,704.07 L323.91,704.92 L327.46,705.76 L331.01,706.59 L334.57,707.41 L338.12,708.23 L341.67,709.03 L345.23,709.83 L348.78,710.62 L352.33,711.4 L355.88,712.18 L359.44,712.94 L362.99,713.7 L366.54,714.46 L370.1,715.2 L373.65,715.94 L377.2,716.68 L380.76,717.4 L384.31,718.13 L387.86,718.84 L391.41,719.55 L394.97,720.25 L398.52,720.95 L402.07,721.64 L405.63,722.33 L409.18,723.01 L412.73,723.69 L416.29,724.36 L419.84,725.02 L423.39,725.69 L426.94,726.34 L430.5,726.99 L434.05,727.64 L437.6,728.28 L441.16,728.92 L444.71,729.55 L448.26,730.18 L451.82,730.8 L455.37,731.42 L458.92,732.04 L462.47,732.65 L466.03,733.26 L469.58,733.86 L473.13,734.46 L476.69,735.05 L480.24,735.65 L483.79,736.23 L487.35,736.82 L490.9,737.39 L494.45,737.97 L498,738.54 L501.56,739.11 L505.11,739.67 L508.66,740.23 L512.22,740.79 L515.77,741.34 L519.32,741.89 L522.88,742.44 L526.43,742.98 L529.98,743.52 L533.53,744.06 L537.09,744.59 L540.64,745.12 L544.19,745.64 L547.75,746.17 L551.3,746.69 L554.85,747.2 L558.41,747.71 L561.96,748.22 L565.51,748.73 L569.06,749.23 L572.62,749.73 L576.17,750.23 L579.72,750.72 L583.28,751.21 L586.83,751.7 L590.38,752.18 L593.94,752.66 L597.49,753.14 L601.04,753.62 L604.59,754.09 L608.15,754.56 L611.7,755.03 L615.25,755.49 L618.81,755.95 L622.36,756.41 L625.91,756.86 L629.47,757.32 L633.02,757.76 L636.57,758.21 L640.12,758.66 L643.68,759.1 L647.23,759.54 L650.78,759.97 L654.34,760.4 L657.89,760.83 L661.44,761.26 L665,761.69 L668.55,762.11 L672.1,762.53 L675.65,762.95 L679.21,763.36 L682.76,763.77 L686.31,764.18 L689.87,764.59 L693.42,765 L696.97,765.4 L700.53,765.8" stroke="#4a1878" stroke-width="2" fill="none" stroke-linejoin="round" />
<path d="M135.6,533.45 L135.78,544.78 L135.95,555.27 L136.13,564.97 L136.31,573.95 L136.49,582.26 L136.66,589.95 L136.84,597.06 L137.02,603.65 L137.2,609.75 L137.38,615.4 L137.55,620.63 L137.73,625.47 L137.91,629.95 L138.09,634.1 L138.26,637.95 L138.44,641.51 L138.62,644.81 L138.8,647.87 L138.97,650.71 L139.15,653.33 L139.33,655.77 L139.51,658.03 L139.68,660.13 L139.86,662.07 L140.04,663.88 L140.22,665.55 L140.4,667.11 L140.57,668.55 L140.75,669.89 L140.93,671.14 L141.11,672.3 L141.28,673.38 L141.46,674.39 L141.64,675.32 L141.82,676.19 L141.99,677 L142.17,677.76 L142.35,678.47 L142.53,679.13 L142.7,679.74 L142.88,680.32 L143.06,680.86 L143.24,681.36 L143.42,681.84 L143.59,682.28 L143.77,682.7 L143.95,683.09 L144.13,683.46 L144.3,683.81 L144.48,684.13 L144.66,684.44 L144.84,684.73 L145.01,685.01 L145.19,685.27 L145.37,685.52 L145.55,685.76 L145.72,685.98 L145.9,686.19 L146.08,686.4 L146.26,686.59 L149.81,689.33 L153.36,691.19 L156.92,692.85 L160.47,694.45 L164.02,696.02 L167.58,697.56 L171.13,699.08 L174.68,700.58 L178.23,702.06 L181.79,703.52 L185.34,704.96 L188.89,706.37 L192.45,707.77 L196,709.15 L199.55,710.5 L203.11,711.84 L206.66,713.16 L210.21,714.46 L213.76,715.75 L217.32,717.01 L220.87,718.26 L224.42,719.49 L227.98,720.7 L231.53,721.89 L235.08,723.07 L238.64,724.23 L242.19,725.38 L245.74,726.51 L249.29,727.63 L252.85,728.73 L256.4,729.81 L259.95,730.88 L263.51,731.93 L267.06,732.97 L270.61,734 L274.17,735.01 L277.72,736.01 L281.27,737 L284.82,737.97 L288.38,738.93 L291.93,739.87 L295.48,740.8 L299.04,741.72 L302.59,742.63 L306.14,743.53 L309.7,744.41 L313.25,745.28 L316.8,746.14 L320.35,746.99 L323.91,747.83 L327.46,748.66 L331.01,749.47 L334.57,750.28 L338.12,751.07 L341.67,751.85 L345.23,752.63 L348.78,753.39 L352.33,754.14 L355.88,754.89 L359.44,755.62 L362.99,756.34 L366.54,757.06 L370.1,757.76 L373.65,758.46 L377.2,759.15 L380.76,759.83 L384.31,760.5 L387.86,761.16 L391.41,761.81 L394.97,762.46 L398.52,763.09 L402.07,763.72 L405.63,764.34 L409.18,764.95 L412.73,765.56 L416.29,766.16 L419.84,766.75 L423.39,767.33 L426.94,767.9 L430.5,768.47 L434.05,769.03 L437.6,769.59 L441.16,770.14 L444.71,770.68 L448.26,771.21 L451.82,771.74 L455.37,772.26 L458.92,772.77 L462.47,773.28 L466.03,773.78 L469.58,774.28 L473.13,774.77 L476.69,775.25 L480.24,775.73 L483.79,776.21 L487.35,776.67 L490.9,777.14 L494.45,777.59 L498,778.04 L501.56,778.49 L505.11,778.93 L508.66,779.36 L512.22,779.79 L515.77,780.22 L519.32,780.64 L522.88,781.05 L526.43,781.46 L529.98,781.87 L533.53,782.27 L537.09,782.67 L540.64,783.06 L544.19,783.45 L547.75,783.83 L551.3,784.21 L554.85,784.58 L558.41,784.95 L561.96,785.32 L565.51,785.68 L569.06,786.04 L572.62,786.39 L576.17,786.74 L579.72,787.09 L583.28,787.43 L586.83,787.77 L590.38,788.1 L593.94,788.43 L597.49,788.76 L601.04,789.08 L604.59,789.4 L608.15,789.72 L611.7,790.03 L615.25,790.34 L618.81,790.65 L622.36,790.95 L625.91,791.26 L629.47,791.55 L633.02,791.85 L636.57,792.14 L640.12,792.42 L643.68,792.71 L647.23,792.99 L650.78,793.27 L654.34,793.55 L657.89,793.82 L661.44,794.09 L665,794.36 L668.55,794.62 L672.1,794.88 L675.65,795.14 L679.21,795.4 L682.76,795.65 L686.31,795.91 L689.87,796.16 L693.42,796.4 L696.97,796.65 L700.53,796.89" stroke="#2a70d6" stroke-width="2" fill="none" stroke-linejoin="round" />
<path d="M135.6,566.1 L135.78,575.34 L135.95,583.15 L136.13,589.8 L136.31,595.51 L136.49,600.45 L136.66,604.76 L136.84,608.56 L137.02,611.93 L137.2,614.97 L137.38,617.72 L137.55,620.23 L137.73,622.55 L137.91,624.71 L138.09,626.73 L138.26,628.63 L138.44,630.43 L138.62,632.15 L138.8,633.8 L138.97,635.38 L139.15,636.91 L139.33,638.39 L139.51,639.82 L139.68,641.21 L139.86,642.57 L140.04,643.89 L140.22,645.17 L140.4,646.43 L140.57,647.66 L140.75,648.87 L140.93,650.05 L141.11,651.2 L141.28,652.33 L141.46,653.44 L141.64,654.53 L141.82,655.6 L141.99,656.64 L142.17,657.67 L142.35,658.68 L142.53,659.67 L142.7,660.64 L142.88,661.59 L143.06,662.53 L143.24,663.45 L143.42,664.35 L143.59,665.24 L143.77,666.11 L143.95,666.96 L144.13,667.8 L144.3,668.62 L144.48,669.43 L144.66,670.23 L144.84,671.01 L145.01,671.78 L145.19,672.53 L145.37,673.27 L145.55,674 L145.72,674.72 L145.9,675.42 L146.08,676.11 L146.26,676.79 L149.81,688.19 L153.36,696.39 L156.92,702.45 L160.47,707.06 L164.02,710.7 L167.58,713.67 L171.13,716.19 L174.68,718.39 L178.23,720.39 L181.79,722.22 L185.34,723.95 L188.89,725.6 L192.45,727.19 L196,728.73 L199.55,730.24 L203.11,731.71 L206.66,733.15 L210.21,734.56 L213.76,735.95 L217.32,737.32 L220.87,738.67 L224.42,740 L227.98,741.3 L231.53,742.59 L235.08,743.86 L238.64,745.11 L242.19,746.35 L245.74,747.56 L249.29,748.76 L252.85,749.94 L256.4,751.1 L259.95,752.25 L263.51,753.38 L267.06,754.49 L270.61,755.59 L274.17,756.67 L277.72,757.74 L281.27,758.79 L284.82,759.82 L288.38,760.84 L291.93,761.85 L295.48,762.84 L299.04,763.82 L302.59,764.78 L306.14,765.73 L309.7,766.67 L313.25,767.59 L316.8,768.5 L320.35,769.4 L323.91,770.28 L327.46,771.15 L331.01,772.01 L334.57,772.85 L338.12,773.69 L341.67,774.51 L345.23,775.32 L348.78,776.12 L352.33,776.9 L355.88,777.68 L359.44,778.44 L362.99,779.2 L366.54,779.94 L370.1,780.67 L373.65,781.39 L377.2,782.1 L380.76,782.8 L384.31,783.49 L387.86,784.17 L391.41,784.84 L394.97,785.51 L398.52,786.16 L402.07,786.8 L405.63,787.43 L409.18,788.06 L412.73,788.67 L416.29,789.28 L419.84,789.87 L423.39,790.46 L426.94,791.04 L430.5,791.61 L434.05,792.18 L437.6,792.73 L441.16,793.28 L444.71,793.82 L448.26,794.35 L451.82,794.88 L455.37,795.39 L458.92,795.9 L462.47,796.41 L466.03,796.9 L469.58,797.39 L473.13,797.87 L476.69,798.34 L480.24,798.81 L483.79,799.27 L487.35,799.72 L490.9,800.17 L494.45,800.61 L498,801.04 L501.56,801.47 L505.11,801.89 L508.66,802.31 L512.22,802.72 L515.77,803.12 L519.32,803.52 L522.88,803.91 L526.43,804.3 L529.98,804.68 L533.53,805.06 L537.09,805.43 L540.64,805.79 L544.19,806.15 L547.75,806.51 L551.3,806.86 L554.85,807.2 L558.41,807.54 L561.96,807.88 L565.51,808.2 L569.06,808.53 L572.62,808.85 L576.17,809.17 L579.72,809.48 L583.28,809.78 L586.83,810.09 L590.38,810.38 L593.94,810.68 L597.49,810.97 L601.04,811.25 L604.59,811.53 L608.15,811.81 L611.7,812.08 L615.25,812.35 L618.81,812.62 L622.36,812.88 L625.91,813.14 L629.47,813.39 L633.02,813.64 L636.57,813.89 L640.12,814.13 L643.68,814.37 L647.23,814.61 L650.78,814.84 L654.34,815.07 L657.89,815.3 L661.44,815.52 L665,815.74 L668.55,815.96 L672.1,816.17 L675.65,816.38 L679.21,816.59 L682.76,816.79 L686.31,816.99 L689.87,817.19 L693.42,817.39 L696.97,817.58 L700.53,817.77" stroke="#166a44" stroke-width="2" fill="none" stroke-linejoin="round" />
<path d="M135.6,554.49 L135.78,561.33 L135.95,567.67 L136.13,573.54 L136.31,578.99 L136.49,584.04 L136.66,588.71 L136.84,593.05 L137.02,597.07 L137.2,600.8 L137.38,604.26 L137.55,607.47 L137.73,610.44 L137.91,613.21 L138.09,615.77 L138.26,618.15 L138.44,620.36 L138.62,622.41 L138.8,624.31 L138.97,626.08 L139.15,627.73 L139.33,629.26 L139.51,630.68 L139.68,632 L139.86,633.23 L140.04,634.38 L140.22,635.45 L140.4,636.44 L140.57,637.37 L140.75,638.23 L140.93,639.04 L141.11,639.79 L141.28,640.5 L141.46,641.16 L141.64,641.77 L141.82,642.35 L141.99,642.89 L142.17,643.4 L142.35,643.87 L142.53,644.32 L142.7,644.74 L142.88,645.13 L143.06,645.5 L143.24,645.85 L143.42,646.19 L143.59,646.5 L143.77,646.8 L143.95,647.08 L144.13,647.34 L144.3,647.59 L144.48,647.84 L144.66,648.06 L144.84,648.28 L145.01,648.49 L145.19,648.69 L145.37,648.88 L145.55,649.06 L145.72,649.24 L145.9,649.41 L146.08,649.57 L146.26,649.73 L149.81,652.14 L153.36,653.99 L156.92,655.69 L160.47,657.35 L164.02,658.98 L167.58,660.59 L171.13,662.17 L174.68,663.74 L178.23,665.28 L181.79,666.81 L185.34,668.32 L188.89,669.8 L192.45,671.27 L196,672.72 L199.55,674.15 L203.11,675.56 L206.66,676.95 L210.21,678.33 L213.76,679.69 L217.32,681.03 L220.87,682.35 L224.42,683.66 L227.98,684.95 L231.53,686.22 L235.08,687.48 L238.64,688.72 L242.19,689.95 L245.74,691.16 L249.29,692.36 L252.85,693.54 L256.4,694.71 L259.95,695.86 L263.51,697 L267.06,698.12 L270.61,699.24 L274.17,700.33 L277.72,701.42 L281.27,702.49 L284.82,703.55 L288.38,704.59 L291.93,705.62 L295.48,706.64 L299.04,707.65 L302.59,708.65 L306.14,709.63 L309.7,710.61 L313.25,711.57 L316.8,712.52 L320.35,713.45 L323.91,714.38 L327.46,715.3 L331.01,716.2 L334.57,717.1 L338.12,717.98 L341.67,718.86 L345.23,719.72 L348.78,720.58 L352.33,721.42 L355.88,722.26 L359.44,723.08 L362.99,723.9 L366.54,724.71 L370.1,725.51 L373.65,726.29 L377.2,727.07 L380.76,727.85 L384.31,728.61 L387.86,729.36 L391.41,730.11 L394.97,730.85 L398.52,731.58 L402.07,732.3 L405.63,733.01 L409.18,733.72 L412.73,734.41 L416.29,735.11 L419.84,735.79 L423.39,736.46 L426.94,737.13 L430.5,737.79 L434.05,738.45 L437.6,739.1 L441.16,739.74 L444.71,740.37 L448.26,741 L451.82,741.62 L455.37,742.23 L458.92,742.84 L462.47,743.44 L466.03,744.04 L469.58,744.63 L473.13,745.21 L476.69,745.79 L480.24,746.36 L483.79,746.92 L487.35,747.48 L490.9,748.04 L494.45,748.58 L498,749.13 L501.56,749.66 L505.11,750.2 L508.66,750.72 L512.22,751.24 L515.77,751.76 L519.32,752.27 L522.88,752.78 L526.43,753.28 L529.98,753.78 L533.53,754.27 L537.09,754.76 L540.64,755.24 L544.19,755.72 L547.75,756.19 L551.3,756.66 L554.85,757.12 L558.41,757.58 L561.96,758.04 L565.51,758.49 L569.06,758.94 L572.62,759.38 L576.17,759.82 L579.72,760.26 L583.28,760.69 L586.83,761.11 L590.38,761.54 L593.94,761.96 L597.49,762.37 L601.04,762.78 L604.59,763.19 L608.15,763.6 L611.7,764 L615.25,764.39 L618.81,764.79 L622.36,765.18 L625.91,765.57 L629.47,765.95 L633.02,766.33 L636.57,766.71 L640.12,767.08 L643.68,767.45 L647.23,767.82 L650.78,768.18 L654.34,768.54 L657.89,768.9 L661.44,769.26 L665,769.61 L668.55,769.96 L672.1,770.3 L675.65,770.65 L679.21,770.99 L682.76,771.33 L686.31,771.66 L689.87,771.99 L693.42,772.32 L696.97,772.65 L700.53,772.97" stroke="#ff1a1a" stroke-width="2.6" fill="none" stroke-linejoin="round" />
</g>
<rect x="99.7" y="517" width="604.3" height="341" fill="none" stroke="#000" stroke-width="2"/>
<line x1="98.7" y1="830.8" x2="89.7" y2="830.8" stroke="#000" stroke-width="2" />
<line x1="98.7" y1="773.88" x2="89.7" y2="773.88" stroke="#000" stroke-width="2" />
<line x1="98.7" y1="716.96" x2="89.7" y2="716.96" stroke="#000" stroke-width="2" />
<line x1="98.7" y1="660.04" x2="89.7" y2="660.04" stroke="#000" stroke-width="2" />
<line x1="98.7" y1="603.12" x2="89.7" y2="603.12" stroke="#000" stroke-width="2" />
<line x1="98.7" y1="546.2" x2="89.7" y2="546.2" stroke="#000" stroke-width="2" />
<line x1="98.7" y1="859.26" x2="93.7" y2="859.26" stroke="#000" stroke-width="2" />
<line x1="98.7" y1="802.34" x2="93.7" y2="802.34" stroke="#000" stroke-width="2" />
<line x1="98.7" y1="745.42" x2="93.7" y2="745.42" stroke="#000" stroke-width="2" />
<line x1="98.7" y1="688.5" x2="93.7" y2="688.5" stroke="#000" stroke-width="2" />
<line x1="98.7" y1="631.58" x2="93.7" y2="631.58" stroke="#000" stroke-width="2" />
<line x1="98.7" y1="574.66" x2="93.7" y2="574.66" stroke="#000" stroke-width="2" />
<line x1="98.7" y1="517.74" x2="93.7" y2="517.74" stroke="#000" stroke-width="2" />
<line x1="134" y1="859" x2="134" y2="867" stroke="#000" stroke-width="2" />
<line x1="240.59" y1="859" x2="240.59" y2="867" stroke="#000" stroke-width="2" />
<line x1="347.18" y1="859" x2="347.18" y2="867" stroke="#000" stroke-width="2" />
<line x1="453.77" y1="859" x2="453.77" y2="867" stroke="#000" stroke-width="2" />
<line x1="560.36" y1="859" x2="560.36" y2="867" stroke="#000" stroke-width="2" />
<line x1="666.95" y1="859" x2="666.95" y2="867" stroke="#000" stroke-width="2" />
<line x1="187.3" y1="859" x2="187.3" y2="864" stroke="#000" stroke-width="2" />
<line x1="293.88" y1="859" x2="293.88" y2="864" stroke="#000" stroke-width="2" />
<line x1="400.48" y1="859" x2="400.48" y2="864" stroke="#000" stroke-width="2" />
<line x1="507.06" y1="859" x2="507.06" y2="864" stroke="#000" stroke-width="2" />
<line x1="613.65" y1="859" x2="613.65" y2="864" stroke="#000" stroke-width="2" />
<ellipse cx="558.6" cy="546.7" rx="9.6" ry="10" fill="#7030a0"/>
<text transform="translate(579.82,556.3) scale(1.1021,1)" font-family="Liberation Sans, sans-serif" font-size="22.5" fill="#000" >Pristine</text>
<ellipse cx="558.6" cy="588.1" rx="9.6" ry="10" fill="#e0205e"/>
<text transform="translate(578.26,594.8) scale(1.1063,1)" font-family="Liberation Sans, sans-serif" font-size="22.5" fill="#000" >2 min</text>
<ellipse cx="558.6" cy="628.8" rx="9.6" ry="10" fill="#1f80e8"/>
<text transform="translate(580.51,636.4) scale(1.1016,1)" font-family="Liberation Sans, sans-serif" font-size="22.5" fill="#000" >3 min</text>
<ellipse cx="558.6" cy="673.7" rx="9.6" ry="10" fill="#1f8a48"/>
<text transform="translate(583.72,682.6) scale(1.0940,1)" font-family="Liberation Sans, sans-serif" font-size="22.5" fill="#000" >5 min</text>
<text transform="translate(19.84,501.5) scale(1.1386,1)" font-family="Liberation Sans, sans-serif" font-size="32" font-weight="bold" fill="#000" >d</text>
<text transform="translate(44.68,838.32) scale(1.0800,1)" font-family="Liberation Sans, sans-serif" font-size="25.5" fill="#000" >0.0</text>
<text transform="translate(45.1,781.4) scale(1.0800,1)" font-family="Liberation Sans, sans-serif" font-size="25.5" fill="#000" >0.2</text>
<text transform="translate(44.55,724.48) scale(1.0800,1)" font-family="Liberation Sans, sans-serif" font-size="25.5" fill="#000" >0.4</text>
<text transform="translate(44.82,667.56) scale(1.0800,1)" font-family="Liberation Sans, sans-serif" font-size="25.5" fill="#000" >0.6</text>
<text transform="translate(44.82,610.64) scale(1.0800,1)" font-family="Liberation Sans, sans-serif" font-size="25.5" fill="#000" >0.8</text>
<text transform="translate(44.68,553.72) scale(1.0800,1)" font-family="Liberation Sans, sans-serif" font-size="25.5" fill="#000" >1.0</text>
<text transform="translate(126.29,896.5) scale(1.0800,1)" font-family="Liberation Sans, sans-serif" font-size="25.5" fill="#000" >0</text>
<text transform="translate(225.24,896.5) scale(1.0800,1)" font-family="Liberation Sans, sans-serif" font-size="25.5" fill="#000" >30</text>
<text transform="translate(331.69,896.5) scale(1.0800,1)" font-family="Liberation Sans, sans-serif" font-size="25.5" fill="#000" >60</text>
<text transform="translate(438.35,896.5) scale(1.0800,1)" font-family="Liberation Sans, sans-serif" font-size="25.5" fill="#000" >90</text>
<text transform="translate(536.88,896.5) scale(1.0800,1)" font-family="Liberation Sans, sans-serif" font-size="25.5" fill="#000" >120</text>
<text transform="translate(643.47,896.5) scale(1.0800,1)" font-family="Liberation Sans, sans-serif" font-size="25.5" fill="#000" >150</text>
<text transform="translate(287.98,936.2) scale(0.9997,1)" font-family="Liberation Sans, sans-serif" font-size="31.5" fill="#000" >Delay time (ps)</text>
<text transform="translate(25.3,798.91) rotate(-90) scale(0.9976,1)" font-family="Liberation Sans, sans-serif" font-size="31.5" fill="#000" >Normalized</text>
<path d="M23.6,608.3 L7.2,616 L23.6,623.7 Z" fill="none" stroke="#222" stroke-width="1.3" stroke-linejoin="miter"/>
<text transform="translate(25.3,595.77) rotate(-90) scale(0.9002,1)" font-family="Liberation Sans, sans-serif" font-size="31.5" fill="#000" >T/T</text>
<text transform="translate(29.4,553.05) rotate(-90) scale(1.1029,1)" font-family="Liberation Sans, sans-serif" font-size="17" fill="#000" >0</text>
<path d="M1090.36,671 L1091.37,672.62 L1092.38,674.16 L1093.39,675.62 L1094.4,677.01 L1095.41,678.31 L1096.42,679.52 L1097.42,680.65 L1098.43,681.68 L1099.44,682.62 L1100.45,683.45 L1101.46,684.16 L1102.47,684.76 L1103.48,685.21 L1104.49,685.5 L1105.5,685.6 L1106.51,685.5 L1107.52,685.21 L1108.53,684.76 L1109.54,684.16 L1110.55,683.45 L1111.56,682.62 L1112.57,681.68 L1113.58,680.65 L1114.58,679.52 L1115.59,678.31 L1116.6,677.01 L1117.61,675.62 L1118.62,674.16 L1119.63,672.62 L1120.64,671 Z" stroke="none" stroke-width="0" fill="#e8194a" stroke-linejoin="round" />
<path d="M1059.4,590.79 L1060.94,596.03 L1062.49,601.16 L1064.04,606.16 L1065.58,611.04 L1067.12,615.8 L1068.67,620.43 L1070.21,624.94 L1071.76,629.32 L1073.31,633.56 L1074.85,637.68 L1076.39,641.65 L1077.94,645.49 L1079.48,649.2 L1081.03,652.75 L1082.58,656.17 L1084.12,659.43 L1085.66,662.54 L1087.21,665.49 L1088.76,668.28 L1090.3,670.9 L1091.85,673.35 L1093.39,675.63 L1094.93,677.71 L1096.48,679.6 L1098.03,681.27 L1099.57,682.73 L1101.12,683.93 L1102.66,684.85 L1104.2,685.44 L1105.75,685.59 L1107.3,685.29 L1108.84,684.59 L1110.38,683.57 L1111.93,682.28 L1113.47,680.76 L1115.02,679.01 L1116.57,677.06 L1118.11,674.91 L1119.65,672.58 L1121.2,670.07 L1122.74,667.4 L1124.29,664.55 L1125.84,661.55 L1127.38,658.39 L1128.92,655.08 L1130.47,651.62 L1132.02,648.01 L1133.56,644.27 L1135.11,640.38 L1136.65,636.36 L1138.19,632.2 L1139.74,627.91 L1141.29,623.49 L1142.83,618.95 L1144.38,614.27 L1145.92,609.48 L1147.46,604.56 L1149.01,599.51 L1150.56,594.35 L1152.1,589.07" stroke="#000" stroke-width="1.8" fill="none" stroke-linejoin="round" />
<path d="M1057,596.24 L1058.6,601.11 L1060.21,605.87 L1061.81,610.53 L1063.41,615.07 L1065.02,619.5 L1066.62,623.81 L1068.22,628.01 L1069.83,632.09 L1071.43,636.05 L1073.03,639.89 L1074.64,643.61 L1076.24,647.2 L1077.84,650.66 L1079.45,653.99 L1081.05,657.19 L1082.65,660.25 L1084.26,663.18 L1085.86,665.96 L1087.46,668.59 L1089.07,671.07 L1090.67,673.39 L1092.27,675.56 L1093.88,677.55 L1095.48,679.36 L1097.08,680.99 L1098.69,682.42 L1100.29,683.63 L1101.89,684.59 L1103.5,685.27 L1105.1,685.59 L1106.7,685.48 L1108.31,684.97 L1109.91,684.14 L1111.51,683.05 L1113.12,681.73 L1114.72,680.2 L1116.32,678.48 L1117.93,676.57 L1119.53,674.49 L1121.13,672.25 L1122.74,669.85 L1124.34,667.29 L1125.94,664.58 L1127.55,661.73 L1129.15,658.74 L1130.75,655.61 L1132.36,652.34 L1133.96,648.94 L1135.56,645.42 L1137.17,641.76 L1138.77,637.98 L1140.37,634.08 L1141.98,630.06 L1143.58,625.92 L1145.18,621.67 L1146.79,617.29 L1148.39,612.81 L1149.99,608.21 L1151.6,603.5 L1153.2,598.68" stroke="#000" stroke-width="1.8" fill="none" stroke-linejoin="round" />
<path d="M1061.58,763.4 L1062.78,761.48 L1063.98,759.66 L1065.18,757.92 L1066.39,756.29 L1067.59,754.75 L1068.79,753.31 L1069.99,751.98 L1071.19,750.76 L1072.39,749.65 L1073.59,748.67 L1074.79,747.82 L1076,747.12 L1077.2,746.57 L1078.4,746.22 L1079.6,746.1 L1080.8,746.22 L1082,746.57 L1083.2,747.12 L1084.41,747.82 L1085.61,748.67 L1086.81,749.65 L1088.01,750.76 L1089.21,751.98 L1090.41,753.31 L1091.61,754.75 L1092.81,756.29 L1094.02,757.92 L1095.22,759.66 L1096.42,761.48 L1097.62,763.4 Z" stroke="none" stroke-width="0" fill="#1f63a6" stroke-linejoin="round" />
<path d="M1032,835.14 L1033.56,830.31 L1035.11,825.58 L1036.67,820.97 L1038.23,816.47 L1039.78,812.08 L1041.34,807.8 L1042.9,803.64 L1044.45,799.6 L1046.01,795.67 L1047.57,791.87 L1049.12,788.18 L1050.68,784.63 L1052.24,781.19 L1053.79,777.89 L1055.35,774.72 L1056.91,771.68 L1058.46,768.78 L1060.02,766.02 L1061.58,763.41 L1063.13,760.94 L1064.69,758.63 L1066.25,756.47 L1067.8,754.48 L1069.36,752.66 L1070.92,751.03 L1072.47,749.58 L1074.03,748.35 L1075.59,747.34 L1077.14,746.59 L1078.7,746.17 L1080.26,746.14 L1081.81,746.51 L1083.37,747.2 L1084.93,748.17 L1086.48,749.38 L1088.04,750.79 L1089.6,752.4 L1091.15,754.19 L1092.71,756.15 L1094.27,758.28 L1095.82,760.57 L1097.38,763.01 L1098.94,765.6 L1100.49,768.34 L1102.05,771.22 L1103.61,774.24 L1105.16,777.39 L1106.72,780.67 L1108.28,784.08 L1109.83,787.62 L1111.39,791.28 L1112.95,795.07 L1114.5,798.98 L1116.06,803 L1117.62,807.14 L1119.17,811.4 L1120.73,815.77 L1122.29,820.26 L1123.84,824.86 L1125.4,829.56" stroke="#000" stroke-width="1.8" fill="none" stroke-linejoin="round" />
<text x="1099.2" y="665.2" font-family="Liberation Serif, serif" font-weight="bold" font-size="26" fill="#e8194a">e</text>
<line x1="1110.8" y1="653.5" x2="1115.3" y2="653.5" stroke="#e8194a" stroke-width="1.9" />
<text x="1075.2" y="786.6" font-family="Liberation Serif, serif" font-weight="bold" font-size="26" fill="#1f63a6">h</text>
<line x1="1088.6" y1="773.9" x2="1097.8" y2="773.9" stroke="#1f63a6" stroke-width="1.4" />
<line x1="1093.2" y1="769.6" x2="1093.2" y2="778.2" stroke="#1f63a6" stroke-width="1.4" />
<line x1="1085.7" y1="713" x2="1128.2" y2="713" stroke="#222" stroke-width="1.2" stroke-dasharray="2.5 1.5"/>
<circle cx="1090" cy="713" r="2.6" fill="#fff" stroke="#5a7fb0" stroke-width="0.9"/>
<circle cx="1102.3" cy="713" r="3" fill="#e8194a"/>
<circle cx="1111.6" cy="713" r="2.6" fill="#fff" stroke="#5a7fb0" stroke-width="0.9"/>
<circle cx="1122.2" cy="713" r="3" fill="#e8194a"/>
<line x1="1104.2" y1="686" x2="1104.2" y2="702.5" stroke="#e8194a" stroke-width="2" />
<path d="M1104.2,709.5 L1100.6,702.5 L1107.8,702.5 Z" stroke="none" stroke-width="0" fill="#e8194a" stroke-linejoin="round" />
<line x1="1081.5" y1="745" x2="1089.11" y2="724.08" stroke="#1f63a6" stroke-width="2" />
<path d="M1091.5,717.5 L1092.49,725.31 L1085.72,722.85 Z" stroke="none" stroke-width="0" fill="#1f63a6" stroke-linejoin="round" />
<path d="M1404.38,681.3 L1405.18,682.39 L1405.97,683.44 L1406.77,684.43 L1407.56,685.36 L1408.36,686.24 L1409.15,687.06 L1409.95,687.82 L1410.74,688.51 L1411.53,689.14 L1412.33,689.69 L1413.12,690.17 L1413.92,690.56 L1414.71,690.85 L1415.51,691.04 L1416.3,691.1 L1417.09,691.04 L1417.89,690.85 L1418.68,690.56 L1419.48,690.17 L1420.27,689.69 L1421.07,689.14 L1421.86,688.51 L1422.65,687.82 L1423.45,687.06 L1424.24,686.24 L1425.04,685.36 L1425.83,684.43 L1426.63,683.44 L1427.42,682.39 L1428.22,681.3 Z" stroke="none" stroke-width="0" fill="#e8194a" stroke-linejoin="round" />
<path d="M1369.8,593.93 L1371.35,599.28 L1372.91,604.52 L1374.46,609.63 L1376.01,614.61 L1377.57,619.48 L1379.12,624.21 L1380.67,628.82 L1382.23,633.29 L1383.78,637.63 L1385.33,641.84 L1386.89,645.91 L1388.44,649.84 L1389.99,653.63 L1391.55,657.27 L1393.1,660.76 L1394.65,664.1 L1396.21,667.29 L1397.76,670.31 L1399.31,673.17 L1400.87,675.86 L1402.42,678.38 L1403.97,680.71 L1405.53,682.86 L1407.08,684.8 L1408.63,686.53 L1410.19,688.04 L1411.74,689.29 L1413.29,690.26 L1414.85,690.89 L1416.4,691.1 L1417.95,690.83 L1419.51,690.15 L1421.06,689.14 L1422.61,687.86 L1424.17,686.32 L1425.72,684.56 L1427.27,682.59 L1428.83,680.42 L1430.38,678.07 L1431.93,675.53 L1433.49,672.81 L1435.04,669.93 L1436.59,666.88 L1438.15,663.68 L1439.7,660.32 L1441.25,656.81 L1442.81,653.15 L1444.36,649.34 L1445.91,645.39 L1447.47,641.31 L1449.02,637.08 L1450.57,632.72 L1452.13,628.23 L1453.68,623.61 L1455.23,618.86 L1456.79,613.98 L1458.34,608.98 L1459.89,603.85 L1461.45,598.6 L1463,593.23" stroke="#000" stroke-width="1.8" fill="none" stroke-linejoin="round" />
<path d="M1367.3,601.09 L1368.92,605.99 L1370.53,610.77 L1372.15,615.45 L1373.77,620.02 L1375.38,624.47 L1377,628.81 L1378.62,633.03 L1380.23,637.14 L1381.85,641.12 L1383.47,644.98 L1385.08,648.72 L1386.7,652.33 L1388.32,655.82 L1389.93,659.17 L1391.55,662.39 L1393.17,665.47 L1394.78,668.41 L1396.4,671.21 L1398.02,673.86 L1399.63,676.36 L1401.25,678.71 L1402.87,680.89 L1404.48,682.9 L1406.1,684.73 L1407.72,686.38 L1409.33,687.82 L1410.95,689.05 L1412.57,690.03 L1414.18,690.73 L1415.8,691.08 L1417.42,690.99 L1419.03,690.5 L1420.65,689.69 L1422.27,688.61 L1423.88,687.3 L1425.5,685.77 L1427.12,684.05 L1428.73,682.15 L1430.35,680.08 L1431.97,677.83 L1433.58,675.43 L1435.2,672.87 L1436.82,670.16 L1438.43,667.31 L1440.05,664.31 L1441.67,661.18 L1443.28,657.91 L1444.9,654.5 L1446.52,650.97 L1448.13,647.31 L1449.75,643.52 L1451.37,639.62 L1452.98,635.59 L1454.6,631.44 L1456.22,627.17 L1457.83,622.79 L1459.45,618.29 L1461.07,613.68 L1462.68,608.96 L1464.3,604.13" stroke="#000" stroke-width="1.8" fill="none" stroke-linejoin="round" />
<path d="M1377.63,755.2 L1378.63,753.81 L1379.64,752.48 L1380.64,751.23 L1381.65,750.04 L1382.65,748.92 L1383.66,747.88 L1384.66,746.92 L1385.67,746.03 L1386.67,745.24 L1387.68,744.53 L1388.68,743.92 L1389.69,743.41 L1390.69,743.03 L1391.7,742.79 L1392.7,742.7 L1393.7,742.79 L1394.71,743.03 L1395.71,743.41 L1396.72,743.92 L1397.72,744.53 L1398.73,745.24 L1399.73,746.03 L1400.74,746.92 L1401.74,747.88 L1402.75,748.92 L1403.75,750.04 L1404.76,751.23 L1405.76,752.48 L1406.77,753.81 L1407.77,755.2 Z" stroke="none" stroke-width="0" fill="#1f63a6" stroke-linejoin="round" />
<path d="M1343.8,833.94 L1345.41,828.97 L1347.01,824.11 L1348.62,819.36 L1350.23,814.73 L1351.83,810.21 L1353.44,805.81 L1355.05,801.53 L1356.65,797.38 L1358.26,793.34 L1359.87,789.43 L1361.47,785.64 L1363.08,781.99 L1364.69,778.46 L1366.29,775.07 L1367.9,771.81 L1369.51,768.7 L1371.11,765.72 L1372.72,762.89 L1374.33,760.22 L1375.93,757.69 L1377.54,755.32 L1379.15,753.12 L1380.75,751.09 L1382.36,749.24 L1383.97,747.57 L1385.57,746.11 L1387.18,744.87 L1388.79,743.86 L1390.39,743.13 L1392,742.74 L1393.61,742.77 L1395.21,743.21 L1396.82,743.97 L1398.43,745.01 L1400.03,746.29 L1401.64,747.78 L1403.25,749.47 L1404.85,751.34 L1406.46,753.4 L1408.07,755.62 L1409.67,758.01 L1411.28,760.55 L1412.89,763.25 L1414.49,766.1 L1416.1,769.09 L1417.71,772.23 L1419.31,775.5 L1420.92,778.91 L1422.53,782.45 L1424.13,786.12 L1425.74,789.92 L1427.35,793.85 L1428.95,797.9 L1430.56,802.08 L1432.17,806.37 L1433.77,810.79 L1435.38,815.32 L1436.99,819.97 L1438.59,824.73 L1440.2,829.6" stroke="#000" stroke-width="1.8" fill="none" stroke-linejoin="round" />
<text x="1406.6" y="665.6" font-family="Liberation Serif, serif" font-weight="bold" font-size="26" fill="#e8194a">e</text>
<line x1="1418.3" y1="654.5" x2="1422" y2="654.5" stroke="#e8194a" stroke-width="1.9" />
<text x="1389.4" y="778.3" font-family="Liberation Serif, serif" font-weight="bold" font-size="26" fill="#1f63a6">h</text>
<line x1="1403.6" y1="766.3" x2="1411" y2="766.3" stroke="#1f63a6" stroke-width="1.4" />
<line x1="1407.3" y1="762.6" x2="1407.3" y2="770" stroke="#1f63a6" stroke-width="1.4" />
<line x1="1396.6" y1="718" x2="1438.8" y2="718" stroke="#222" stroke-width="1.2" stroke-dasharray="2.5 1.5"/>
<circle cx="1401.6" cy="718" r="2.6" fill="#fff" stroke="#5a7fb0" stroke-width="0.9"/>
<circle cx="1413" cy="718" r="3" fill="#e8194a"/>
<circle cx="1422.4" cy="718" r="2.6" fill="#fff" stroke="#5a7fb0" stroke-width="0.9"/>
<circle cx="1432.8" cy="718" r="3" fill="#e8194a"/>
<line x1="1401.8" y1="686" x2="1401.8" y2="706.5" stroke="#e8194a" stroke-width="2" />
<path d="M1401.8,713.5 L1398.2,706.5 L1405.4,706.5 Z" stroke="none" stroke-width="0" fill="#e8194a" stroke-linejoin="round" />
<line x1="1399.6" y1="745" x2="1407.74" y2="728.29" stroke="#1f63a6" stroke-width="2" />
<path d="M1410.8,722 L1410.97,729.87 L1404.5,726.72 Z" stroke="none" stroke-width="0" fill="#1f63a6" stroke-linejoin="round" />
<line x1="1426.5" y1="674" x2="1426.5" y2="663.5" stroke="#e8194a" stroke-width="2.2" />
<path d="M1426.5,656.5 L1429.7,663.5 L1423.3,663.5 Z" stroke="none" stroke-width="0" fill="#e8194a" stroke-linejoin="round" />
<line x1="1050.2" y1="751.2" x2="1050.2" y2="648.3" stroke="#1d62a6" stroke-width="3" />
<path d="M1050.2,638.3 L1055.2,648.3 L1045.2,648.3 Z" stroke="none" stroke-width="0" fill="#1d62a6" stroke-linejoin="round" />
<clipPath id="ce"><rect x="888.5" y="517.8" width="603" height="340.6"/></clipPath><g clip-path="url(#ce)">
<path d="M909,751 L911,757.5 L913.5,764.5 L916,771.5 L918.5,777.5 L921.5,783 L925,788 L929,792 L934,797 L940,800.5 L944,802.5 L944.7,803.7 L945.75,803.59 L946.79,804.66 L947.83,803.54 L948.87,804.34 L949.91,804.31 L950.95,804.14 L951.99,804.92 L953.03,805.3 L954.07,805.88 L955.12,806.03 L956.16,805.62 L957.2,804.63 L958.24,804.77 L959.28,804.58 L960.32,804.71 L961.36,803.81 L962.4,803.94 L963.44,803.53 L964.48,803.13 L965.52,803.54 L966.57,803.32 L967.61,804.23 L968.65,804.16 L969.69,804.27 L970.73,805.33 L971.77,805.9 L972.81,806.47 L973.85,806.83 L974.89,807.37 L975.94,807.68 L976.98,808.79 L978.02,809.33 L979.06,809.94 L980.1,810.62 L981.14,811.17 L982.18,811.12 L983.22,811.6 L984.26,811.93 L985.3,812.13 L986.35,812.35 L987.39,813.1 L988.43,813.12 L989.47,812.82 L990.51,814.3 L991.55,814.16 L992.59,814.24 L993.63,815.13 L994.67,815.08 L995.71,815.53 L996.76,815.22 L997.8,815.4 L998.84,815.16 L999.88,814.74 L1000.92,815.05 L1001.96,814.93 L1003,815.75 L1004.04,817.26 L1005.08,816.54 L1006.12,817.21 L1007.17,817.68 L1008.21,817.31 L1009.25,817.21 L1010.29,816.65 L1011.33,816.94 L1012.37,816.89 L1013.41,817.7 L1014.45,818.35 L1015.49,819.33 L1016.53,819.64 L1017.58,819.67 L1018.62,819.48 L1019.66,820.21 L1020.7,820.08 L1021.74,820.47 L1022.78,820.69 L1023.82,821.73 L1024.86,822.68 L1025.9,823.26 L1026.94,824.11 L1027.99,824.13 L1029.03,824.73 L1030.07,824.05 L1031.11,824.64 L1032.15,824.81 L1033.19,824.7 L1034.23,824.92 L1035.27,825.13 L1036.31,825.28 L1037.35,825.91 L1038.4,825.8 L1039.44,825.44 L1040.48,825.66 L1041.52,825.04 L1042.56,825.95 L1043.6,825.9 L1044.64,826.55 L1045.68,827.01 L1046.72,827.82 L1047.76,827.93 L1048.81,828.04 L1049.85,828.49 L1050.89,829.19 L1051.93,828.8 L1052.97,828.82 L1054.01,829.52 L1055.05,829.44 L1056.09,830.2 L1057.13,829.81 L1058.17,829.43 L1059.22,829.07 L1060.26,827.41 L1061.3,826.57 L1062.34,826.94 L1063.38,826.35 L1064.42,826.42 L1065.46,826.24 L1066.5,826.34 L1067.54,826.41 L1068.58,826.2 L1069.63,826.02 L1070.67,825.91 L1071.71,825.96 L1072.75,826.83 L1073.79,827.7 L1074.83,828.66 L1075.87,829.37 L1076.91,829.05 L1077.95,829.72 L1078.99,829.81 L1080.04,829.83 L1081.08,830.16 L1082.12,830.58 L1083.16,830.68 L1084.2,831.05 L1085.24,831.35 L1086.28,831.93 L1087.32,831.93 L1088.36,832.51 L1089.4,833.02 L1090.45,831.95 L1091.49,832.23 L1092.53,832.99 L1093.57,833.02 L1094.61,833.02 L1095.65,832.91 L1096.69,833.38 L1097.73,834.02 L1098.77,834.57 L1099.81,834.9 L1100.86,835.17 L1101.9,835.59 L1102.94,834.68 L1103.98,834.98 L1105.02,836.14 L1106.06,836.37 L1107.1,836.2 L1108.14,836.33 L1109.18,835.64 L1110.22,836.58 L1111.27,836.62 L1112.31,836.39 L1113.35,836.2 L1114.39,836.28 L1115.43,835.55 L1116.47,835.55 L1117.51,836.04 L1118.55,835.85 L1119.59,835.68 L1120.63,835.68 L1121.68,835.98 L1122.72,836.6 L1123.76,837.91 L1124.8,837.58 L1125.84,837.15 L1126.88,837.61 L1127.92,838.45 L1128.96,838.03 L1130,839.01 L1131.04,838.37 L1132.09,838.49 L1133.13,838.86 L1134.17,838.84 L1135.21,838.66 L1136.25,838.42 L1137.29,838.3 L1138.33,837.99 L1139.37,838.42 L1140.41,838.4 L1141.45,838.67 L1142.5,838.09 L1143.54,838.59 L1144.58,838.29 L1145.62,839.01 L1146.66,839.64 L1147.7,840.19 L1148.74,840.81 L1149.78,841.3 L1150.82,840.95 L1151.86,840.58 L1152.91,840.96 L1153.95,840.76 L1154.99,841.33 L1156.03,841.12 L1157.07,841.63 L1158.11,841.51 L1159.15,841.37 L1160.19,842.02 L1161.23,842.05 L1162.27,841.49 L1163.32,842.05 L1164.36,842.15 L1165.4,842.7 L1166.44,842.55 L1167.48,843.01 L1168.52,843.2 L1169.56,843.7 L1170.6,844.05 L1171.64,844.03 L1172.68,844.62 L1173.73,845.43 L1174.77,845.09 L1175.81,844.84 L1176.85,845.12 L1177.89,845.03 L1178.93,845.62 L1179.97,846.41 L1181.01,847.05 L1182.05,847.26 L1183.09,847.12 L1184.14,847.04 L1185.18,846.93 L1186.22,847.55 L1187.26,847.77 L1188.3,847.32 L1189.34,847.65 L1190.38,847.9 L1191.42,847.85 L1192.46,847.58 L1193.5,847.05 L1194.55,847.41 L1195.59,847.57 L1196.63,847.56 L1197.67,847.47 L1198.71,847 L1199.75,846.99 L1200.79,846.45 L1201.83,846.59 L1202.87,846.49 L1203.91,846.56 L1204.96,847.02 L1206,846.9 L1207.04,847.38 L1208.08,847.45 L1209.12,846.74 L1210.16,846.89 L1211.2,847.22 L1212.24,847.46 L1213.28,847.95 L1214.32,848.42 L1215.37,848.17 L1216.41,847.98 L1217.45,848.11 L1218.49,847.78 L1219.53,847.59 L1220.57,848.21 L1221.61,848.84 L1222.65,849.69 L1223.69,850.09 L1224.73,850.01 L1225.78,849.43 L1226.82,849.79 L1227.86,849.08 L1228.9,849.37 L1229.94,849.62 L1230.98,849.37 L1232.02,849.59 L1233.06,850.19 L1234.1,850.46 L1235.14,850.19 L1236.19,849.58 L1237.23,849.19 L1238.27,848.52 L1239.31,848.7 L1240.35,848.89 L1241.39,848.41 L1242.43,849.59 L1243.47,848.6 L1244.51,848.96 L1245.55,849.03 L1246.6,848.98 L1247.64,848.52 L1248.68,848.4 L1249.72,848.17 L1250.76,848.03 L1251.8,848.61 L1252.84,848.77 L1253.88,848.76 L1254.92,849.02 L1255.96,849.39 L1257.01,849.24 L1258.05,849.59 L1259.09,849.79 L1260.13,850.21 L1261.17,850.22 L1262.21,850.97 L1263.25,850.76 L1264.29,851.13 L1265.33,850.94 L1266.37,850.32 L1267.42,850.57 L1268.46,850.68 L1269.5,850.88 L1270.54,850.68 L1271.58,850.46 L1272.62,851.12 L1273.66,851 L1274.7,851.16 L1275.74,852.04 L1276.78,851.73 L1277.83,851.96 L1278.87,852.09 L1279.91,853.02 L1280.95,853.56 L1281.99,853.4 L1283.03,853.57 L1284.07,852.88 L1285.11,853.71 L1286.15,854.09 L1287.19,853.68 L1288.24,853.53 L1289.28,852.84 L1290.32,852.6 L1291.36,852.48 L1292.4,852.25 L1293.44,852.53 L1294.48,851.74 L1295.52,851.22 L1296.56,851.23 L1297.6,850.6 L1298.65,851.76 L1299.69,851.32 L1300.73,850.97 L1301.77,851.29 L1302.81,850.36 L1303.85,850.9 L1304.89,850.62 L1305.93,850.31 L1306.97,850.53 L1308.01,849.6 L1309.06,849.8 L1310.1,850.26 L1311.14,849.75 L1312.18,849.72 L1313.22,848.88 L1314.26,848.96 L1315.3,848.88 L1316.34,848.74 L1317.38,849.89 L1318.42,849.51 L1319.47,849.53 L1320.51,849.49 L1321.55,848.72 L1322.59,848.67 L1323.63,849.07 L1324.67,848.81 L1325.71,850.25 L1326.75,850.32 L1327.79,850.32 L1328.83,850.51 L1329.88,850.74 L1330.92,850.85 L1331.96,850.88 L1333,851.17 L1334.04,850.5 L1335.08,850.66 L1336.12,851.96 L1337.16,853.05 L1338.2,853.21 L1339.24,853.11 L1340.29,852.45 L1341.33,852.69 L1342.37,852.99 L1343.41,852.94 L1344.45,853.18 L1345.49,853.64 L1346.53,853.37" stroke="#2e6ad4" stroke-width="13.5" fill="none" stroke-linejoin="round" />
<path d="M1345.49,853.64 L1346.53,853.37 L1347.57,853.86 L1348.61,854.2 L1349.65,854.92 L1350.7,854.25 L1351.74,854.02 L1352.78,853.65 L1353.82,854.42 L1354.86,854.5 L1355.9,854.66 L1356.94,854.18 L1357.98,854.28 L1359.02,853.88 L1360.06,853.17 L1361.11,853.47 L1362.15,853.47 L1363.19,853.73 L1364.23,853.61 L1365.27,854.37 L1366.31,853.93 L1367.35,854.36 L1368.39,854.56 L1369.43,854.4 L1370.47,854.79 L1371.52,854.76 L1372.56,854.81 L1373.6,855.01 L1374.64,855.31 L1375.68,855.05 L1376.72,854.59 L1377.76,854.7 L1378.8,854.28 L1379.84,853.52 L1380.88,853.97 L1381.93,853.18 L1382.97,852.45 L1384.01,852.82 L1385.05,851.89 L1386.09,852.42 L1387.13,852.09 L1388.17,851.85 L1389.21,851.32 L1390.25,851.36 L1391.29,851.41 L1392.34,851.68 L1393.38,851.52 L1394.42,852.08 L1395.46,851.9 L1396.5,852.51 L1397.54,852.93 L1398.58,852.4 L1399.62,853.53 L1400.66,854.21 L1401.7,854.35 L1402.75,854.95 L1403.79,855.39 L1404.83,855.74 L1405.87,855.98 L1406.91,855.76 L1407.95,856.47 L1408.99,856.48 L1410.03,856.81 L1411.07,857.15 L1412.11,857.22 L1413.16,857.92 L1414.2,857.4 L1415.24,857.37 L1416.28,858.01 L1417.32,857.18 L1418.36,856.91 L1419.4,856.78 L1420.44,857.2 L1421.48,857.82 L1422.52,857.54 L1423.57,857.37 L1424.61,857.65 L1425.65,856.77 L1426.69,856.65 L1427.73,856.35 L1428.77,856.68 L1429.81,856.07 L1430.85,855.27 L1431.89,855.66 L1432.93,856.04 L1433.98,856.22 L1435.02,855.78 L1436.06,855.64 L1437.1,855.5 L1438.14,854.85 L1439.18,854.3 L1440.22,854.39 L1441.26,853.84 L1442.3,853.97 L1443.34,853.7 L1444.39,853.68 L1445.43,853.92 L1446.47,853.88 L1447.51,853.98 L1448.55,853.71 L1449.59,853.85 L1450.63,853.26 L1451.67,853.61 L1452.71,854.19 L1453.75,854.8 L1454.8,855.87 L1455.84,857.13 L1456.88,857.52 L1457.92,857.75 L1458.96,858.06 L1460,858.24 L1461.04,858.34 L1462.08,858.18 L1463.12,858.34 L1464.16,858.17" stroke="#2e6ad4" stroke-width="11.5" fill="none" stroke-linejoin="round" />
<circle cx="944.5" cy="802.59" r="5.2" fill="#2e6ad4"/>
<circle cx="946.45" cy="802.52" r="5.2" fill="#2e6ad4"/>
<circle cx="949.22" cy="806.42" r="5.2" fill="#2e6ad4"/>
<circle cx="951.14" cy="803.29" r="5.2" fill="#2e6ad4"/>
<circle cx="952.93" cy="806.67" r="5.2" fill="#2e6ad4"/>
<circle cx="955.09" cy="805.55" r="5.2" fill="#2e6ad4"/>
<circle cx="957.48" cy="803.64" r="5.2" fill="#2e6ad4"/>
<circle cx="958.89" cy="804.13" r="5.2" fill="#2e6ad4"/>
<circle cx="961.74" cy="805.99" r="5.2" fill="#2e6ad4"/>
<circle cx="963.16" cy="804.77" r="5.2" fill="#2e6ad4"/>
<circle cx="965.13" cy="804.24" r="5.2" fill="#2e6ad4"/>
<circle cx="967.23" cy="802.99" r="5.2" fill="#2e6ad4"/>
<circle cx="969.97" cy="802.56" r="5.2" fill="#2e6ad4"/>
<circle cx="971.79" cy="805.2" r="5.2" fill="#2e6ad4"/>
<circle cx="974.34" cy="808" r="5.2" fill="#2e6ad4"/>
<circle cx="975.72" cy="809.81" r="5.2" fill="#2e6ad4"/>
<circle cx="978.15" cy="807.82" r="5.2" fill="#2e6ad4"/>
<circle cx="979.88" cy="811.99" r="5.2" fill="#2e6ad4"/>
<circle cx="982.64" cy="809.08" r="5.2" fill="#2e6ad4"/>
<circle cx="984.34" cy="810.61" r="5.2" fill="#2e6ad4"/>
<circle cx="986.55" cy="810.17" r="5.2" fill="#2e6ad4"/>
<circle cx="988.67" cy="813.28" r="5.2" fill="#2e6ad4"/>
<circle cx="990.65" cy="814.22" r="5.2" fill="#2e6ad4"/>
<circle cx="992.77" cy="815.71" r="5.2" fill="#2e6ad4"/>
<circle cx="994.25" cy="814.37" r="5.2" fill="#2e6ad4"/>
<circle cx="996.45" cy="815.04" r="5.2" fill="#2e6ad4"/>
<circle cx="998.94" cy="814.75" r="5.2" fill="#2e6ad4"/>
<circle cx="1001.2" cy="812.9" r="5.2" fill="#2e6ad4"/>
<circle cx="1002.66" cy="814.15" r="5.2" fill="#2e6ad4"/>
<circle cx="1004.67" cy="817" r="5.2" fill="#2e6ad4"/>
<circle cx="1007.35" cy="817.07" r="5.2" fill="#2e6ad4"/>
<circle cx="1009.45" cy="816.6" r="5.2" fill="#2e6ad4"/>
<circle cx="1011.42" cy="814.91" r="5.2" fill="#2e6ad4"/>
<circle cx="1013.26" cy="815.76" r="5.2" fill="#2e6ad4"/>
<circle cx="1015.75" cy="820.05" r="5.2" fill="#2e6ad4"/>
<circle cx="1017.93" cy="821.34" r="5.2" fill="#2e6ad4"/>
<circle cx="1019.71" cy="818.64" r="5.2" fill="#2e6ad4"/>
<circle cx="1021.54" cy="821.08" r="5.2" fill="#2e6ad4"/>
<circle cx="1024.01" cy="822.63" r="5.2" fill="#2e6ad4"/>
<circle cx="1025.5" cy="821.61" r="5.2" fill="#2e6ad4"/>
<circle cx="1028.21" cy="822.29" r="5.2" fill="#2e6ad4"/>
<circle cx="1030.08" cy="823.78" r="5.2" fill="#2e6ad4"/>
<circle cx="1032.47" cy="823" r="5.2" fill="#2e6ad4"/>
<circle cx="1034.47" cy="824.19" r="5.2" fill="#2e6ad4"/>
<circle cx="1036.49" cy="823.79" r="5.2" fill="#2e6ad4"/>
<circle cx="1038.51" cy="826.9" r="5.2" fill="#2e6ad4"/>
<circle cx="1040.67" cy="826.84" r="5.2" fill="#2e6ad4"/>
<circle cx="1042.67" cy="826.02" r="5.2" fill="#2e6ad4"/>
<circle cx="1044.81" cy="824.88" r="5.2" fill="#2e6ad4"/>
<circle cx="1046.89" cy="826.28" r="5.2" fill="#2e6ad4"/>
<circle cx="1048.77" cy="827.88" r="5.2" fill="#2e6ad4"/>
<circle cx="1050.5" cy="827.95" r="5.2" fill="#2e6ad4"/>
<circle cx="1053.19" cy="829.43" r="5.2" fill="#2e6ad4"/>
<circle cx="1055.03" cy="830.24" r="5.2" fill="#2e6ad4"/>
<circle cx="1057.02" cy="829.7" r="5.2" fill="#2e6ad4"/>
<circle cx="1059.14" cy="830.2" r="5.2" fill="#2e6ad4"/>
<circle cx="1060.86" cy="827.95" r="5.2" fill="#2e6ad4"/>
<circle cx="1062.89" cy="825.58" r="5.2" fill="#2e6ad4"/>
<circle cx="1065.93" cy="825.03" r="5.2" fill="#2e6ad4"/>
<circle cx="1067.4" cy="824.95" r="5.2" fill="#2e6ad4"/>
<circle cx="1069.97" cy="824.6" r="5.2" fill="#2e6ad4"/>
<circle cx="1071.6" cy="825.28" r="5.2" fill="#2e6ad4"/>
<circle cx="1073.5" cy="827.94" r="5.2" fill="#2e6ad4"/>
<circle cx="1075.73" cy="831.32" r="5.2" fill="#2e6ad4"/>
<circle cx="1077.91" cy="830.68" r="5.2" fill="#2e6ad4"/>
<circle cx="1079.56" cy="831.32" r="5.2" fill="#2e6ad4"/>
<circle cx="1082.21" cy="829.7" r="5.2" fill="#2e6ad4"/>
<circle cx="1084.25" cy="828.9" r="5.2" fill="#2e6ad4"/>
<circle cx="1085.94" cy="832.85" r="5.2" fill="#2e6ad4"/>
<circle cx="1088.33" cy="834.26" r="5.2" fill="#2e6ad4"/>
<circle cx="1090.66" cy="833.88" r="5.2" fill="#2e6ad4"/>
<circle cx="1092.88" cy="831.32" r="5.2" fill="#2e6ad4"/>
<circle cx="1094.96" cy="833.88" r="5.2" fill="#2e6ad4"/>
<circle cx="1096.37" cy="831.81" r="5.2" fill="#2e6ad4"/>
<circle cx="1098.58" cy="835.93" r="5.2" fill="#2e6ad4"/>
<circle cx="1100.74" cy="835.35" r="5.2" fill="#2e6ad4"/>
<circle cx="1102.94" cy="835.26" r="5.2" fill="#2e6ad4"/>
<circle cx="1104.95" cy="834.24" r="5.2" fill="#2e6ad4"/>
<circle cx="1107.56" cy="836.52" r="5.2" fill="#2e6ad4"/>
<circle cx="1108.72" cy="834.31" r="5.2" fill="#2e6ad4"/>
<circle cx="1111.71" cy="838.64" r="5.2" fill="#2e6ad4"/>
<circle cx="1113.36" cy="835.59" r="5.2" fill="#2e6ad4"/>
<circle cx="1115.37" cy="834.82" r="5.2" fill="#2e6ad4"/>
<circle cx="1117.51" cy="836.58" r="5.2" fill="#2e6ad4"/>
<circle cx="1119.23" cy="837.74" r="5.2" fill="#2e6ad4"/>
<circle cx="1121.39" cy="834.17" r="5.2" fill="#2e6ad4"/>
<circle cx="1123.88" cy="837.3" r="5.2" fill="#2e6ad4"/>
<circle cx="1126.09" cy="835.75" r="5.2" fill="#2e6ad4"/>
<circle cx="1127.97" cy="836.83" r="5.2" fill="#2e6ad4"/>
<circle cx="1130.34" cy="837.87" r="5.2" fill="#2e6ad4"/>
<circle cx="1132.55" cy="837.29" r="5.2" fill="#2e6ad4"/>
<circle cx="1134.26" cy="838.54" r="5.2" fill="#2e6ad4"/>
<circle cx="1136.71" cy="837.82" r="5.2" fill="#2e6ad4"/>
<circle cx="1138.42" cy="839.73" r="5.2" fill="#2e6ad4"/>
<circle cx="1140.01" cy="838.42" r="5.2" fill="#2e6ad4"/>
<circle cx="1142.87" cy="837.09" r="5.2" fill="#2e6ad4"/>
<circle cx="1144.21" cy="838.72" r="5.2" fill="#2e6ad4"/>
<circle cx="1146.99" cy="841.38" r="5.2" fill="#2e6ad4"/>
<circle cx="1148.74" cy="839.51" r="5.2" fill="#2e6ad4"/>
<circle cx="1150.34" cy="840.5" r="5.2" fill="#2e6ad4"/>
<circle cx="1152.55" cy="841.41" r="5.2" fill="#2e6ad4"/>
<circle cx="1155.19" cy="842.18" r="5.2" fill="#2e6ad4"/>
<circle cx="1156.79" cy="843.79" r="5.2" fill="#2e6ad4"/>
<circle cx="1159.44" cy="842.04" r="5.2" fill="#2e6ad4"/>
<circle cx="1161.55" cy="844.06" r="5.2" fill="#2e6ad4"/>
<circle cx="1163.17" cy="843.37" r="5.2" fill="#2e6ad4"/>
<circle cx="1165.33" cy="842.31" r="5.2" fill="#2e6ad4"/>
<circle cx="1167.97" cy="841.5" r="5.2" fill="#2e6ad4"/>
<circle cx="1169.57" cy="845.08" r="5.2" fill="#2e6ad4"/>
<circle cx="1171.8" cy="843.62" r="5.2" fill="#2e6ad4"/>
<circle cx="1174.02" cy="844.34" r="5.2" fill="#2e6ad4"/>
<circle cx="1175.84" cy="844.93" r="5.2" fill="#2e6ad4"/>
<circle cx="1177.56" cy="843.69" r="5.2" fill="#2e6ad4"/>
<circle cx="1180.34" cy="844.75" r="5.2" fill="#2e6ad4"/>
<circle cx="1182.54" cy="846.6" r="5.2" fill="#2e6ad4"/>
<circle cx="1184.61" cy="848.06" r="5.2" fill="#2e6ad4"/>
<circle cx="1186.22" cy="849.26" r="5.2" fill="#2e6ad4"/>
<circle cx="1187.92" cy="847.65" r="5.2" fill="#2e6ad4"/>
<circle cx="1190.62" cy="848.96" r="5.2" fill="#2e6ad4"/>
<circle cx="1192.29" cy="845.69" r="5.2" fill="#2e6ad4"/>
<circle cx="1195.01" cy="849.29" r="5.2" fill="#2e6ad4"/>
<circle cx="1196.46" cy="849.09" r="5.2" fill="#2e6ad4"/>
<circle cx="1198.37" cy="846.1" r="5.2" fill="#2e6ad4"/>
<circle cx="1201.28" cy="844.79" r="5.2" fill="#2e6ad4"/>
<circle cx="1202.98" cy="847.58" r="5.2" fill="#2e6ad4"/>
<circle cx="1205.28" cy="848.97" r="5.2" fill="#2e6ad4"/>
<circle cx="1206.62" cy="848.42" r="5.2" fill="#2e6ad4"/>
<circle cx="1209.29" cy="846.83" r="5.2" fill="#2e6ad4"/>
<circle cx="1210.98" cy="848.81" r="5.2" fill="#2e6ad4"/>
<circle cx="1213.16" cy="848.73" r="5.2" fill="#2e6ad4"/>
<circle cx="1215.21" cy="847.97" r="5.2" fill="#2e6ad4"/>
<circle cx="1217.93" cy="846.89" r="5.2" fill="#2e6ad4"/>
<circle cx="1219.88" cy="845.75" r="5.2" fill="#2e6ad4"/>
<circle cx="1222.08" cy="849.48" r="5.2" fill="#2e6ad4"/>
<circle cx="1223.55" cy="851.45" r="5.2" fill="#2e6ad4"/>
<circle cx="1226.03" cy="851.5" r="5.2" fill="#2e6ad4"/>
<circle cx="1228.07" cy="850.34" r="5.2" fill="#2e6ad4"/>
<circle cx="1229.84" cy="851.08" r="5.2" fill="#2e6ad4"/>
<circle cx="1232.31" cy="849.62" r="5.2" fill="#2e6ad4"/>
<circle cx="1233.87" cy="852.6" r="5.2" fill="#2e6ad4"/>
<circle cx="1236.17" cy="850.98" r="5.2" fill="#2e6ad4"/>
<circle cx="1237.84" cy="847.76" r="5.2" fill="#2e6ad4"/>
<circle cx="1240.06" cy="850.01" r="5.2" fill="#2e6ad4"/>
<circle cx="1242.34" cy="851" r="5.2" fill="#2e6ad4"/>
<circle cx="1244.38" cy="848.26" r="5.2" fill="#2e6ad4"/>
<circle cx="1246.44" cy="847.93" r="5.2" fill="#2e6ad4"/>
<circle cx="1248.77" cy="848.54" r="5.2" fill="#2e6ad4"/>
<circle cx="1251.18" cy="847.44" r="5.2" fill="#2e6ad4"/>
<circle cx="1252.49" cy="850.46" r="5.2" fill="#2e6ad4"/>
<circle cx="1255.39" cy="849.31" r="5.2" fill="#2e6ad4"/>
<circle cx="1256.59" cy="849.32" r="5.2" fill="#2e6ad4"/>
<circle cx="1258.79" cy="849.19" r="5.2" fill="#2e6ad4"/>
<circle cx="1261.11" cy="848.31" r="5.2" fill="#2e6ad4"/>
<circle cx="1263.28" cy="850.87" r="5.2" fill="#2e6ad4"/>
<circle cx="1265.1" cy="849.23" r="5.2" fill="#2e6ad4"/>
<circle cx="1267.52" cy="851.35" r="5.2" fill="#2e6ad4"/>
<circle cx="1269.98" cy="851.42" r="5.2" fill="#2e6ad4"/>
<circle cx="1271.29" cy="849.18" r="5.2" fill="#2e6ad4"/>
<circle cx="1273.18" cy="849.22" r="5.2" fill="#2e6ad4"/>
<circle cx="1276.07" cy="850" r="5.2" fill="#2e6ad4"/>
<circle cx="1277.79" cy="850.67" r="5.2" fill="#2e6ad4"/>
<circle cx="1280.06" cy="854.3" r="5.2" fill="#2e6ad4"/>
<circle cx="1282.06" cy="854.31" r="5.2" fill="#2e6ad4"/>
<circle cx="1283.61" cy="851.13" r="5.2" fill="#2e6ad4"/>
<circle cx="1285.71" cy="853.05" r="5.2" fill="#2e6ad4"/>
<circle cx="1287.76" cy="854.64" r="5.2" fill="#2e6ad4"/>
<circle cx="1290.67" cy="853.78" r="5.2" fill="#2e6ad4"/>
<circle cx="1292.17" cy="851.9" r="5.2" fill="#2e6ad4"/>
<circle cx="1294.64" cy="850.32" r="5.2" fill="#2e6ad4"/>
<circle cx="1296.39" cy="852.1" r="5.2" fill="#2e6ad4"/>
<circle cx="1298.64" cy="851.28" r="5.2" fill="#2e6ad4"/>
<circle cx="1300.46" cy="852.26" r="5.2" fill="#2e6ad4"/>
<circle cx="1302.63" cy="850.02" r="5.2" fill="#2e6ad4"/>
<circle cx="1304.95" cy="849.28" r="5.2" fill="#2e6ad4"/>
<circle cx="1307.38" cy="849.74" r="5.2" fill="#2e6ad4"/>
<circle cx="1309.32" cy="850.46" r="5.2" fill="#2e6ad4"/>
<circle cx="1310.8" cy="847.6" r="5.2" fill="#2e6ad4"/>
<circle cx="1313.19" cy="850" r="5.2" fill="#2e6ad4"/>
<circle cx="1314.93" cy="850.22" r="5.2" fill="#2e6ad4"/>
<circle cx="1317.08" cy="849.34" r="5.2" fill="#2e6ad4"/>
<circle cx="1319.09" cy="848.02" r="5.2" fill="#2e6ad4"/>
<circle cx="1321.66" cy="849.79" r="5.2" fill="#2e6ad4"/>
<circle cx="1323.18" cy="850.55" r="5.2" fill="#2e6ad4"/>
<circle cx="1325.76" cy="850.53" r="5.2" fill="#2e6ad4"/>
<circle cx="1327.81" cy="848.68" r="5.2" fill="#2e6ad4"/>
<circle cx="1330.33" cy="852.38" r="5.2" fill="#2e6ad4"/>
<circle cx="1331.57" cy="850" r="5.2" fill="#2e6ad4"/>
<circle cx="1333.72" cy="850.2" r="5.2" fill="#2e6ad4"/>
<circle cx="1336.06" cy="853.92" r="5.2" fill="#2e6ad4"/>
<circle cx="1338.37" cy="855.17" r="5.2" fill="#2e6ad4"/>
<circle cx="1340.63" cy="850.99" r="5.2" fill="#2e6ad4"/>
<circle cx="1342.63" cy="853.43" r="5.2" fill="#2e6ad4"/>
<circle cx="1344.09" cy="853.46" r="5.2" fill="#2e6ad4"/>
<circle cx="1346.74" cy="851.83" r="5.2" fill="#2e6ad4"/>
<circle cx="1349.01" cy="856.19" r="5.2" fill="#2e6ad4"/>
<circle cx="1351.19" cy="852.12" r="5.2" fill="#2e6ad4"/>
<circle cx="1352.64" cy="852.2" r="5.2" fill="#2e6ad4"/>
<circle cx="1354.5" cy="854.95" r="5.2" fill="#2e6ad4"/>
<circle cx="1356.89" cy="854.82" r="5.2" fill="#2e6ad4"/>
<circle cx="1359.3" cy="853.53" r="5.2" fill="#2e6ad4"/>
<circle cx="1361.44" cy="855.07" r="5.2" fill="#2e6ad4"/>
<circle cx="1363.69" cy="851.54" r="5.2" fill="#2e6ad4"/>
<circle cx="1365.11" cy="856.32" r="5.2" fill="#2e6ad4"/>
<circle cx="1367.72" cy="853.14" r="5.2" fill="#2e6ad4"/>
<circle cx="1369.78" cy="856.28" r="5.2" fill="#2e6ad4"/>
<circle cx="1371.82" cy="853.08" r="5.2" fill="#2e6ad4"/>
<circle cx="1373.83" cy="852.82" r="5.2" fill="#2e6ad4"/>
<circle cx="1375.75" cy="855.4" r="5.2" fill="#2e6ad4"/>
<circle cx="1378.04" cy="853.83" r="5.2" fill="#2e6ad4"/>
<circle cx="1379.82" cy="853.04" r="5.2" fill="#2e6ad4"/>
<circle cx="1381.52" cy="852.63" r="5.2" fill="#2e6ad4"/>
<circle cx="1384.2" cy="853.63" r="5.2" fill="#2e6ad4"/>
<circle cx="1385.76" cy="850.33" r="5.2" fill="#2e6ad4"/>
<circle cx="1388.55" cy="852.54" r="5.2" fill="#2e6ad4"/>
<circle cx="1389.85" cy="851.75" r="5.2" fill="#2e6ad4"/>
<circle cx="1392.07" cy="852.57" r="5.2" fill="#2e6ad4"/>
<circle cx="1394.77" cy="851.45" r="5.2" fill="#2e6ad4"/>
<circle cx="1396.81" cy="850.49" r="5.2" fill="#2e6ad4"/>
<circle cx="1398.31" cy="851.87" r="5.2" fill="#2e6ad4"/>
<circle cx="1400.63" cy="853.95" r="5.2" fill="#2e6ad4"/>
<circle cx="1403.14" cy="853.88" r="5.2" fill="#2e6ad4"/>
<circle cx="1404.51" cy="857.35" r="5.2" fill="#2e6ad4"/>
<circle cx="1407" cy="856.35" r="5.2" fill="#2e6ad4"/>
<circle cx="1408.92" cy="856.83" r="5.2" fill="#2e6ad4"/>
<circle cx="1411.42" cy="855.91" r="5.2" fill="#2e6ad4"/>
<circle cx="1413.13" cy="856.97" r="5.2" fill="#2e6ad4"/>
<circle cx="1415.31" cy="856.67" r="5.2" fill="#2e6ad4"/>
<circle cx="1417.16" cy="856.52" r="5.2" fill="#2e6ad4"/>
<circle cx="1419.25" cy="857.25" r="5.2" fill="#2e6ad4"/>
<circle cx="1421.1" cy="857.13" r="5.2" fill="#2e6ad4"/>
<circle cx="1423.08" cy="856.94" r="5.2" fill="#2e6ad4"/>
<circle cx="1425.29" cy="857.15" r="5.2" fill="#2e6ad4"/>
<circle cx="1427.42" cy="858.51" r="5.2" fill="#2e6ad4"/>
<circle cx="1430.03" cy="854.88" r="5.2" fill="#2e6ad4"/>
<circle cx="1432.37" cy="857.16" r="5.2" fill="#2e6ad4"/>
<circle cx="1433.6" cy="856.95" r="5.2" fill="#2e6ad4"/>
<circle cx="1436.43" cy="853.45" r="5.2" fill="#2e6ad4"/>
<circle cx="1437.76" cy="853.49" r="5.2" fill="#2e6ad4"/>
<circle cx="1440.35" cy="854.78" r="5.2" fill="#2e6ad4"/>
<circle cx="1441.9" cy="852.3" r="5.2" fill="#2e6ad4"/>
<circle cx="1443.98" cy="853.35" r="5.2" fill="#2e6ad4"/>
<circle cx="1446.25" cy="853.63" r="5.2" fill="#2e6ad4"/>
<circle cx="1448.98" cy="853.75" r="5.2" fill="#2e6ad4"/>
<circle cx="1450.5" cy="852.84" r="5.2" fill="#2e6ad4"/>
<circle cx="1452.84" cy="856.08" r="5.2" fill="#2e6ad4"/>
<circle cx="1454.75" cy="857.24" r="5.2" fill="#2e6ad4"/>
<circle cx="1457.12" cy="858.28" r="5.2" fill="#2e6ad4"/>
<circle cx="1459.07" cy="858.58" r="5.2" fill="#2e6ad4"/>
<circle cx="1461.04" cy="856.71" r="5.2" fill="#2e6ad4"/>
<circle cx="1463.27" cy="856.63" r="5.2" fill="#2e6ad4"/>
<circle cx="909.53" cy="750.5" r="5.5" fill="#2e6ad4"/>
<circle cx="911.42" cy="757.69" r="5.5" fill="#2e6ad4"/>
<circle cx="913.26" cy="764.91" r="5.5" fill="#2e6ad4"/>
<circle cx="917" cy="771.62" r="5.5" fill="#2e6ad4"/>
<circle cx="918.62" cy="777.64" r="5.5" fill="#2e6ad4"/>
<circle cx="920.55" cy="782.48" r="5.5" fill="#2e6ad4"/>
<circle cx="925.58" cy="787.24" r="5.5" fill="#2e6ad4"/>
<circle cx="928.54" cy="792.93" r="5.5" fill="#2e6ad4"/>
<circle cx="935" cy="796.9" r="5.5" fill="#2e6ad4"/>
<circle cx="939.28" cy="801.08" r="5.5" fill="#2e6ad4"/>
<circle cx="944.95" cy="802.5" r="5.5" fill="#2e6ad4"/>
<circle cx="903.6" cy="537.8" r="6.6" fill="#2f62cc"/>
<circle cx="905.4" cy="681.8" r="6.6" fill="#2f62cc"/>
<circle cx="906.8" cy="737.3" r="6.6" fill="#2f62cc"/>
<circle cx="906.8" cy="752" r="6.6" fill="#2f62cc"/>
</g>
<path d="M904.2,839.2 L904.4,760 L904.7,680 L905.2,620 L905.8,605 L906.8,595 L908.3,586 L910.5,580 L913,577 L916,575.8 L951.8,575.6 L952.8,574.3 L1460.5,574.3" stroke="#f07318" stroke-width="2.6" fill="none" stroke-linejoin="round" />
<path d="M904.3,540 L904.6,600 L906.6,680 L908.3,740 L908.7,776 L909.8,781.5 L912,785 L915.5,787.6 L921,790 L926.7,792.2 L930.82,794.18 L932.56,794.78 L934.29,795.37 L936.03,795.95 L937.76,796.53 L939.5,797.12 L941.23,797.73 L942.97,798.33 L944.7,798.93 L946.44,799.52 L948.17,800.09 L949.91,800.65 L951.64,801.18 L953.38,801.68 L955.12,802.15 L956.85,802.59 L958.58,803.01 L960.32,803.41 L962.05,803.8 L963.79,804.18 L965.52,804.55 L967.26,804.93 L969,805.31 L970.73,805.7 L972.46,806.11 L974.2,806.53 L975.93,806.98 L977.67,807.46 L979.4,807.98 L981.14,808.54 L982.88,809.12 L984.61,809.73 L986.34,810.35 L988.08,810.97 L989.81,811.59 L991.55,812.19 L993.28,812.77 L995.02,813.32 L996.75,813.84 L998.49,814.37 L1000.22,814.88 L1001.96,815.39 L1003.69,815.89 L1005.43,816.38 L1007.16,816.86 L1008.9,817.33 L1010.63,817.79 L1012.37,818.23 L1014.11,818.66 L1015.84,819.07 L1017.57,819.47 L1019.31,819.84 L1021.04,820.21 L1022.78,820.56 L1024.51,820.9 L1026.25,821.24 L1027.98,821.57 L1029.72,821.9 L1031.45,822.23 L1033.19,822.57 L1034.92,822.9 L1036.66,823.25 L1038.39,823.6 L1040.13,823.96 L1041.87,824.33 L1043.6,824.69 L1045.34,825.06 L1047.07,825.42 L1048.8,825.77 L1050.54,826.11 L1052.27,826.44 L1054.01,826.76 L1055.74,827.05 L1057.48,827.34 L1059.21,827.63 L1060.95,827.9 L1062.68,828.17 L1064.42,828.43 L1066.15,828.69 L1067.89,828.94 L1069.62,829.19 L1071.36,829.43 L1073.1,829.67 L1074.83,829.91 L1076.57,830.14 L1078.3,830.37 L1080.03,830.6 L1081.77,830.82 L1083.5,831.03 L1085.24,831.24 L1086.97,831.44 L1088.71,831.63 L1090.44,831.82 L1092.18,832.01 L1093.91,832.19 L1095.65,832.37 L1097.38,832.56 L1099.12,832.74 L1100.86,832.93 L1102.59,833.12 L1104.33,833.32 L1106.06,833.52 L1107.8,833.73 L1109.53,833.95 L1111.26,834.17 L1113,834.41 L1114.73,834.66 L1116.47,834.94 L1118.2,835.23 L1119.94,835.53 L1121.67,835.84 L1123.41,836.16 L1125.14,836.49 L1126.88,836.81 L1128.62,837.14 L1130.35,837.46 L1132.09,837.78 L1133.82,838.08 L1135.56,838.38 L1137.29,838.66 L1139.03,838.93 L1140.76,839.2 L1142.49,839.48 L1144.23,839.75 L1145.96,840.02 L1147.7,840.29 L1149.43,840.56 L1151.17,840.82 L1152.9,841.07 L1154.64,841.31 L1156.38,841.54 L1158.11,841.75 L1159.85,841.96 L1161.58,842.15 L1163.32,842.32 L1165.05,842.48 L1166.78,842.63 L1168.52,842.76 L1170.26,842.89 L1171.99,843.02 L1173.72,843.13 L1175.46,843.25 L1177.19,843.36 L1178.93,843.46 L1180.66,843.57 L1182.4,843.68 L1184.13,843.79 L1185.87,843.9 L1187.61,844.01 L1189.34,844.13 L1191.08,844.26 L1192.81,844.38 L1194.55,844.51 L1196.28,844.63 L1198.01,844.76 L1199.75,844.89 L1201.48,845.01 L1203.22,845.14 L1204.95,845.27 L1206.69,845.4 L1208.42,845.53 L1210.16,845.66 L1211.89,845.79 L1213.63,845.92 L1215.37,846.05 L1217.1,846.19 L1218.84,846.33 L1220.57,846.47 L1222.3,846.61 L1224.04,846.76 L1225.78,846.91 L1227.51,847.06 L1229.24,847.21 L1230.98,847.36 L1232.71,847.51 L1234.45,847.66 L1236.18,847.81 L1237.92,847.95 L1239.65,848.09 L1241.39,848.22 L1243.12,848.35 L1244.86,848.47 L1246.6,848.59 L1248.33,848.69 L1250.07,848.8 L1251.8,848.9 L1253.53,849.01 L1255.27,849.1 L1257.01,849.2 L1258.74,849.29 L1260.47,849.39 L1262.21,849.48 L1263.94,849.57 L1265.68,849.65 L1267.41,849.74 L1269.15,849.82 L1270.88,849.91 L1272.62,849.99 L1274.36,850.07 L1276.09,850.15 L1277.83,850.24 L1279.56,850.32 L1281.3,850.4 L1283.03,850.48 L1284.76,850.56 L1286.5,850.64 L1288.23,850.72 L1289.97,850.8 L1291.7,850.88 L1293.44,850.97 L1295.17,851.05 L1296.91,851.13 L1298.64,851.21 L1300.38,851.29 L1302.12,851.37 L1303.85,851.45 L1305.59,851.53 L1307.32,851.6 L1309.05,851.68 L1310.79,851.76 L1312.53,851.83 L1314.26,851.9 L1315.99,851.98 L1317.73,852.05 L1319.46,852.12 L1321.2,852.18 L1322.93,852.25 L1324.67,852.32 L1326.4,852.38 L1328.14,852.44 L1329.88,852.5 L1331.61,852.56 L1333.35,852.62 L1335.08,852.67 L1336.82,852.72 L1338.55,852.78 L1340.28,852.83 L1342.02,852.88 L1343.76,852.93 L1345.49,852.98 L1347.22,853.03 L1348.96,853.07 L1350.69,853.12 L1352.43,853.17 L1354.16,853.21 L1355.9,853.26 L1357.63,853.3 L1359.37,853.35 L1361.11,853.39 L1362.84,853.44 L1364.58,853.49 L1366.31,853.53 L1368.05,853.58 L1369.78,853.63 L1371.51,853.67 L1373.25,853.72 L1374.98,853.77 L1376.72,853.82 L1378.45,853.87 L1380.19,853.92 L1381.92,853.96 L1383.66,854.01 L1385.39,854.06 L1387.13,854.11 L1388.87,854.16 L1390.6,854.21 L1392.34,854.26 L1394.07,854.3 L1395.81,854.35 L1397.54,854.4 L1399.28,854.45 L1401.01,854.5 L1402.74,854.55 L1404.48,854.59 L1406.21,854.64 L1407.95,854.69 L1409.68,854.74 L1411.42,854.79 L1413.15,854.84 L1414.89,854.88 L1416.62,854.93 L1418.36,854.98 L1420.1,855.03 L1421.83,855.08 L1423.57,855.13 L1425.3,855.17 L1427.03,855.22 L1428.77,855.27 L1430.51,855.32 L1432.24,855.37 L1433.97,855.42 L1435.71,855.46 L1437.44,855.51 L1439.18,855.56 L1440.91,855.61 L1442.65,855.66 L1444.38,855.7 L1446.12,855.75 L1447.86,855.8 L1449.59,855.85 L1451.32,855.9 L1453.06,855.95 L1454.8,855.99 L1456.53,856.04 L1458.26,856.09" stroke="#f8143a" stroke-width="2.2" fill="none" stroke-linejoin="round" />
<rect x="887.5" y="516.8" width="605" height="342.5" fill="none" stroke="#000" stroke-width="2"/>
<line x1="886.5" y1="859.2" x2="877.5" y2="859.2" stroke="#000" stroke-width="2" />
<line x1="886.5" y1="790.72" x2="877.5" y2="790.72" stroke="#000" stroke-width="2" />
<line x1="886.5" y1="722.24" x2="877.5" y2="722.24" stroke="#000" stroke-width="2" />
<line x1="886.5" y1="653.76" x2="877.5" y2="653.76" stroke="#000" stroke-width="2" />
<line x1="886.5" y1="585.28" x2="877.5" y2="585.28" stroke="#000" stroke-width="2" />
<line x1="886.5" y1="516.8" x2="877.5" y2="516.8" stroke="#000" stroke-width="2" />
<line x1="886.5" y1="824.96" x2="881.5" y2="824.96" stroke="#000" stroke-width="2" />
<line x1="886.5" y1="756.48" x2="881.5" y2="756.48" stroke="#000" stroke-width="2" />
<line x1="886.5" y1="688" x2="881.5" y2="688" stroke="#000" stroke-width="2" />
<line x1="886.5" y1="619.52" x2="881.5" y2="619.52" stroke="#000" stroke-width="2" />
<line x1="886.5" y1="551.04" x2="881.5" y2="551.04" stroke="#000" stroke-width="2" />
<line x1="904.8" y1="860.3" x2="904.8" y2="868.8" stroke="#000" stroke-width="2" />
<line x1="1008.9" y1="860.3" x2="1008.9" y2="868.8" stroke="#000" stroke-width="2" />
<line x1="1113" y1="860.3" x2="1113" y2="868.8" stroke="#000" stroke-width="2" />
<line x1="1217.1" y1="860.3" x2="1217.1" y2="868.8" stroke="#000" stroke-width="2" />
<line x1="1321.2" y1="860.3" x2="1321.2" y2="868.8" stroke="#000" stroke-width="2" />
<line x1="1425.3" y1="860.3" x2="1425.3" y2="868.8" stroke="#000" stroke-width="2" />
<line x1="956.85" y1="860.3" x2="956.85" y2="864.8" stroke="#000" stroke-width="2" />
<line x1="1060.95" y1="860.3" x2="1060.95" y2="864.8" stroke="#000" stroke-width="2" />
<line x1="1165.05" y1="860.3" x2="1165.05" y2="864.8" stroke="#000" stroke-width="2" />
<line x1="1269.15" y1="860.3" x2="1269.15" y2="864.8" stroke="#000" stroke-width="2" />
<line x1="1373.25" y1="860.3" x2="1373.25" y2="864.8" stroke="#000" stroke-width="2" />
<line x1="1477.35" y1="860.3" x2="1477.35" y2="864.8" stroke="#000" stroke-width="2" />
<circle cx="920.4" cy="549.3" r="8.3" fill="#1e86ea"/>
<text transform="translate(936.98,558.3) scale(1.0965,1)" font-family="Liberation Sans, sans-serif" font-size="24" fill="#000" >Carrier density n</text>
<line x1="1133.5" y1="552.2" x2="1180.3" y2="552.2" stroke="#f07318" stroke-width="2.8" />
<text transform="translate(1182.38,561) scale(1.0845,1)" font-family="Liberation Sans, sans-serif" font-size="24" fill="#000" >Trapped Carrier density</text>
<text transform="translate(928.2,613) scale(1.1044,1)" font-family="Liberation Sans, sans-serif" font-size="23.5" fill="#000" >Carrier</text>
<text transform="translate(928.51,644.9) scale(1.1138,1)" font-family="Liberation Sans, sans-serif" font-size="23.5" fill="#000" >trapping;</text>
<text transform="translate(927.72,676.7) scale(1.1140,1)" font-family="Liberation Sans, sans-serif" font-size="23.5" fill="#000" >~1 ps</text>
<text transform="translate(1172.5,613.9) scale(1.1160,1)" font-family="Liberation Sans, sans-serif" font-size="23.5" fill="#000" >Defect-assisted</text>
<text transform="translate(1173.6,644.5) scale(1.1128,1)" font-family="Liberation Sans, sans-serif" font-size="23.5" fill="#000" >Auger</text>
<text transform="translate(1172.9,676.6) scale(1.1135,1)" font-family="Liberation Sans, sans-serif" font-size="23.5" fill="#000" >recombination;</text>
<text transform="translate(1173.13,707) scale(1.1096,1)" font-family="Liberation Sans, sans-serif" font-size="23.5" fill="#000" >~ 100 ps</text>
<text transform="translate(911.34,848) scale(1.0390,1)" font-family="Liberation Sans, sans-serif" font-size="25.5" fill="#000" >5 min</text>
<text transform="translate(752.47,497.9) scale(1.1198,1)" font-family="Liberation Sans, sans-serif" font-size="32" font-weight="bold" fill="#000" >e</text>
<text transform="translate(855.91,866.62) scale(1.1000,1)" font-family="Liberation Sans, sans-serif" font-size="25.5" fill="#000" >0</text>
<text transform="translate(840.35,798.14) scale(1.1000,1)" font-family="Liberation Sans, sans-serif" font-size="25.5" fill="#000" >10</text>
<text transform="translate(840.35,729.66) scale(1.1000,1)" font-family="Liberation Sans, sans-serif" font-size="25.5" fill="#000" >20</text>
<text transform="translate(840.35,661.18) scale(1.1000,1)" font-family="Liberation Sans, sans-serif" font-size="25.5" fill="#000" >30</text>
<text transform="translate(840.35,592.7) scale(1.1000,1)" font-family="Liberation Sans, sans-serif" font-size="25.5" fill="#000" >40</text>
<text transform="translate(840.35,524.23) scale(1.1000,1)" font-family="Liberation Sans, sans-serif" font-size="25.5" fill="#000" >50</text>
<text transform="translate(896.35,894.5) scale(1.1000,1)" font-family="Liberation Sans, sans-serif" font-size="25.5" fill="#000" >0</text>
<text transform="translate(992.66,894.5) scale(1.1000,1)" font-family="Liberation Sans, sans-serif" font-size="25.5" fill="#000" >30</text>
<text transform="translate(1096.62,894.5) scale(1.1000,1)" font-family="Liberation Sans, sans-serif" font-size="25.5" fill="#000" >60</text>
<text transform="translate(1200.79,894.5) scale(1.1000,1)" font-family="Liberation Sans, sans-serif" font-size="25.5" fill="#000" >90</text>
<text transform="translate(1296.69,894.5) scale(1.1000,1)" font-family="Liberation Sans, sans-serif" font-size="25.5" fill="#000" >120</text>
<text transform="translate(1400.79,894.5) scale(1.1000,1)" font-family="Liberation Sans, sans-serif" font-size="25.5" fill="#000" >150</text>
<text transform="translate(1085.77,935.8) scale(1.0045,1)" font-family="Liberation Sans, sans-serif" font-size="31.5" fill="#000" >Delay time (ps)</text>
<text transform="translate(816.7,864.4) rotate(-90) scale(1.0,1)" font-family="Liberation Sans, sans-serif" font-size="31.5" fill="#000">Carrier density(×10<tspan font-size="19" dy="-14">12</tspan><tspan dy="14">/cm</tspan><tspan font-size="19" dy="-14">2</tspan><tspan dy="14">)</tspan></text>
</svg></body></html>
